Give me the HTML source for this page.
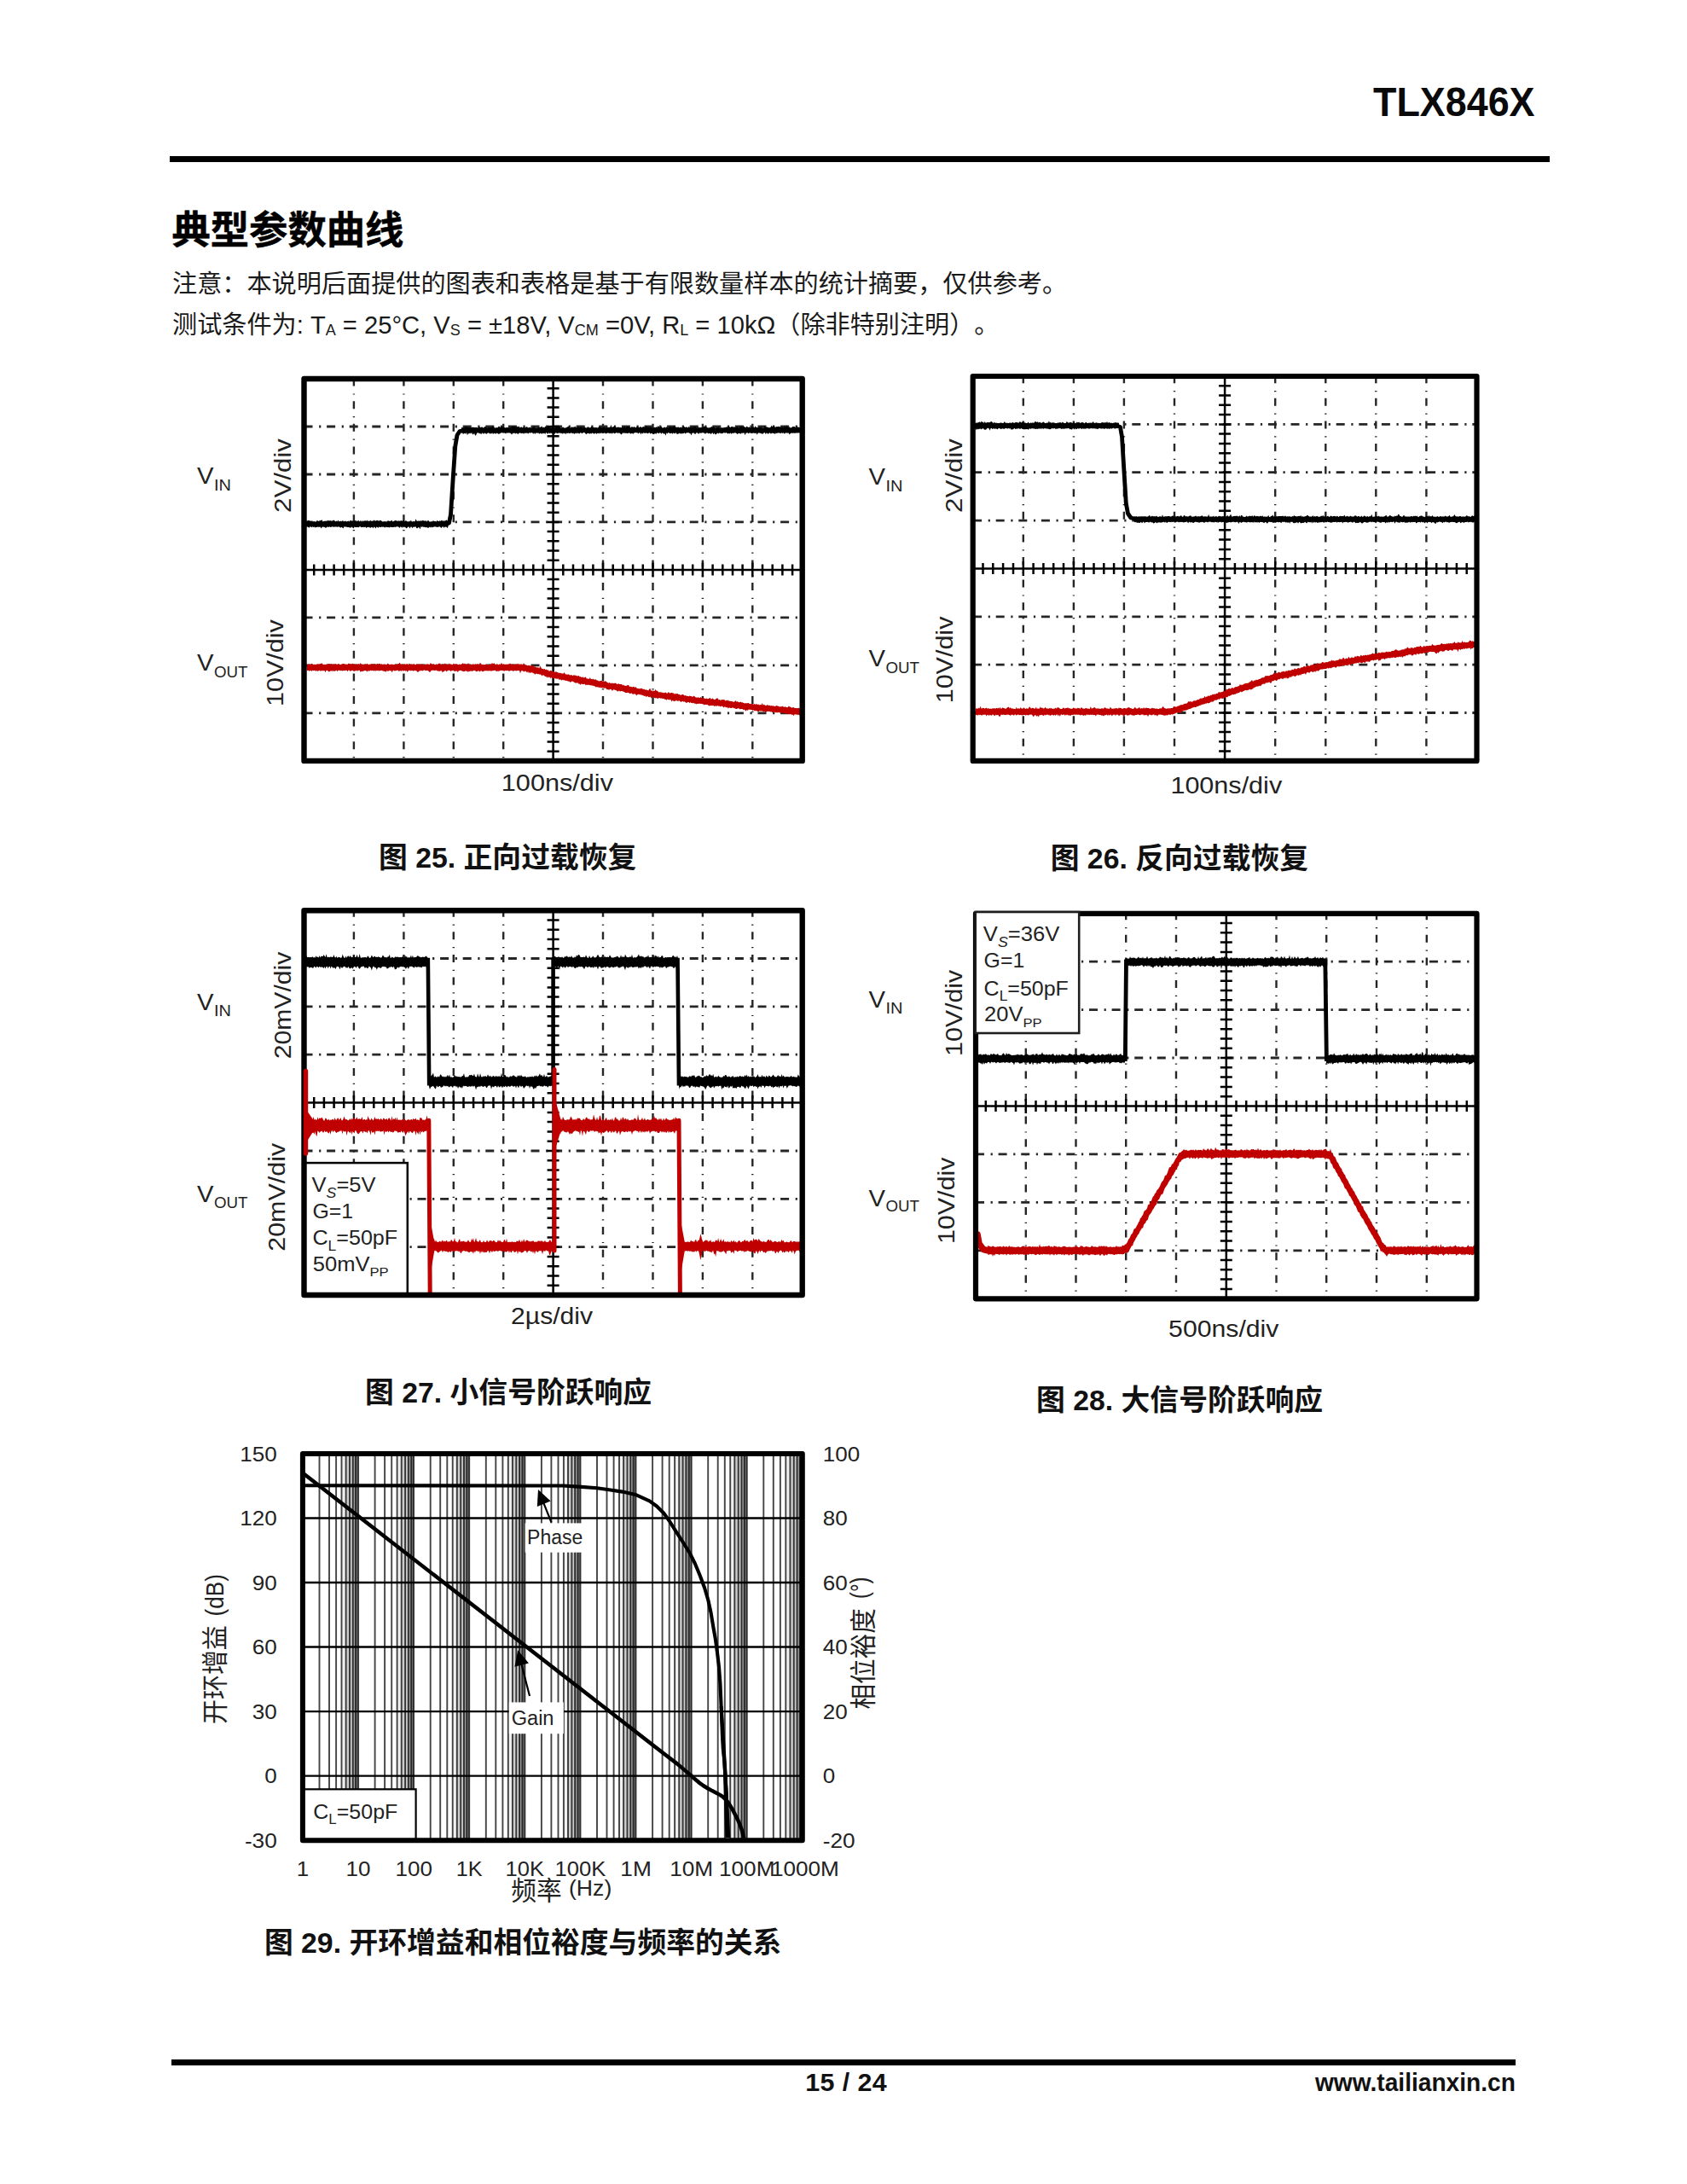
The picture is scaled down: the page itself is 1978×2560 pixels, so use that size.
<!DOCTYPE html>
<html lang="zh-CN">
<head>
<meta charset="utf-8">
<title>TLX846X 典型参数曲线</title>
<style>
html,body{margin:0;padding:0;background:#fff;}
body{text-spacing-trim:space-all;width:1978px;height:2560px;position:relative;overflow:hidden;font-family:"Liberation Sans", "Noto Sans CJK SC", sans-serif;color:#111;}
.abs{position:absolute;white-space:nowrap;line-height:1;}
.hdr{left:1609.5px;top:95.1px;font-size:48.5px;font-weight:bold;color:#0a0a0a;transform-origin:0 0;transform:scaleX(0.925);}
.rule{position:absolute;background:#000;}
h1{margin:0;font-size:45.3px;font-weight:700;left:201.5px;top:248.3px;color:#000;-webkit-text-stroke:0.5px #000;}
p{margin:0;}
.note{left:202px;font-size:29.15px;color:#1a1a1a;}
.cap{font-size:33.8px;font-weight:bold;color:#111;}
.ftr{font-size:30.4px;font-weight:bold;color:#111;transform-origin:0 0;}
svg{position:absolute;left:0;top:0;}
svg text{font-family:"Liberation Sans", "Noto Sans CJK SC", sans-serif;fill:#222;}
sub{font-size:62%;vertical-align:baseline;position:relative;top:0.12em;}
</style>
</head>
<body>
<header><div class="abs hdr" id="hdr">TLX846X</div></header>
<div class="rule" style="left:198.5px;top:183px;width:1618.5px;height:7.4px"></div>
<main>
<h1 class="abs" id="h1">典型参数曲线</h1>
<p class="abs note" id="n1" style="top:319px">注意：本说明后面提供的图表和表格是基于有限数量样本的统计摘要，仅供参考。</p>
<p class="abs note" id="n2" style="top:367px">测试条件为: T<sub>A</sub> = 25°C, V<sub>S</sub> = ±18V, V<sub>CM</sub> =0V, R<sub>L</sub> = 10kΩ（除非特别注明）。</p>
<svg width="1978" height="2560" viewBox="0 0 1978 2560">
<g id="fig25">
<path d="M414.9,443.6V891.9M473.4,443.6V891.9M531.8,443.6V891.9M590.2,443.6V891.9M707,443.6V891.9M765.5,443.6V891.9M823.9,443.6V891.9M882.3,443.6V891.9" stroke="#262626" stroke-width="2.4" stroke-dasharray="9 8.8 1.2 7.6" fill="none"/>
<path d="M356.5,500H940.8M356.5,556H940.8M356.5,611.9H940.8M356.5,723.9H940.8M356.5,779.9H940.8M356.5,835.9H940.8" stroke="#262626" stroke-width="2.8" stroke-dasharray="10 7.6 2.2 6.8" fill="none"/>
<path d="M356.5,667.9H940.8M648.6,444V891.9M368.2,661.4V674.4M379.9,661.4V674.4M391.6,661.4V674.4M403.2,661.4V674.4M414.9,659.4V676.4M426.6,661.4V674.4M438.3,661.4V674.4M450,661.4V674.4M461.7,661.4V674.4M473.4,659.4V676.4M485,661.4V674.4M496.7,661.4V674.4M508.4,661.4V674.4M520.1,661.4V674.4M531.8,659.4V676.4M543.5,661.4V674.4M555.1,661.4V674.4M566.8,661.4V674.4M578.5,661.4V674.4M590.2,659.4V676.4M601.9,661.4V674.4M613.6,661.4V674.4M625.3,661.4V674.4M636.9,661.4V674.4M648.6,659.4V676.4M660.3,661.4V674.4M672,661.4V674.4M683.7,661.4V674.4M695.4,661.4V674.4M707,659.4V676.4M718.7,661.4V674.4M730.4,661.4V674.4M742.1,661.4V674.4M753.8,661.4V674.4M765.5,659.4V676.4M777.2,661.4V674.4M788.8,661.4V674.4M800.5,661.4V674.4M812.2,661.4V674.4M823.9,659.4V676.4M835.6,661.4V674.4M847.3,661.4V674.4M859,661.4V674.4M870.6,661.4V674.4M882.3,659.4V676.4M894,661.4V674.4M905.7,661.4V674.4M917.4,661.4V674.4M929.1,661.4V674.4M641.6,455.2H655.6M641.6,466.4H655.6M641.6,477.6H655.6M641.6,488.8H655.6M641.6,500H655.6M641.6,511.2H655.6M641.6,522.4H655.6M641.6,533.6H655.6M641.6,544.8H655.6M641.6,556H655.6M641.6,567.2H655.6M641.6,578.4H655.6M641.6,589.6H655.6M641.6,600.7H655.6M641.6,611.9H655.6M641.6,623.1H655.6M641.6,634.3H655.6M641.6,645.5H655.6M641.6,656.7H655.6M641.6,667.9H655.6M641.6,679.1H655.6M641.6,690.3H655.6M641.6,701.5H655.6M641.6,712.7H655.6M641.6,723.9H655.6M641.6,735.1H655.6M641.6,746.3H655.6M641.6,757.5H655.6M641.6,768.7H655.6M641.6,779.9H655.6M641.6,791.1H655.6M641.6,802.3H655.6M641.6,813.5H655.6M641.6,824.7H655.6M641.6,835.9H655.6M641.6,847.1H655.6M641.6,858.3H655.6M641.6,869.5H655.6M641.6,880.7H655.6" stroke="#000" stroke-width="2.5" fill="none"/>
<path d="M358.5,611.4 359.5,610.8 360.5,610.7 361.5,610.1 362.5,610.1 363.5,611.3 364.5,611.3 365.5,611.1 366.5,611.3 367.5,611.2 368.5,610.9 369.5,611.6 370.5,611.5 371.5,610.3 372.5,610.3 373.5,611 374.5,610.7 375.5,610.3 376.5,609.9 377.5,609.2 378.5,611.4 379.5,611.1 380.5,610.7 381.5,610.8 382.5,610.4 383.5,611.3 384.5,609.7 385.5,610.8 386.5,610.4 387.5,610.3 388.5,610.9 389.5,611.3 390.5,610.1 391.5,609.6 392.5,611.2 393.5,611.3 394.5,610.6 395.5,611.2 396.5,609.4 397.5,611.4 398.5,610.7 399.5,610.8 400.5,611.3 401.5,610.6 402.5,611.4 403.5,610.9 404.5,610.7 405.5,610.8 406.5,611.4 407.5,611 408.5,610.5 409.5,611.6 410.5,610.8 411.5,609.8 412.5,611.2 413.5,610.6 414.5,610.9 415.5,610.3 416.5,609.9 417.5,611.6 418.5,611.5 419.5,611 420.5,609.8 421.5,611.4 422.5,610 423.5,611.4 424.5,610.1 425.5,611.6 426.5,610.2 427.5,610.8 428.5,610.5 429.5,611 430.5,609.6 431.5,610.9 432.5,610.4 433.5,610.8 434.5,609.9 435.5,610.8 436.5,611.1 437.5,611.3 438.5,609.3 439.5,610.8 440.5,611 441.5,610.1 442.5,609.9 443.5,610.4 444.5,611.3 445.5,609.7 446.5,610.1 447.5,610.8 448.5,611.5 449.5,611.2 450.5,611.3 451.5,611 452.5,611.6 453.5,611.2 454.5,611.2 455.5,610.8 456.5,610.7 457.5,610.9 458.5,610.3 459.5,610.1 460.5,611.5 461.5,611.1 462.5,610.5 463.5,609.9 464.5,610.5 465.5,610.9 466.5,611.4 467.5,610.7 468.5,611.2 469.5,611.1 470.5,610 471.5,611.4 472.5,609.9 473.5,610 474.5,611.6 475.5,610.2 476.5,610.6 477.5,611.2 478.5,611.4 479.5,611 480.5,611.4 481.5,610.2 482.5,611.4 483.5,611.6 484.5,610.9 485.5,611.3 486.5,611.2 487.5,608.2 488.5,610.6 489.5,611.1 490.5,610.9 491.5,611.1 492.5,611.4 493.5,610.6 494.5,611.1 495.5,610.1 496.5,610.3 497.5,611 498.5,611 499.5,610.2 500.5,611.6 501.5,610 502.5,610.2 503.5,611.5 504.5,611.6 505.5,611.2 506.5,611.2 507.5,611.2 508.5,611.3 509.5,611 510.5,611.1 511.5,611.4 512.5,609.9 513.5,610.7 514.5,610.9 515.5,610.3 516.5,611.5 517.5,609.9 518.5,610.2 519.5,611.6 520.5,610.8 521.5,611.2 522.5,610.3 523.5,609.2 524.5,611.4 525.5,611.6 525.5,617.2 524.5,619.2 523.5,617.5 522.5,617.7 521.5,617.5 520.5,618.8 519.5,617.2 518.5,617.5 517.5,619 516.5,617.9 515.5,617.2 514.5,617.5 513.5,617.8 512.5,618 511.5,617.5 510.5,617.4 509.5,617.2 508.5,617.7 507.5,617.8 506.5,618.6 505.5,617.4 504.5,618.5 503.5,617.5 502.5,618.7 501.5,618.8 500.5,617.9 499.5,618.2 498.5,617.9 497.5,617.8 496.5,617.8 495.5,617.2 494.5,617.8 493.5,617.2 492.5,620.5 491.5,618.2 490.5,618.1 489.5,619.3 488.5,619.3 487.5,617.5 486.5,617.3 485.5,617.9 484.5,617.5 483.5,619.3 482.5,617.5 481.5,617.4 480.5,619.6 479.5,617.5 478.5,617.5 477.5,618.6 476.5,619.5 475.5,618.2 474.5,617.4 473.5,618.2 472.5,617.2 471.5,618.8 470.5,617.7 469.5,617.2 468.5,619 467.5,617.8 466.5,617.2 465.5,617.2 464.5,617.4 463.5,618 462.5,617.4 461.5,618 460.5,617.9 459.5,618.1 458.5,617.8 457.5,617.7 456.5,618.6 455.5,617.9 454.5,618.1 453.5,618.1 452.5,617.4 451.5,618.6 450.5,617.9 449.5,617.5 448.5,617.7 447.5,617.4 446.5,618.1 445.5,618.1 444.5,617.4 443.5,618.8 442.5,618.1 441.5,617.6 440.5,619.5 439.5,618 438.5,617.5 437.5,619.3 436.5,618 435.5,617.8 434.5,618.8 433.5,618.4 432.5,617.8 431.5,617.9 430.5,618 429.5,618.9 428.5,617.5 427.5,617.9 426.5,617.8 425.5,617.9 424.5,617.7 423.5,618.3 422.5,617.2 421.5,617.2 420.5,618.2 419.5,618 418.5,618.1 417.5,617.9 416.5,617.9 415.5,617.4 414.5,619.5 413.5,618.5 412.5,617.6 411.5,618.5 410.5,618.6 409.5,618.2 408.5,617.9 407.5,618.1 406.5,617.8 405.5,617.4 404.5,617.5 403.5,617.3 402.5,619.6 401.5,618.5 400.5,617.8 399.5,618.5 398.5,618.3 397.5,617.3 396.5,617.5 395.5,617.8 394.5,617.4 393.5,617.5 392.5,617.5 391.5,617.7 390.5,617.4 389.5,617.3 388.5,617.8 387.5,618.1 386.5,617.3 385.5,618.1 384.5,617.6 383.5,617.8 382.5,618.6 381.5,618.8 380.5,617.7 379.5,617.7 378.5,617.6 377.5,618.1 376.5,619.5 375.5,617.4 374.5,617.7 373.5,617.8 372.5,617.5 371.5,617.9 370.5,617.9 369.5,618.4 368.5,617.4 367.5,618.1 366.5,617.3 365.5,618.3 364.5,617.6 363.5,617.2 362.5,618.8 361.5,618 360.5,617.4 359.5,617.4 358.5,617.7 Z" fill="#000"/>
<path d="M523,614.4 526.5,613 528.5,603 531.5,556 533.8,523 536,510 539,505.5 544,504.4" stroke="#000" stroke-width="4.8" fill="none" stroke-linejoin="round" stroke-linecap="round"/>
<path d="M541,501 542,501.2 543,501 544,501.2 545,500.7 546,500.1 547,500.2 548,500.5 549,501 550,501.1 551,500.7 552,501.2 553,500.9 554,500.4 555,500.9 556,500.7 557,501.2 558,500.7 559,501.1 560,501.5 561,501.1 562,500.5 563,500.5 564,501.2 565,500.1 566,501.2 567,501.5 568.1,500.3 569.1,499.9 570.1,500.4 571.1,501.4 572.1,501 573.1,501 574.1,500.8 575.1,501.1 576.1,501 577.1,500.4 578.1,499.5 579.1,500.6 580.1,501.4 581.1,501.5 582.1,501.1 583.1,501.5 584.1,500.4 585.1,499.3 586.1,501 587.1,499.9 588.1,500.8 589.1,500.3 590.1,500.8 591.1,501.1 592.1,501.3 593.1,501.5 594.1,500.7 595.1,501.3 596.1,501.1 597.1,501.2 598.1,500.9 599.1,501.1 600.1,499.5 601.1,500.1 602.1,500 603.1,499.6 604.1,500.2 605.1,500.8 606.1,499.5 607.1,500.7 608.1,499.2 609.1,500.7 610.1,501.3 611.1,500.1 612.1,501.3 613.1,501 614.1,500.4 615.1,501.3 616.1,501 617.1,500.3 618.1,500.3 619.1,501.4 620.1,501.1 621.2,500.7 622.2,501.3 623.2,501.2 624.2,501 625.2,501.3 626.2,499.2 627.2,501 628.2,501.5 629.2,501.3 630.2,501.3 631.2,500.9 632.2,500.7 633.2,500.7 634.2,500.7 635.2,499.3 636.2,501.3 637.2,500.5 638.2,501.5 639.2,499.8 640.2,500.1 641.2,500.8 642.2,501.1 643.2,500.7 644.2,501.3 645.2,500.8 646.2,501.5 647.2,500.4 648.2,500.2 649.2,500.9 650.2,501.5 651.2,500.9 652.2,500.4 653.2,501.1 654.2,501.3 655.2,499.7 656.2,499.8 657.2,501.4 658.2,501.5 659.2,500.9 660.2,500.6 661.2,501.4 662.2,501.4 663.2,501.4 664.2,500.9 665.2,500.6 666.2,499.8 667.2,500.2 668.2,501.2 669.2,501.4 670.2,499.9 671.2,501 672.2,500.4 673.2,500.7 674.3,499.6 675.3,501.3 676.3,500.4 677.3,501.2 678.3,499.8 679.3,501.2 680.3,500.5 681.3,500.6 682.3,500.7 683.3,501.2 684.3,500.9 685.3,500.5 686.3,501.1 687.3,501.4 688.3,501.2 689.3,500.1 690.3,500.9 691.3,501.2 692.3,501.3 693.3,500.1 694.3,500 695.3,501 696.3,500.7 697.3,501.3 698.3,501 699.3,501 700.3,501.5 701.3,501.2 702.3,499.7 703.3,499.9 704.3,501.1 705.3,501.3 706.3,501.1 707.3,500.7 708.3,500.7 709.3,500.9 710.3,501.3 711.3,500.9 712.3,500.7 713.3,501 714.3,500.8 715.3,501 716.3,497.7 717.3,500.7 718.3,500.6 719.3,500.2 720.3,499.6 721.3,500.3 722.3,501.3 723.3,500.6 724.3,501.1 725.3,500.5 726.3,501 727.4,501 728.4,501.2 729.4,500.8 730.4,501.1 731.4,501.1 732.4,499.6 733.4,501.4 734.4,500.3 735.4,499.9 736.4,500.2 737.4,500 738.4,501.1 739.4,501.3 740.4,500.2 741.4,500.3 742.4,501.1 743.4,500 744.4,500.8 745.4,501.2 746.4,500.4 747.4,499.8 748.4,500.6 749.4,501.2 750.4,500.3 751.4,500.3 752.4,501.3 753.4,500.6 754.4,500 755.4,500.5 756.4,501.1 757.4,499.1 758.4,501.1 759.4,500.5 760.4,500.6 761.4,500.9 762.4,500.6 763.4,500.6 764.4,501.2 765.4,501.5 766.4,501.2 767.4,500.8 768.4,501.2 769.4,500.2 770.4,501.1 771.4,499.3 772.4,499.7 773.4,501.1 774.4,500.1 775.4,499.8 776.4,501.4 777.4,501.4 778.4,501.1 779.4,500.5 780.5,501.4 781.5,500.2 782.5,501 783.5,501.2 784.5,500.2 785.5,500.7 786.5,500.3 787.5,500.8 788.5,501 789.5,499.8 790.5,499.8 791.5,500 792.5,500.8 793.5,500.7 794.5,500.8 795.5,500.5 796.5,501.3 797.5,501 798.5,500.4 799.5,501.5 800.5,500.1 801.5,499.8 802.5,500.3 803.5,500.9 804.5,500.6 805.5,500.6 806.5,501.4 807.5,500 808.5,500.8 809.5,501.3 810.5,500.5 811.5,501.3 812.5,499.8 813.5,501.2 814.5,499.8 815.5,500.1 816.5,501 817.5,501.5 818.5,499.9 819.5,501.2 820.5,501 821.5,501.2 822.5,500.9 823.5,501 824.5,501.4 825.5,499.5 826.5,500.2 827.5,499.8 828.5,500.7 829.5,501.2 830.5,501.2 831.5,501.4 832.5,501.1 833.6,500.7 834.6,499.7 835.6,500.8 836.6,499.7 837.6,500.9 838.6,501.4 839.6,501.2 840.6,501 841.6,501 842.6,500.8 843.6,501.2 844.6,501.4 845.6,501.1 846.6,501.4 847.6,501.2 848.6,501.3 849.6,501 850.6,501.1 851.6,500.4 852.6,500.5 853.6,500.9 854.6,499.8 855.6,500.4 856.6,500.9 857.6,500.1 858.6,500 859.6,500.5 860.6,500.5 861.6,500.4 862.6,501.1 863.6,500.8 864.6,500.5 865.6,500.9 866.6,501.4 867.6,499.2 868.6,500.8 869.6,499.5 870.6,500.9 871.6,499.2 872.6,500 873.6,500.8 874.6,501.1 875.6,499.5 876.6,500.5 877.6,501.1 878.6,500.5 879.6,501 880.6,501.3 881.6,500.5 882.6,500.3 883.6,500.4 884.6,501.3 885.6,499.3 886.7,501.1 887.7,500.9 888.7,501.3 889.7,500.7 890.7,501 891.7,501 892.7,500.2 893.7,501.4 894.7,501.2 895.7,501.4 896.7,499.2 897.7,501.1 898.7,500.5 899.7,500.6 900.7,501.1 901.7,501.2 902.7,501.2 903.7,500.5 904.7,498.4 905.7,500.5 906.7,498.4 907.7,501.1 908.7,500.2 909.7,500.8 910.7,499.8 911.7,500.3 912.7,499.9 913.7,499.8 914.7,500.4 915.7,500.8 916.7,500.4 917.7,500.7 918.7,501.3 919.7,499.7 920.7,500.8 921.7,500.4 922.7,498.5 923.7,501.1 924.7,501.1 925.7,500.3 926.7,501.4 927.7,501.2 928.7,500.8 929.7,499.7 930.7,500.3 931.7,499.9 932.7,501.2 933.7,499.3 934.7,501.4 935.7,499.9 936.7,501.1 937.7,501.1 938.8,501.5 938.8,507.1 937.7,507.3 936.7,507.5 935.7,507.3 934.7,507.7 933.7,507.2 932.7,507.8 931.7,507.8 930.7,507.6 929.7,507.7 928.7,507.5 927.7,507.7 926.7,507.9 925.7,509.5 924.7,507.4 923.7,507.5 922.7,507.7 921.7,507.1 920.7,508.1 919.7,508.4 918.7,507.3 917.7,508 916.7,507.2 915.7,507.7 914.7,507.9 913.7,507.3 912.7,507.4 911.7,507.6 910.7,507.9 909.7,507.6 908.7,508.9 907.7,507.9 906.7,507.9 905.7,507.5 904.7,508 903.7,508.5 902.7,507.3 901.7,507.8 900.7,508.8 899.7,507.8 898.7,507.4 897.7,508.9 896.7,507.1 895.7,507.2 894.7,508.5 893.7,508.6 892.7,508.3 891.7,507.8 890.7,507.5 889.7,507.4 888.7,507.4 887.7,509.7 886.7,507.6 885.6,507.9 884.6,507.7 883.6,507.4 882.6,507.7 881.6,507.7 880.6,508 879.6,507.2 878.6,507.4 877.6,508.3 876.6,507.2 875.6,507.6 874.6,507.6 873.6,510.2 872.6,507.4 871.6,507.5 870.6,507.7 869.6,507.6 868.6,508.7 867.6,508.1 866.6,507.9 865.6,508 864.6,509 863.6,508 862.6,507.4 861.6,507.1 860.6,508.1 859.6,507.6 858.6,507.7 857.6,508.8 856.6,507.2 855.6,508.5 854.6,507.8 853.6,508.4 852.6,508.1 851.6,507.1 850.6,507.5 849.6,507.6 848.6,507.1 847.6,507.9 846.6,508 845.6,508.2 844.6,507.7 843.6,507.3 842.6,508.5 841.6,507.4 840.6,508.1 839.6,509.2 838.6,509.2 837.6,507.5 836.6,509.2 835.6,507.2 834.6,507.8 833.6,508.9 832.5,507.8 831.5,508 830.5,508.2 829.5,507.5 828.5,507.3 827.5,508.3 826.5,508.5 825.5,507.6 824.5,507.2 823.5,507.2 822.5,507.6 821.5,507.8 820.5,507.3 819.5,508.5 818.5,508.2 817.5,507.3 816.5,507.3 815.5,508.8 814.5,508.7 813.5,507.3 812.5,507.7 811.5,507.6 810.5,510.6 809.5,508 808.5,507.9 807.5,507.1 806.5,507.6 805.5,507.1 804.5,507.7 803.5,508.4 802.5,507.3 801.5,508 800.5,508 799.5,508.6 798.5,507.9 797.5,508.5 796.5,507.4 795.5,508.4 794.5,508.8 793.5,508.8 792.5,507.1 791.5,508.2 790.5,507.9 789.5,507.3 788.5,508.7 787.5,507.4 786.5,508.1 785.5,508.1 784.5,507.6 783.5,507.1 782.5,508.4 781.5,507.2 780.5,510.8 779.4,508.1 778.4,508.8 777.4,507.7 776.4,507.2 775.4,508.7 774.4,507.2 773.4,507.3 772.4,508.3 771.4,507.6 770.4,507.2 769.4,508.7 768.4,508 767.4,508.5 766.4,509.1 765.4,508.9 764.4,507.7 763.4,507.9 762.4,508.4 761.4,507.1 760.4,507.8 759.4,508.3 758.4,507.8 757.4,507.2 756.4,507.9 755.4,507.6 754.4,507.3 753.4,508.6 752.4,507.2 751.4,509.3 750.4,507.3 749.4,507.2 748.4,508.6 747.4,507.2 746.4,507.2 745.4,507.1 744.4,507.3 743.4,507.4 742.4,508.8 741.4,508.1 740.4,508 739.4,508.6 738.4,507.7 737.4,507.2 736.4,508 735.4,507.9 734.4,507.7 733.4,507.8 732.4,507.4 731.4,507.7 730.4,507.2 729.4,508.6 728.4,509.4 727.4,508.3 726.3,507.5 725.3,507.5 724.3,507.7 723.3,507.2 722.3,507.3 721.3,508.1 720.3,508.3 719.3,507.2 718.3,507.8 717.3,508.4 716.3,507.3 715.3,508.3 714.3,507.7 713.3,507.6 712.3,507.6 711.3,507.9 710.3,508.5 709.3,507.4 708.3,507.6 707.3,508.1 706.3,508.1 705.3,507.3 704.3,508.3 703.3,507.3 702.3,508.5 701.3,507.6 700.3,507.9 699.3,508.8 698.3,507.5 697.3,508.3 696.3,508.4 695.3,507.8 694.3,507.4 693.3,508.4 692.3,507.8 691.3,508.7 690.3,507.7 689.3,507.9 688.3,508.1 687.3,509.3 686.3,508.1 685.3,507.1 684.3,507.1 683.3,507.4 682.3,508.3 681.3,507.3 680.3,507.3 679.3,508.5 678.3,508 677.3,507.3 676.3,508.4 675.3,507.3 674.3,508.2 673.2,508.8 672.2,507.6 671.2,508.3 670.2,507.5 669.2,507.3 668.2,508.3 667.2,507.7 666.2,507.4 665.2,508.1 664.2,507.6 663.2,509.3 662.2,507.2 661.2,508.4 660.2,507.4 659.2,508.7 658.2,507.4 657.2,508.1 656.2,507.2 655.2,507.7 654.2,507.6 653.2,508.3 652.2,507.2 651.2,507.5 650.2,509 649.2,507.9 648.2,507.2 647.2,508.2 646.2,507.6 645.2,507.8 644.2,508.3 643.2,507.1 642.2,508.9 641.2,507.7 640.2,507.1 639.2,509.1 638.2,507.4 637.2,508.3 636.2,507.8 635.2,508.8 634.2,507.9 633.2,507.8 632.2,508.8 631.2,507.2 630.2,507.8 629.2,507.6 628.2,507.6 627.2,509.1 626.2,507.2 625.2,508.7 624.2,507.2 623.2,507.1 622.2,507.4 621.2,507.6 620.1,507.2 619.1,508.7 618.1,507.3 617.1,507.7 616.1,507.7 615.1,507.5 614.1,508.7 613.1,507.6 612.1,508 611.1,508.1 610.1,507.6 609.1,507.5 608.1,508 607.1,509.3 606.1,507.4 605.1,507.9 604.1,508.6 603.1,507.2 602.1,507.9 601.1,507.7 600.1,509.4 599.1,508.2 598.1,507.5 597.1,507.4 596.1,507.3 595.1,507.7 594.1,507.2 593.1,508.3 592.1,507.9 591.1,507.2 590.1,507.8 589.1,507.3 588.1,507.3 587.1,507.4 586.1,508.3 585.1,508.8 584.1,508.6 583.1,507.7 582.1,507.7 581.1,508.8 580.1,508 579.1,507.7 578.1,508.9 577.1,507.3 576.1,508.5 575.1,507.9 574.1,508.5 573.1,507.3 572.1,507.5 571.1,508.1 570.1,509.1 569.1,507.8 568.1,507.4 567,509 566,507.2 565,508 564,509.3 563,507.4 562,508.4 561,507.2 560,507.2 559,507.9 558,510.4 557,510.2 556,507.4 555,509.5 554,509 553,507.1 552,508.6 551,507.2 550,508.5 549,507.9 548,510.2 547,507.1 546,508.8 545,507.8 544,508 543,508.9 542,507.3 541,507.6 Z" fill="#000"/>
<path d="M359.5,778.8 360.5,778.7 361.5,779.1 362.5,778.3 363.5,778.9 364.5,778.9 365.5,777.5 366.5,778.5 367.5,778.9 368.5,778.7 369.5,778.8 370.5,778.9 371.5,778.4 372.5,778.3 373.5,778.2 374.5,779 375.5,778.1 376.5,777.8 377.5,777.3 378.5,778.7 379.5,778.9 380.5,778.7 381.5,779 382.5,778.8 383.5,778.4 384.5,778.5 385.6,777.9 386.6,778.3 387.6,778.4 388.6,777.9 389.6,779.1 390.6,779.1 391.6,778.2 392.6,779 393.6,777.8 394.6,778.7 395.6,778.7 396.6,777.9 397.6,778.3 398.6,778.9 399.6,779.1 400.6,778.4 401.6,778.4 402.6,777.7 403.6,778.3 404.6,778.6 405.6,778.5 406.6,778.7 407.6,778.8 408.6,777.6 409.6,778 410.6,778.6 411.6,778 412.6,778.7 413.6,777.6 414.6,778.6 415.6,778.4 416.6,778.9 417.6,778.4 418.6,779.1 419.6,778.6 420.6,778.1 421.6,778.8 422.6,776.9 423.6,778.6 424.6,778.2 425.6,778.9 426.6,778.6 427.6,778.7 428.6,778.4 429.6,778.7 430.6,777.5 431.6,779 432.6,778.8 433.6,778.7 434.6,778.6 435.7,778 436.7,778.2 437.7,778.7 438.7,777.8 439.7,778.5 440.7,779 441.7,778.9 442.7,777.5 443.7,779.1 444.7,777.8 445.7,778 446.7,779.1 447.7,778 448.7,778.9 449.7,778.4 450.7,778.4 451.7,778.5 452.7,779 453.7,778.8 454.7,777.6 455.7,778.8 456.7,779 457.7,778.7 458.7,778.8 459.7,778.6 460.7,778.9 461.7,779.1 462.7,778.8 463.7,778.7 464.7,778.5 465.7,779 466.7,778 467.7,778 468.7,776.6 469.7,778.8 470.7,779.1 471.7,779 472.7,778.1 473.7,778.7 474.7,777.9 475.7,779.1 476.7,778.3 477.7,778 478.7,779.2 479.7,777.4 480.7,778.5 481.7,779 482.7,778.4 483.7,778.7 484.7,778.2 485.8,778.3 486.8,779.2 487.8,779 488.8,777.8 489.8,779 490.8,778.5 491.8,778.8 492.8,778.7 493.8,778.7 494.8,778.3 495.8,778.7 496.8,779.1 497.8,778.9 498.8,779 499.8,779.2 500.8,778 501.8,778.6 502.8,778.8 503.8,778.9 504.8,777.1 505.8,777.9 506.8,778.6 507.8,778.7 508.8,778.7 509.8,778.9 510.8,779.1 511.8,778.2 512.8,778.9 513.8,778.1 514.8,777.8 515.8,777.5 516.8,779.1 517.8,779.2 518.8,778.4 519.8,778.2 520.8,779.2 521.8,777.3 522.8,778.4 523.8,778.8 524.8,778.9 525.8,779.2 526.8,777.3 527.8,778.8 528.8,778.2 529.8,779 530.8,779.1 531.8,777.5 532.8,778.5 533.8,778.6 534.8,778.4 535.8,778.6 536.9,778.7 537.9,779.2 538.9,778.2 539.9,779.2 540.9,778.2 541.9,778.2 542.9,777.1 543.9,778.8 544.9,777.6 545.9,778.8 546.9,778.4 547.9,779 548.9,776.9 549.9,778.6 550.9,779.1 551.9,779 552.9,778.9 553.9,779 554.9,777.8 555.9,779.2 556.9,778.2 557.9,778.5 558.9,778.4 559.9,778 560.9,778.9 561.9,778.9 562.9,776.8 563.9,777.7 564.9,778.9 565.9,778.7 566.9,778.9 567.9,779.1 568.9,779.1 569.9,779 570.9,779.1 571.9,779.1 572.9,779 573.9,778.7 574.9,778.3 575.9,779.2 576.9,776.7 577.9,778.3 578.9,777.4 579.9,777.6 580.9,779.1 581.9,779.1 582.9,777.8 583.9,779.3 584.9,779 585.9,778.2 587,778.9 588,776.6 589,779 590,778.3 591,778.2 592,779.2 593,778.3 594,779.1 595,778.5 596,778.6 597,778.9 598,777.3 599,778.4 600,779.1 601,778.3 602,778.7 603,779 604,779 605,778.2 606,779.1 607,777.6 608,778.6 609,778.6 610,778.5 611,778.4 612,778.4 613,779.2 614,776.9 615,779.6 616,779.6 617,779.2 618,780 619,780.3 620,779.4 621,780.3 622,780.2 623,780.8 624.1,779.3 625.1,780.7 626.1,781.5 627.2,781.2 628.2,781.8 629.2,782.4 630.2,782.3 631.3,782.4 632.3,783.4 633.3,780.6 634.4,782.5 635.4,784.1 636.4,783.7 637.5,784.6 638.5,783.8 639.5,785.3 640.6,784.6 641.6,785.5 642.6,785.3 643.6,786.4 644.7,786.4 645.7,785.7 646.7,786.2 647.8,787.5 648.8,786.9 649.8,787.6 650.8,788.1 651.8,787.1 652.8,787.7 653.8,788.2 654.8,788.5 655.8,789.1 656.8,788.7 657.8,789 658.8,789.4 659.8,789.6 660.8,789.5 661.8,787.9 662.8,790.2 663.8,790.4 664.8,790.4 665.8,790.8 666.8,790.3 667.8,791.2 668.8,791.4 669.8,791.1 670.8,791.5 671.8,792.3 672.8,790.9 673.8,791.8 674.8,791.4 675.8,792 676.8,792.5 677.8,792.2 678.8,792.1 679.8,793.4 680.8,793 681.8,794.1 682.8,793.8 683.8,793.5 684.8,794.8 685.8,793.8 686.8,793.6 687.8,795.4 688.8,795.5 689.8,795.5 690.8,796 691.8,794 692.8,795.9 693.8,796.1 694.8,796.2 695.8,795.4 696.8,797.1 697.8,796.2 698.8,796.4 699.8,797.4 700.8,797.5 701.8,798.2 702.8,798.4 703.8,798.1 704.8,797.9 705.8,797.7 706.8,799 707.8,798.4 708.8,799.1 709.8,798.1 710.8,799.1 711.9,799.8 712.9,800.4 713.9,800.5 714.9,799.9 715.9,800.9 716.9,801.1 717.9,800.3 718.9,801.5 719.9,800.5 720.9,801.1 722,800.5 723,801.8 724,802.2 725,801 726,801.9 727,802.1 728,802.1 729,801.9 730,803.4 731,802.6 732.1,803.8 733.1,803.8 734.1,804 735.1,803.4 736.1,802.9 737.1,803.1 738.1,805 739.1,804.8 740.1,805.1 741.2,805.5 742.2,805.1 743.2,804.8 744.2,806.1 745.2,805.1 746.2,806.3 747.2,806.9 748.2,807.1 749.2,807.3 750.2,807.3 751.3,807 752.3,806.7 753.3,807.4 754.3,807.9 755.3,807.6 756.3,808.7 757.3,808.3 758.3,808.7 759.3,809 760.3,809.4 761.4,807.4 762.4,806.9 763.4,809.9 764.4,809.1 765.4,810.4 766.4,809.2 767.4,810.2 768.4,808 769.4,809.5 770.4,809.8 771.4,810.6 772.4,811.4 773.4,811.2 774.4,811.3 775.5,811.6 776.5,811.8 777.5,812.1 778.5,812.3 779.5,812 780.5,811.5 781.5,812.5 782.5,812.8 783.5,811.3 784.5,811.8 785.5,812.8 786.5,812.1 787.5,812.1 788.5,812.3 789.5,812.3 790.5,813.7 791.5,812.8 792.5,813.5 793.5,813.1 794.5,812.9 795.6,814.1 796.6,814.1 797.6,814.5 798.6,815 799.6,813.9 800.6,814.1 801.6,814.4 802.6,815.5 803.6,815 804.6,815.7 805.6,815.8 806.6,816.1 807.6,816.2 808.6,815.5 809.6,816 810.6,816.1 811.6,816.7 812.6,816.4 813.6,815.4 814.7,816.4 815.7,817.5 816.7,817.6 817.7,817.7 818.7,817.2 819.7,817.8 820.7,818.1 821.7,816.9 822.7,817.9 823.7,818.3 824.7,817.6 825.7,818.8 826.7,818.7 827.7,819 828.7,818.6 829.7,819.3 830.7,819.1 831.7,818.5 832.7,817.7 833.7,819.7 834.7,818.9 835.7,818.6 836.7,819.7 837.7,820 838.7,819.9 839.7,818.7 840.7,818.5 841.7,818.6 842.7,820.4 843.7,820 844.7,820.7 845.7,820.4 846.7,820.1 847.7,820.2 848.7,819.9 849.7,820.5 850.7,821.8 851.7,820.4 852.7,821.4 853.7,820.3 854.7,822.1 855.7,821.5 856.7,822 857.7,822 858.7,822.2 859.7,822.4 860.7,823 861.7,821.8 862.7,821.2 863.7,822.8 864.7,822 865.7,823.1 866.7,823.2 867.7,823.1 868.7,822.5 869.7,823.4 870.7,823.2 871.7,823.9 872.7,824.3 873.7,824.4 874.7,824.1 875.7,824.6 876.7,823.9 877.7,824 878.7,825.1 879.7,824.7 880.7,825.3 881.7,825.1 882.7,825.3 883.7,825.4 884.7,824.9 885.7,825.9 886.7,825 887.7,825.8 888.7,825.8 889.7,825.8 890.7,826.4 891.7,826.1 892.7,826.2 893.7,823.9 894.7,826.7 895.7,825.4 896.7,826.6 897.7,826.9 898.7,827 899.7,826.1 900.7,826.8 901.7,826.9 902.7,826.7 903.7,827.6 904.7,827 905.7,827.4 906.7,827.2 907.7,827.7 908.7,828.1 909.7,827.5 910.7,826.9 911.7,827.6 912.7,827.8 913.7,828.3 914.7,828.4 915.7,828 916.7,828.4 917.7,827.4 918.7,828.4 919.7,829.1 920.7,827.9 921.7,829.3 922.7,828.9 923.7,829.2 924.7,827.5 925.7,828.2 926.7,828.8 927.7,829.3 928.7,829.7 929.7,828.9 930.7,829.2 931.7,830 932.7,830.1 933.7,830.1 934.7,830.2 935.7,830 936.7,829.8 937.7,830.4 938.7,830.9 939.8,831 939.8,837.4 938.7,839.1 937.7,839 936.7,837.4 935.7,838.2 934.7,837.3 933.7,837.6 932.7,837.2 931.7,837.3 930.7,839.2 929.7,837.5 928.7,838.3 927.7,836.9 926.7,837.6 925.7,837.3 924.7,836.9 923.7,836.4 922.7,836.5 921.7,836.7 920.7,836.7 919.7,836 918.7,835.9 917.7,836.6 916.7,835.3 915.7,835.5 914.7,835.6 913.7,835.2 912.7,835.1 911.7,835.3 910.7,835.3 909.7,835.3 908.7,834.8 907.7,834.7 906.7,835 905.7,835.2 904.7,834.2 903.7,834.5 902.7,834.1 901.7,834 900.7,833.8 899.7,834.1 898.7,834.3 897.7,835.2 896.7,834 895.7,834.6 894.7,834 893.7,833.4 892.7,833.5 891.7,833.4 890.7,833.2 889.7,834.1 888.7,834.2 887.7,833.4 886.7,833 885.7,833.2 884.7,833.3 883.7,832.3 882.7,832.9 881.7,832.1 880.7,831.9 879.7,831.8 878.7,831.7 877.7,831.6 876.7,832.9 875.7,831.9 874.7,833.4 873.7,832.8 872.7,831.4 871.7,832.4 870.7,831.1 869.7,831.1 868.7,831.1 867.7,831.6 866.7,830.6 865.7,830.2 864.7,830.4 863.7,831.1 862.7,831.1 861.7,830.3 860.7,830.3 859.7,829.6 858.7,829.4 857.7,830.1 856.7,829.9 855.7,829.4 854.7,829.5 853.7,830.6 852.7,828.7 851.7,829.4 850.7,828.8 849.7,828.3 848.7,829.6 847.7,828.5 846.7,827.8 845.7,827.8 844.7,828.4 843.7,827.4 842.7,827.7 841.7,827.3 840.7,827.2 839.7,828 838.7,827 837.7,828.3 836.7,826.9 835.7,827 834.7,827.1 833.7,827.3 832.7,827 831.7,827.4 830.7,827.1 829.7,826.1 828.7,826 827.7,826 826.7,825.7 825.7,826.4 824.7,825.6 823.7,825.2 822.7,825 821.7,825.1 820.7,824.8 819.7,824.7 818.7,824.9 817.7,824.8 816.7,825.6 815.7,824.8 814.7,824.9 813.6,823.8 812.6,824.4 811.6,823.7 810.6,824.2 809.6,823.1 808.6,824.2 807.6,823 806.6,823 805.6,823.4 804.6,823.9 803.6,822.9 802.6,822.2 801.6,822.7 800.6,822.1 799.6,821.9 798.6,823 797.6,822.3 796.6,821.3 795.6,821.4 794.5,822.1 793.5,821.1 792.5,821.5 791.5,821.6 790.5,822.3 789.5,821.6 788.5,821.1 787.5,822.5 786.5,820 785.5,820.4 784.5,820.1 783.5,820.2 782.5,819.5 781.5,820.8 780.5,819.7 779.5,820 778.5,818.8 777.5,819.1 776.5,818.8 775.5,818.6 774.4,818.4 773.4,818.2 772.4,818.1 771.4,819.3 770.4,818.5 769.4,818.1 768.4,818.6 767.4,818.1 766.4,817.3 765.4,817.1 764.4,817.3 763.4,818.6 762.4,816.6 761.4,817.3 760.3,816.9 759.3,816 758.3,816.5 757.3,816.7 756.3,815.5 755.3,816.1 754.3,815.2 753.3,815.1 752.3,814.6 751.3,814.6 750.2,814.1 749.2,813.9 748.2,813.8 747.2,814.3 746.2,815.4 745.2,813.7 744.2,813.2 743.2,813.5 742.2,813.8 741.2,813.2 740.1,812.3 739.1,813 738.1,813 737.1,811.8 736.1,812 735.1,811.7 734.1,812.3 733.1,812.1 732.1,811.1 731,810.8 730,810.2 729,810 728,809.9 727,810.7 726,809.6 725,810.3 724,810.6 723,809.4 722,809.1 720.9,808.8 719.9,808.3 718.9,808.4 717.9,810 716.9,808.3 715.9,807.8 714.9,808.3 713.9,808.8 712.9,808 711.9,808.4 710.8,807.2 709.8,806.3 708.8,806.7 707.8,806.2 706.8,806.5 705.8,806.1 704.8,806.4 703.8,805.6 702.8,806.3 701.8,805.4 700.8,805.6 699.8,804.9 698.8,805.7 697.8,804.4 696.8,804.2 695.8,804.1 694.8,803.5 693.8,803.6 692.8,803.2 691.8,803.2 690.8,802.8 689.8,802.7 688.8,803 687.8,802.5 686.8,803.4 685.8,801.8 684.8,802.1 683.8,802.1 682.8,801.9 681.8,801.2 680.8,802.9 679.8,801.4 678.8,802.1 677.8,800.2 676.8,800.8 675.8,800.2 674.8,800.8 673.8,799.9 672.8,799.5 671.8,798.8 670.8,798.6 669.8,799.1 668.8,800.1 667.8,798.7 666.8,798.8 665.8,798.5 664.8,797.9 663.8,797.8 662.8,797.9 661.8,796.9 660.8,797.6 659.8,796.6 658.8,797.5 657.8,797.3 656.8,796 655.8,797.3 654.8,795.6 653.8,795.8 652.8,795.6 651.8,795.7 650.8,795.1 649.8,794.9 648.8,795.5 647.8,795.3 646.7,793.9 645.7,795.6 644.7,793.6 643.6,794.4 642.6,793 641.6,794.7 640.6,793.1 639.5,793.1 638.5,792.5 637.5,791.6 636.4,791.3 635.4,792.4 634.4,790.7 633.3,790.4 632.3,790.5 631.3,789.9 630.2,790.2 629.2,789.6 628.2,789.8 627.2,790.7 626.1,789.2 625.1,789 624.1,788.6 623,787.9 622,788.9 621,788.1 620,788.9 619,787 618,788.6 617,787.2 616,786.6 615,787 614,787.5 613,786.3 612,786.3 611,786.6 610,789.4 609,786.1 608,786.1 607,786.1 606,786.2 605,786.4 604,785.9 603,786.1 602,786.9 601,786.2 600,786 599,786 598,786.3 597,787.1 596,786 595,785.9 594,786.3 593,785.9 592,786 591,786.9 590,785.7 589,786.3 588,785.8 587,786 585.9,786.3 584.9,786.7 583.9,786.8 582.9,786.5 581.9,787.2 580.9,785.8 579.9,785.8 578.9,786 577.9,785.9 576.9,786.6 575.9,786.5 574.9,786.6 573.9,785.9 572.9,786.4 571.9,786.4 570.9,785.9 569.9,786.6 568.9,786 567.9,786.4 566.9,786.8 565.9,787.6 564.9,786.4 563.9,785.9 562.9,787.5 561.9,786.7 560.9,786.2 559.9,786.8 558.9,787.3 557.9,787.1 556.9,785.8 555.9,786.1 554.9,785.9 553.9,786.9 552.9,786.4 551.9,786.5 550.9,786.9 549.9,786.5 548.9,787.9 547.9,786.4 546.9,787 545.9,786.1 544.9,786.9 543.9,787.3 542.9,786.8 541.9,786.7 540.9,786 539.9,785.7 538.9,785.9 537.9,786.2 536.9,787.9 535.8,786.5 534.8,786.8 533.8,786.4 532.8,787.3 531.8,785.8 530.8,785.9 529.8,785.7 528.8,787.3 527.8,785.9 526.8,785.7 525.8,785.8 524.8,786.1 523.8,787.4 522.8,786.2 521.8,785.8 520.8,787.3 519.8,787.1 518.8,788.4 517.8,786.2 516.8,786.3 515.8,786.7 514.8,786.7 513.8,786.5 512.8,786.6 511.8,785.7 510.8,785.8 509.8,786.1 508.8,785.8 507.8,785.7 506.8,785.7 505.8,785.8 504.8,787.3 503.8,788.1 502.8,787.1 501.8,786.1 500.8,785.9 499.8,786 498.8,786 497.8,785.6 496.8,785.6 495.8,786.5 494.8,785.9 493.8,786.3 492.8,785.9 491.8,786.6 490.8,787.3 489.8,787.9 488.8,786.7 487.8,786.2 486.8,785.8 485.8,786 484.7,786.8 483.7,785.9 482.7,785.9 481.7,786.3 480.7,785.9 479.7,785.7 478.7,786.3 477.7,788 476.7,785.9 475.7,786.7 474.7,786.1 473.7,786.1 472.7,786.7 471.7,785.6 470.7,786.8 469.7,786.2 468.7,786.3 467.7,787 466.7,785.8 465.7,785.7 464.7,786 463.7,786.3 462.7,786.4 461.7,785.8 460.7,786 459.7,788.4 458.7,785.9 457.7,786.6 456.7,785.7 455.7,786.5 454.7,786.9 453.7,785.8 452.7,787.8 451.7,787.1 450.7,786.9 449.7,786.4 448.7,786.5 447.7,785.7 446.7,785.9 445.7,785.9 444.7,786.6 443.7,786 442.7,786.2 441.7,785.8 440.7,786.7 439.7,785.7 438.7,786.7 437.7,785.9 436.7,786.1 435.7,786.2 434.6,785.7 433.6,786.2 432.6,786.7 431.6,785.9 430.6,787.4 429.6,786.5 428.6,785.9 427.6,785.9 426.6,786.4 425.6,786.8 424.6,787 423.6,787.1 422.6,787.7 421.6,785.7 420.6,785.6 419.6,786.8 418.6,785.8 417.6,786.4 416.6,786.1 415.6,786.9 414.6,786.7 413.6,785.8 412.6,786.1 411.6,786.2 410.6,787.1 409.6,785.7 408.6,785.6 407.6,787.3 406.6,785.7 405.6,785.8 404.6,786 403.6,786.1 402.6,786 401.6,786.4 400.6,785.9 399.6,786.2 398.6,786 397.6,785.8 396.6,785.8 395.6,787.1 394.6,785.7 393.6,786 392.6,787.2 391.6,785.8 390.6,787.2 389.6,785.9 388.6,786.5 387.6,786.5 386.6,786.9 385.6,787.4 384.5,786.5 383.5,785.7 382.5,786 381.5,788.3 380.5,785.9 379.5,786.2 378.5,786.2 377.5,786 376.5,786.4 375.5,786.5 374.5,785.8 373.5,786.2 372.5,787.1 371.5,785.8 370.5,787 369.5,785.8 368.5,786 367.5,786.2 366.5,785.5 365.5,787.1 364.5,786 363.5,785.9 362.5,786.7 361.5,785.7 360.5,786 359.5,785.7 Z" fill="#c00000"/>
<circle cx="938.2" cy="834.2" r="3.4" fill="#c00000"/>
<rect x="356.5" y="444" width="584.2" height="447.9" fill="none" stroke="#000" stroke-width="6.4" stroke-linejoin="round"/>
<text x="231" y="566.5" font-size="27" textLength="19.5" lengthAdjust="spacingAndGlyphs">V</text><text x="251" y="575" font-size="18" textLength="20" lengthAdjust="spacingAndGlyphs">IN</text>
<text x="231" y="786" font-size="27" textLength="19.5" lengthAdjust="spacingAndGlyphs">V</text><text x="251" y="793.5" font-size="18" textLength="39.5" lengthAdjust="spacingAndGlyphs">OUT</text>
<text x="341.4" y="601" font-size="27" textLength="87" lengthAdjust="spacingAndGlyphs" transform="rotate(-90 341.4 601)">2V/div</text>
<text x="331.5" y="828" font-size="27" textLength="101.7" lengthAdjust="spacingAndGlyphs" transform="rotate(-90 331.5 828)">10V/div</text>
<text x="587.8" y="926.8" font-size="27" textLength="131.2" lengthAdjust="spacingAndGlyphs">100ns/div</text>
</g>
<g id="fig26">
<path d="M1199.8,440.2V891.9M1258.9,440.2V891.9M1317.9,440.2V891.9M1377,440.2V891.9M1495.2,440.2V891.9M1554.3,440.2V891.9M1613.3,440.2V891.9M1672.4,440.2V891.9" stroke="#262626" stroke-width="2.4" stroke-dasharray="9 8.8 1.2 7.6" fill="none"/>
<path d="M1141.1,497.4H1731.5M1141.1,553.7H1731.5M1141.1,610.1H1731.5M1141.1,722.8H1731.5M1141.1,779.1H1731.5M1141.1,835.5H1731.5" stroke="#262626" stroke-width="2.8" stroke-dasharray="10 7.6 2.2 6.8" fill="none"/>
<path d="M1140.7,666.4H1731.5M1436.1,441V891.9M1152.5,659.9V672.9M1164.3,659.9V672.9M1176.1,659.9V672.9M1188,659.9V672.9M1199.8,657.9V674.9M1211.6,659.9V672.9M1223.4,659.9V672.9M1235.2,659.9V672.9M1247,659.9V672.9M1258.9,657.9V674.9M1270.7,659.9V672.9M1282.5,659.9V672.9M1294.3,659.9V672.9M1306.1,659.9V672.9M1317.9,657.9V674.9M1329.8,659.9V672.9M1341.6,659.9V672.9M1353.4,659.9V672.9M1365.2,659.9V672.9M1377,657.9V674.9M1388.8,659.9V672.9M1400.7,659.9V672.9M1412.5,659.9V672.9M1424.3,659.9V672.9M1436.1,657.9V674.9M1447.9,659.9V672.9M1459.7,659.9V672.9M1471.5,659.9V672.9M1483.4,659.9V672.9M1495.2,657.9V674.9M1507,659.9V672.9M1518.8,659.9V672.9M1530.6,659.9V672.9M1542.4,659.9V672.9M1554.3,657.9V674.9M1566.1,659.9V672.9M1577.9,659.9V672.9M1589.7,659.9V672.9M1601.5,659.9V672.9M1613.3,657.9V674.9M1625.2,659.9V672.9M1637,659.9V672.9M1648.8,659.9V672.9M1660.6,659.9V672.9M1672.4,657.9V674.9M1684.2,659.9V672.9M1696.1,659.9V672.9M1707.9,659.9V672.9M1719.7,659.9V672.9M1429.1,452.3H1443.1M1429.1,463.5H1443.1M1429.1,474.8H1443.1M1429.1,486.1H1443.1M1429.1,497.4H1443.1M1429.1,508.6H1443.1M1429.1,519.9H1443.1M1429.1,531.2H1443.1M1429.1,542.4H1443.1M1429.1,553.7H1443.1M1429.1,565H1443.1M1429.1,576.3H1443.1M1429.1,587.5H1443.1M1429.1,598.8H1443.1M1429.1,610.1H1443.1M1429.1,621.3H1443.1M1429.1,632.6H1443.1M1429.1,643.9H1443.1M1429.1,655.2H1443.1M1429.1,666.4H1443.1M1429.1,677.7H1443.1M1429.1,689H1443.1M1429.1,700.2H1443.1M1429.1,711.5H1443.1M1429.1,722.8H1443.1M1429.1,734.1H1443.1M1429.1,745.3H1443.1M1429.1,756.6H1443.1M1429.1,767.9H1443.1M1429.1,779.1H1443.1M1429.1,790.4H1443.1M1429.1,801.7H1443.1M1429.1,813H1443.1M1429.1,824.2H1443.1M1429.1,835.5H1443.1M1429.1,846.8H1443.1M1429.1,858H1443.1M1429.1,869.3H1443.1M1429.1,880.6H1443.1" stroke="#000" stroke-width="2.5" fill="none"/>
<path d="M1142.7,496 1143.7,496.2 1144.7,495.5 1145.7,495.4 1146.7,495.5 1147.7,494.8 1148.7,494.6 1149.7,495.6 1150.7,493.4 1151.7,494.9 1152.7,494.6 1153.7,495.9 1154.7,494.1 1155.7,495.7 1156.7,495.5 1157.7,494.9 1158.7,495 1159.7,495.2 1160.7,494.9 1161.7,494.3 1162.7,494.1 1163.7,495.1 1164.7,496.2 1165.7,494.5 1166.7,495.9 1167.7,495.6 1168.7,495.8 1169.7,495.9 1170.7,495.9 1171.8,495.9 1172.8,495.6 1173.8,495.4 1174.8,495.7 1175.8,495.9 1176.8,495.8 1177.8,494 1178.8,495.6 1179.8,496 1180.8,495.5 1181.8,495.9 1182.8,496.1 1183.8,495.4 1184.8,495.5 1185.8,496 1186.8,495.3 1187.8,495 1188.8,496 1189.8,495.4 1190.8,495 1191.8,495 1192.8,495.3 1193.8,495.6 1194.8,495.5 1195.8,494.1 1196.8,494.7 1197.8,495.5 1198.8,494.4 1199.8,494.5 1200.8,496.2 1201.8,495.1 1202.8,495.9 1203.8,495.9 1204.8,495.7 1205.8,494.6 1206.8,496.2 1207.8,496 1208.8,495.3 1209.8,496.1 1210.8,495.3 1211.8,495.7 1212.8,495.2 1213.8,493.8 1214.8,494.6 1215.8,495.1 1216.8,494.3 1217.8,495.6 1218.8,494.9 1219.8,494.8 1220.8,496.1 1221.8,495.5 1222.8,494.8 1223.8,494.4 1224.8,495.8 1225.8,496.1 1226.8,496.1 1227.9,495.3 1228.9,495.8 1229.9,493.2 1230.9,495.7 1231.9,494.4 1232.9,496.2 1233.9,495.1 1234.9,495.6 1235.9,495.2 1236.9,496 1237.9,495.9 1238.9,496 1239.9,495.8 1240.9,495.3 1241.9,495.7 1242.9,494.7 1243.9,495.6 1244.9,495.7 1245.9,494.6 1246.9,495.5 1247.9,496 1248.9,496.1 1249.9,495.7 1250.9,493.7 1251.9,495.3 1252.9,495.6 1253.9,495.4 1254.9,494.8 1255.9,495.3 1256.9,495.5 1257.9,496.1 1258.9,495.7 1259.9,495.4 1260.9,496.2 1261.9,495.4 1262.9,494.5 1263.9,495.6 1264.9,494.5 1265.9,495.4 1266.9,496.1 1267.9,495.1 1268.9,495.3 1269.9,494.9 1270.9,496 1271.9,496.2 1272.9,494.8 1273.9,495.2 1274.9,495.9 1275.9,496.2 1276.9,495.3 1277.9,496.1 1278.9,495.2 1279.9,496.1 1280.9,495.1 1281.9,494.1 1282.9,495.9 1284,495.7 1285,495.5 1286,495.2 1287,496.1 1288,495.7 1289,496.1 1290,496.1 1291,495.8 1292,495.1 1293,495.2 1294,495.3 1295,495.7 1296,494.7 1297,495.7 1298,494 1299,496.1 1300,494.9 1301,495.2 1302,496.1 1303,495.4 1304,496.1 1305,495.9 1306,495.4 1307,495.4 1308,495.1 1309,495.4 1310,495.7 1311,495.3 1312,496.2 1312,501.8 1311,501.8 1310,502.1 1309,501.9 1308,502.2 1307,502.7 1306,501.8 1305,501.8 1304,502.2 1303,502.8 1302,501.8 1301,502.9 1300,502.5 1299,502.2 1298,503 1297,501.8 1296,502.5 1295,502.7 1294,502.4 1293,502.3 1292,502.6 1291,502.4 1290,502.2 1289,501.8 1288,502.6 1287,503.2 1286,502.2 1285,502.9 1284,502 1282.9,502.5 1281.9,502 1280.9,502.5 1279.9,502.1 1278.9,502.1 1277.9,502.4 1276.9,502.4 1275.9,502.5 1274.9,501.8 1273.9,502.3 1272.9,502.7 1271.9,502.3 1270.9,502.9 1269.9,501.9 1268.9,502.8 1267.9,502.8 1266.9,502.1 1265.9,501.9 1264.9,503 1263.9,501.8 1262.9,502.8 1261.9,503.3 1260.9,501.9 1259.9,503.7 1258.9,501.8 1257.9,501.8 1256.9,504.1 1255.9,502.8 1254.9,503.5 1253.9,502.6 1252.9,501.9 1251.9,502 1250.9,502.4 1249.9,502.1 1248.9,502.7 1247.9,502.2 1246.9,503 1245.9,502.2 1244.9,503.1 1243.9,502.6 1242.9,502.1 1241.9,502.1 1240.9,502.2 1239.9,502.8 1238.9,502.2 1237.9,503.2 1236.9,501.9 1235.9,502 1234.9,502.5 1233.9,501.9 1232.9,502.3 1231.9,503.1 1230.9,503.2 1229.9,502.9 1228.9,502.4 1227.9,502.4 1226.8,502.5 1225.8,502.2 1224.8,502 1223.8,502.7 1222.8,502.4 1221.8,501.9 1220.8,503 1219.8,501.9 1218.8,502.7 1217.8,502.3 1216.8,503 1215.8,502.5 1214.8,502.9 1213.8,502.7 1212.8,502.4 1211.8,502.6 1210.8,502.3 1209.8,502 1208.8,503 1207.8,502.3 1206.8,502.5 1205.8,503.7 1204.8,502.9 1203.8,503 1202.8,503.2 1201.8,502.9 1200.8,503.6 1199.8,502.9 1198.8,503 1197.8,502 1196.8,502.4 1195.8,503 1194.8,502 1193.8,502.4 1192.8,502.6 1191.8,502.4 1190.8,503.2 1189.8,501.9 1188.8,502.2 1187.8,503.6 1186.8,503.1 1185.8,504 1184.8,502.1 1183.8,502.8 1182.8,501.8 1181.8,502.6 1180.8,502.3 1179.8,502.1 1178.8,501.9 1177.8,502.7 1176.8,502.8 1175.8,502.3 1174.8,502.6 1173.8,503.1 1172.8,502.6 1171.8,502 1170.7,501.9 1169.7,503.2 1168.7,502.9 1167.7,501.9 1166.7,503.3 1165.7,501.9 1164.7,502.5 1163.7,503 1162.7,501.9 1161.7,501.8 1160.7,504.7 1159.7,502.4 1158.7,501.8 1157.7,501.8 1156.7,503.1 1155.7,503.8 1154.7,503.7 1153.7,503.3 1152.7,502 1151.7,502.4 1150.7,503.2 1149.7,502.5 1148.7,502.7 1147.7,502.7 1146.7,503.5 1145.7,502.4 1144.7,503.9 1143.7,502.4 1142.7,502.4 Z" fill="#000"/>
<path d="M1309,499 1313.5,500.5 1315.5,512 1318,553 1320.3,590 1322.5,602 1326,607 1333,608.6" stroke="#000" stroke-width="4.8" fill="none" stroke-linejoin="round" stroke-linecap="round"/>
<path d="M1330,605.2 1331,605.7 1332,605 1333,605.5 1334,605.7 1335,604.9 1336,605.7 1337,605 1338,605.8 1339,604.8 1340,605.7 1341,605 1342,605.4 1343,605 1344,605.7 1345,605.4 1346,605.4 1347,604.5 1348,604 1349,605.8 1350,605.2 1351,604.6 1352,605.4 1353,604.9 1354,605.3 1355,605.5 1356,604.6 1357,605.8 1358,605.7 1359,605.7 1360,605.1 1361,605.6 1362,605.8 1363,603.3 1364,605.9 1365,605.2 1366,605.6 1367,604.9 1368,605.4 1369,605 1370.1,605.1 1371.1,605.1 1372.1,605.4 1373.1,605.5 1374.1,605 1375.1,604.3 1376.1,605.3 1377.1,605.4 1378.1,605.3 1379.1,605.6 1380.1,605.1 1381.1,604.7 1382.1,605.4 1383.1,605.3 1384.1,604.5 1385.1,604.3 1386.1,605.7 1387.1,605.8 1388.1,604 1389.1,604.3 1390.1,605.5 1391.1,605.1 1392.1,605.6 1393.1,605.5 1394.1,604.9 1395.1,604.4 1396.1,604.2 1397.1,605.6 1398.1,605.7 1399.1,605.6 1400.1,605.6 1401.1,605.1 1402.1,604.4 1403.1,605.5 1404.1,605.4 1405.1,605 1406.1,605.4 1407.1,605.3 1408.1,605.1 1409.1,604.3 1410.1,604.7 1411.1,605.8 1412.1,605.2 1413.1,605.3 1414.1,605.4 1415.1,605.5 1416.1,605.5 1417.1,602.8 1418.1,605.8 1419.1,605.3 1420.1,605.8 1421.1,605.2 1422.1,605.7 1423.1,604.5 1424.1,605.9 1425.1,605.2 1426.1,604.8 1427.1,605.9 1428.1,605.4 1429.1,604.4 1430.1,605.3 1431.1,604.9 1432.1,605.4 1433.1,605.2 1434.1,604.8 1435.1,605.7 1436.1,605.8 1437.1,605.3 1438.1,605.6 1439.1,603.8 1440.1,605.3 1441.1,605.5 1442.1,604.3 1443.1,602.6 1444.1,605.5 1445.1,605.5 1446.1,605 1447.1,605.1 1448.1,604.7 1449.1,605 1450.2,604.5 1451.2,605 1452.2,605.8 1453.2,604 1454.2,605.8 1455.2,604.1 1456.2,603.8 1457.2,605.8 1458.2,605.4 1459.2,605.9 1460.2,605.9 1461.2,604.4 1462.2,605.5 1463.2,605.3 1464.2,605.2 1465.2,604.5 1466.2,605.1 1467.2,605.2 1468.2,604 1469.2,605.8 1470.2,604.6 1471.2,604.3 1472.2,605.5 1473.2,604.8 1474.2,605.1 1475.2,605 1476.2,605.4 1477.2,604.9 1478.2,604.4 1479.2,605.5 1480.2,604.3 1481.2,605.7 1482.2,605.4 1483.2,605.6 1484.2,605.7 1485.2,605.6 1486.2,605.7 1487.2,603.7 1488.2,605.9 1489.2,605.9 1490.2,605 1491.2,605 1492.2,603.3 1493.2,605.4 1494.2,605.3 1495.2,605.4 1496.2,605.1 1497.2,605.2 1498.2,605.3 1499.2,605.1 1500.2,605 1501.2,604.9 1502.2,605.1 1503.2,605.1 1504.2,604.4 1505.2,605.4 1506.2,604.9 1507.2,604.4 1508.2,605.8 1509.2,605.2 1510.2,605.3 1511.2,605.6 1512.2,605.1 1513.2,605.8 1514.2,605.7 1515.2,605 1516.2,605.5 1517.2,604.1 1518.2,604.9 1519.2,605 1520.2,605.4 1521.2,605.3 1522.2,604.9 1523.2,604.8 1524.2,605.2 1525.2,603.9 1526.2,605.7 1527.2,604.9 1528.2,605.7 1529.2,605.4 1530.3,605.3 1531.3,605 1532.3,604.2 1533.3,603.8 1534.3,605 1535.3,605.6 1536.3,605.5 1537.3,605.4 1538.3,605.5 1539.3,604.1 1540.3,605.7 1541.3,605.1 1542.3,605.4 1543.3,605.2 1544.3,604.7 1545.3,605.5 1546.3,605.8 1547.3,605.8 1548.3,605.2 1549.3,604.6 1550.3,605.3 1551.3,603.7 1552.3,605.8 1553.3,604.5 1554.3,605.7 1555.3,605.6 1556.3,605 1557.3,604.8 1558.3,605.9 1559.3,605.4 1560.3,604.6 1561.3,605 1562.3,605.5 1563.3,604.9 1564.3,605 1565.3,604.8 1566.3,605.7 1567.3,604.7 1568.3,605 1569.3,605.9 1570.3,605.2 1571.3,604.7 1572.3,604.9 1573.3,605 1574.3,604.9 1575.3,605.3 1576.3,603.5 1577.3,605.4 1578.3,605.4 1579.3,604.8 1580.3,605.2 1581.3,605.6 1582.3,605.5 1583.3,604.5 1584.3,605.3 1585.3,605.5 1586.3,605.5 1587.3,605.4 1588.3,604.6 1589.3,604.3 1590.3,604.8 1591.3,605.7 1592.3,605 1593.3,605 1594.3,605.7 1595.3,605.8 1596.3,604.5 1597.3,605.8 1598.3,605.8 1599.3,604.5 1600.3,604.7 1601.3,605.6 1602.3,605.7 1603.3,604.8 1604.3,605.9 1605.3,605.2 1606.3,605.3 1607.3,605.1 1608.3,602.8 1609.3,605.8 1610.4,605.8 1611.4,605.6 1612.4,605.5 1613.4,604.8 1614.4,605.1 1615.4,605.6 1616.4,604.5 1617.4,605.5 1618.4,605.5 1619.4,605.4 1620.4,605.5 1621.4,605.8 1622.4,605.5 1623.4,605.2 1624.4,604.6 1625.4,603.8 1626.4,605.7 1627.4,605.5 1628.4,605.3 1629.4,603.9 1630.4,604.3 1631.4,604.9 1632.4,605.5 1633.4,605.5 1634.4,605.8 1635.4,604.5 1636.4,605.3 1637.4,604.4 1638.4,604.8 1639.4,602.7 1640.4,603 1641.4,605.1 1642.4,604.9 1643.4,605.7 1644.4,605.8 1645.4,604.2 1646.4,603.9 1647.4,605.7 1648.4,605 1649.4,605.7 1650.4,605.6 1651.4,605.5 1652.4,605.5 1653.4,605.7 1654.4,604.7 1655.4,605.2 1656.4,605.5 1657.4,604.8 1658.4,605.1 1659.4,604.5 1660.4,605.2 1661.4,604.4 1662.4,605.8 1663.4,605.9 1664.4,605 1665.4,604.7 1666.4,604.5 1667.4,604.5 1668.4,605.4 1669.4,605.6 1670.4,605.9 1671.4,605.8 1672.4,604.4 1673.4,604.8 1674.4,605.6 1675.4,604 1676.4,605.4 1677.4,605 1678.4,605.6 1679.4,604.1 1680.4,605.5 1681.4,605.8 1682.4,605.6 1683.4,605.9 1684.4,605.4 1685.4,605 1686.4,605.7 1687.4,605.8 1688.4,605.3 1689.4,605.1 1690.5,605.7 1691.5,605.3 1692.5,605.4 1693.5,605.4 1694.5,604.4 1695.5,605.2 1696.5,605.4 1697.5,605.4 1698.5,605.1 1699.5,603.7 1700.5,605.6 1701.5,605.9 1702.5,605.3 1703.5,605.6 1704.5,604.5 1705.5,602.9 1706.5,605.1 1707.5,605.4 1708.5,605.3 1709.5,605.5 1710.5,605.5 1711.5,605 1712.5,604.9 1713.5,605.8 1714.5,605.4 1715.5,605.5 1716.5,605.5 1717.5,605.7 1718.5,605.3 1719.5,604.3 1720.5,604.4 1721.5,605.6 1722.5,605.1 1723.5,605.7 1724.5,605.7 1725.5,604.8 1726.5,604.2 1727.5,605.3 1728.5,604.3 1729.5,605.9 1729.5,611.5 1728.5,611.6 1727.5,612.6 1726.5,612.6 1725.5,611.9 1724.5,611.6 1723.5,612.2 1722.5,611.8 1721.5,612.4 1720.5,611.6 1719.5,611.9 1718.5,612.1 1717.5,612 1716.5,613 1715.5,612.3 1714.5,612 1713.5,612.6 1712.5,613.3 1711.5,611.8 1710.5,611.8 1709.5,612.2 1708.5,613 1707.5,613.2 1706.5,612.5 1705.5,611.9 1704.5,612 1703.5,612.1 1702.5,611.5 1701.5,612 1700.5,612 1699.5,612.8 1698.5,612.6 1697.5,611.9 1696.5,612.2 1695.5,611.6 1694.5,611.7 1693.5,612.6 1692.5,611.6 1691.5,613.3 1690.5,612.3 1689.4,611.7 1688.4,611.8 1687.4,611.5 1686.4,612 1685.4,612.6 1684.4,612 1683.4,614 1682.4,613.4 1681.4,612.4 1680.4,612 1679.4,612.2 1678.4,613.1 1677.4,612.1 1676.4,611.7 1675.4,612.1 1674.4,611.8 1673.4,613.4 1672.4,612.1 1671.4,612.3 1670.4,613.6 1669.4,611.8 1668.4,612.4 1667.4,612 1666.4,611.6 1665.4,612.8 1664.4,611.7 1663.4,612.2 1662.4,611.8 1661.4,613 1660.4,613.3 1659.4,611.7 1658.4,611.9 1657.4,612 1656.4,611.7 1655.4,612.5 1654.4,611.6 1653.4,613 1652.4,611.6 1651.4,612.2 1650.4,612.6 1649.4,613 1648.4,612 1647.4,613.3 1646.4,611.5 1645.4,612.3 1644.4,612.2 1643.4,612 1642.4,611.5 1641.4,612.7 1640.4,612.6 1639.4,612.6 1638.4,612.3 1637.4,611.5 1636.4,611.8 1635.4,613.8 1634.4,611.6 1633.4,611.6 1632.4,612.3 1631.4,611.7 1630.4,611.8 1629.4,612.1 1628.4,612.7 1627.4,611.6 1626.4,613 1625.4,612.1 1624.4,613.4 1623.4,611.8 1622.4,612 1621.4,611.9 1620.4,611.8 1619.4,612.8 1618.4,612.7 1617.4,612.2 1616.4,611.8 1615.4,611.8 1614.4,611.6 1613.4,613.2 1612.4,612.5 1611.4,612.1 1610.4,611.9 1609.3,611.6 1608.3,612.3 1607.3,611.6 1606.3,611.8 1605.3,611.8 1604.3,612.6 1603.3,612.5 1602.3,612.7 1601.3,612.3 1600.3,611.8 1599.3,612 1598.3,612.8 1597.3,613.5 1596.3,613.3 1595.3,612.3 1594.3,611.7 1593.3,612.9 1592.3,612.7 1591.3,612.9 1590.3,612.7 1589.3,613.2 1588.3,611.8 1587.3,611.7 1586.3,612.6 1585.3,612.4 1584.3,611.7 1583.3,611.8 1582.3,612 1581.3,612.2 1580.3,612.7 1579.3,611.8 1578.3,611.9 1577.3,611.7 1576.3,612.3 1575.3,611.8 1574.3,613.4 1573.3,611.6 1572.3,612 1571.3,611.9 1570.3,612.2 1569.3,611.9 1568.3,611.7 1567.3,612.7 1566.3,611.5 1565.3,612.1 1564.3,612 1563.3,611.8 1562.3,612.2 1561.3,612.4 1560.3,612.7 1559.3,612.3 1558.3,611.9 1557.3,611.9 1556.3,611.6 1555.3,612.2 1554.3,612.2 1553.3,611.8 1552.3,613.1 1551.3,612 1550.3,611.8 1549.3,612.2 1548.3,612 1547.3,612.5 1546.3,612.3 1545.3,612.8 1544.3,612.8 1543.3,611.8 1542.3,612.8 1541.3,611.6 1540.3,613 1539.3,611.5 1538.3,613.6 1537.3,611.5 1536.3,612.6 1535.3,612 1534.3,612.2 1533.3,611.6 1532.3,613.6 1531.3,612.8 1530.3,611.7 1529.2,612.6 1528.2,612.9 1527.2,612.8 1526.2,613.1 1525.2,613.6 1524.2,612.2 1523.2,611.8 1522.2,613.5 1521.2,612.5 1520.2,612 1519.2,613.2 1518.2,612.4 1517.2,613.4 1516.2,612.7 1515.2,611.5 1514.2,611.7 1513.2,611.6 1512.2,613.7 1511.2,611.7 1510.2,612.9 1509.2,612.3 1508.2,612.3 1507.2,612.4 1506.2,611.6 1505.2,611.6 1504.2,612 1503.2,611.5 1502.2,613.2 1501.2,612.3 1500.2,611.8 1499.2,612.6 1498.2,612 1497.2,611.8 1496.2,612.4 1495.2,612.8 1494.2,612.4 1493.2,612.8 1492.2,612.7 1491.2,611.7 1490.2,612 1489.2,611.7 1488.2,611.5 1487.2,611.8 1486.2,613.5 1485.2,613.2 1484.2,611.9 1483.2,612 1482.2,613.2 1481.2,612.5 1480.2,612.1 1479.2,612.1 1478.2,611.8 1477.2,612 1476.2,612.9 1475.2,611.7 1474.2,612.6 1473.2,612.3 1472.2,611.9 1471.2,612.4 1470.2,611.5 1469.2,613.1 1468.2,611.7 1467.2,612.2 1466.2,612.2 1465.2,612.3 1464.2,611.9 1463.2,611.5 1462.2,612.6 1461.2,612.5 1460.2,611.9 1459.2,612.2 1458.2,611.6 1457.2,611.9 1456.2,612.2 1455.2,612.9 1454.2,611.8 1453.2,612.2 1452.2,614 1451.2,611.6 1450.2,612.1 1449.1,611.8 1448.1,612.4 1447.1,611.7 1446.1,611.7 1445.1,611.7 1444.1,611.9 1443.1,612.4 1442.1,612 1441.1,612.1 1440.1,612.6 1439.1,612.6 1438.1,612.9 1437.1,612.3 1436.1,611.5 1435.1,611.8 1434.1,611.8 1433.1,612.1 1432.1,612.4 1431.1,611.6 1430.1,612 1429.1,611.8 1428.1,613 1427.1,611.6 1426.1,612.6 1425.1,611.5 1424.1,611.9 1423.1,612.5 1422.1,612 1421.1,612.2 1420.1,612.1 1419.1,611.6 1418.1,611.7 1417.1,611.5 1416.1,612.4 1415.1,611.8 1414.1,611.5 1413.1,611.7 1412.1,613 1411.1,612.2 1410.1,611.9 1409.1,611.5 1408.1,612.3 1407.1,611.9 1406.1,612.9 1405.1,612 1404.1,612.3 1403.1,612 1402.1,611.8 1401.1,611.7 1400.1,612.4 1399.1,613 1398.1,612.5 1397.1,611.9 1396.1,612.6 1395.1,612.2 1394.1,611.6 1393.1,613.5 1392.1,611.8 1391.1,611.6 1390.1,612 1389.1,612.1 1388.1,612.5 1387.1,612.2 1386.1,611.7 1385.1,611.8 1384.1,612.1 1383.1,611.8 1382.1,612.5 1381.1,611.6 1380.1,611.5 1379.1,611.9 1378.1,612.6 1377.1,612.4 1376.1,611.6 1375.1,612 1374.1,611.8 1373.1,611.8 1372.1,612.3 1371.1,611.7 1370.1,611.7 1369,612.3 1368,613.3 1367,611.6 1366,612.5 1365,612.2 1364,611.6 1363,612.5 1362,611.9 1361,613.2 1360,611.8 1359,613 1358,611.7 1357,613.3 1356,613 1355,611.9 1354,612.7 1353,613.5 1352,613.2 1351,611.7 1350,612.7 1349,611.6 1348,611.9 1347,612.8 1346,611.8 1345,612.1 1344,612 1343,611.9 1342,613.4 1341,611.6 1340,611.9 1339,613.6 1338,611.7 1337,612.5 1336,613.1 1335,612.7 1334,612.5 1333,613.1 1332,611.6 1331,612.6 1330,611.6 Z" fill="#000"/>
<path d="M1143.7,830.9 1144.7,830.4 1145.7,830.2 1146.7,830.7 1147.7,829.4 1148.7,830.6 1149.7,827.4 1150.7,830.8 1151.7,830.3 1152.7,829.7 1153.7,830 1154.7,830.7 1155.7,830.1 1156.7,829.6 1157.7,830.8 1158.7,830.3 1159.7,830.4 1160.7,831 1161.7,830.5 1162.7,830.9 1163.7,830.3 1164.7,830.6 1165.7,830 1166.7,830.8 1167.7,830.2 1168.7,829.7 1169.7,830.6 1170.7,829.6 1171.7,830.7 1172.7,828.7 1173.7,831 1174.7,830.2 1175.7,829.3 1176.7,830.1 1177.7,830.2 1178.7,830.8 1179.7,830.7 1180.7,829.4 1181.8,829 1182.8,828.5 1183.8,830.5 1184.8,829.1 1185.8,830.5 1186.8,830.6 1187.8,830.6 1188.8,830.9 1189.8,831 1190.8,830.9 1191.8,828.8 1192.8,830.9 1193.8,830.2 1194.8,830.5 1195.8,830.8 1196.8,829.1 1197.8,830.6 1198.8,830.9 1199.8,830.3 1200.8,829.2 1201.8,830.7 1202.8,831 1203.8,830.1 1204.8,830.8 1205.8,830.6 1206.8,828.4 1207.8,828.7 1208.8,830.6 1209.8,830.2 1210.8,829.5 1211.8,830.2 1212.8,830.6 1213.8,830.8 1214.8,828.5 1215.8,830.9 1216.8,830.3 1217.8,830.8 1218.8,830.6 1219.8,828.3 1220.8,829.9 1221.8,829.5 1222.8,830.1 1223.8,830.7 1224.8,830.1 1225.8,828.7 1226.8,830.6 1227.8,830.6 1228.8,830.6 1229.8,830.7 1230.8,829.7 1231.8,830.4 1232.8,830 1233.8,830.8 1234.8,830.9 1235.8,830.4 1236.8,830.4 1237.8,829.6 1238.8,830.7 1239.8,829 1240.8,829.6 1241.8,829.4 1242.8,830.8 1243.8,830.9 1244.8,831 1245.8,830.6 1246.8,829.3 1247.8,830.3 1248.8,830.5 1249.8,829.8 1250.8,830 1251.8,829.4 1252.8,829.7 1253.8,830.6 1254.8,830.3 1255.8,830.9 1256.8,830.7 1257.8,830.5 1258.9,829.3 1259.9,830.5 1260.9,830.3 1261.9,830.5 1262.9,830.6 1263.9,829.6 1264.9,830.2 1265.9,830 1266.9,830.9 1267.9,828.7 1268.9,830.1 1269.9,830.7 1270.9,830.6 1271.9,830.8 1272.9,830.1 1273.9,829.9 1274.9,830.7 1275.9,830.4 1276.9,830.9 1277.9,830.8 1278.9,828 1279.9,830.8 1280.9,830.1 1281.9,830.2 1282.9,828.8 1283.9,829.6 1284.9,830.6 1285.9,830.5 1286.9,830.6 1287.9,830.2 1288.9,830.9 1289.9,830.6 1290.9,831 1291.9,830.1 1292.9,830.4 1293.9,830.8 1294.9,829.6 1295.9,829.3 1296.9,830.3 1297.9,830.5 1298.9,830.4 1299.9,830.7 1300.9,830.9 1301.9,828.6 1302.9,830.2 1303.9,830.7 1304.9,830.7 1305.9,830.4 1306.9,830.6 1307.9,830.2 1308.9,829.9 1309.9,830.2 1310.9,830.7 1311.9,829.5 1312.9,829.9 1313.9,829.8 1314.9,830.2 1315.9,830.9 1316.9,830.8 1317.9,830.1 1318.9,830 1319.9,830.5 1320.9,830.5 1321.9,829.6 1322.9,829.4 1323.9,828.7 1324.9,830.3 1325.9,829.9 1326.9,830.6 1327.9,831 1328.9,830.9 1329.9,830 1330.9,828.5 1331.9,830.6 1332.9,830.5 1334,830.6 1335,829.7 1336,829.1 1337,830.8 1338,830.2 1339,830 1340,830.8 1341,829 1342,830.4 1343,830.1 1344,829.4 1345,830.1 1346,829.9 1347,829.9 1348,830.7 1349,830.7 1350,830.3 1351,829.4 1352,830.6 1353,829.9 1354,830.4 1355,830.8 1356,830.4 1357,830.7 1358,830.9 1359,831 1360,829.7 1361,830.8 1362,830 1363,828.8 1364,828.1 1365,830 1366,830.3 1367,830.4 1368,831 1369,830 1370,830.8 1371,830 1372,830.5 1373,829.9 1374,830.1 1375,830 1376,828.1 1377,828.3 1378,828.3 1379,828.8 1380,828.3 1381,827.5 1382.1,827.6 1383.1,826.7 1384.1,826.6 1385.1,826.1 1386.1,826.2 1387.1,826.1 1388.2,825.1 1389.2,825 1390.2,824.5 1391.2,824.7 1392.2,823.9 1393.2,822.2 1394.3,822.6 1395.3,822.2 1396.3,822.3 1397.3,822.7 1398.3,822.5 1399.3,821.5 1400.3,821.2 1401.4,821.4 1402.4,821 1403.4,820.5 1404.4,820.1 1405.4,820.2 1406.4,819.3 1407.5,818.5 1408.5,818.5 1409.5,818.7 1410.5,818 1411.5,818.1 1412.5,815.7 1413.6,817.5 1414.6,816.4 1415.6,816.5 1416.6,815.3 1417.6,815.9 1418.6,815.6 1419.6,814.7 1420.7,815.1 1421.7,813.4 1422.7,814.3 1423.7,813.4 1424.7,813.7 1425.7,813.2 1426.8,812.8 1427.8,812.9 1428.8,811.1 1429.8,811.6 1430.8,811.8 1431.8,811.4 1432.9,811.1 1433.9,810.7 1434.9,809.6 1435.9,809.9 1436.9,809.8 1437.9,807.4 1438.9,808.5 1439.9,807.6 1440.9,807.1 1441.9,806.8 1442.9,807.8 1443.9,806.5 1444.9,806.1 1445.9,806.7 1446.9,806.4 1447.9,805.2 1448.9,805.2 1449.9,805.1 1450.9,805 1451.9,804.1 1452.9,804.2 1453.9,801.8 1454.9,803.2 1455.9,802.4 1456.9,802.9 1457.9,801.9 1458.9,801.6 1459.9,801.3 1460.9,800.7 1461.9,800.9 1462.9,800.8 1463.9,800.6 1464.9,799.6 1466,799.2 1467,798.1 1468,797.1 1469,798.9 1470,798 1471,797.5 1472,797.6 1473,796.6 1474,797.2 1475,796.8 1476,796 1477,795.9 1478,795.4 1479,794.8 1480,794.2 1481,794.2 1482,794.3 1483,793.1 1484,791.8 1485,792.5 1486,792.1 1487,792.2 1488,792.2 1489,791.7 1490,790.8 1491,791.3 1492,790.5 1493,790 1494,787.9 1495,789.5 1496,788.5 1497,789.2 1498,788.8 1499,787.7 1500,787.7 1501,788.5 1502,788.2 1503,787.1 1504,787.4 1505,786.5 1506,787.2 1507,787.4 1508,785.9 1509,786.8 1510,786.2 1511,785.4 1512,786 1513,785.8 1514,785.7 1515,784.4 1516,785.3 1517,784.7 1518,783.3 1519,784.1 1520,784.4 1521,783.7 1522,782.7 1523,783.2 1524,783.4 1525,783 1526,782 1527,782.6 1528,781.8 1529,780.7 1530,781.3 1531,781.8 1532,779.9 1533,780.3 1534,779.9 1535,780.8 1536,780.5 1537,779.1 1538,779.9 1539,778.8 1540,778.9 1541,778.3 1542,779.4 1543,779 1544,778.1 1545,777.1 1546,778.5 1547,778.2 1548,777.8 1549,777.4 1550,776.2 1551,775.8 1552,776.7 1553,776.8 1554,776.2 1555,776.3 1556,776 1557,776.2 1558,775.2 1559.1,774.9 1560.1,775.5 1561.1,773.3 1562.1,774.7 1563.1,774 1564.1,774.8 1565.1,774.4 1566.1,774.6 1567.2,773.7 1568.2,773.9 1569.2,773.7 1570.2,772.4 1571.2,772.4 1572.2,772.6 1573.2,773 1574.2,771.7 1575.2,770.4 1576.3,772.6 1577.3,772.5 1578.3,771.2 1579.3,772.3 1580.3,771.7 1581.3,769.5 1582.3,771.4 1583.3,771.4 1584.4,770.5 1585.4,770.5 1586.4,771 1587.4,770.9 1588.4,769.4 1589.4,769.6 1590.4,769.7 1591.4,768.8 1592.5,769.1 1593.5,769.4 1594.5,769.8 1595.5,767.5 1596.5,768.5 1597.5,769 1598.5,768.1 1599.5,768.4 1600.5,767.8 1601.6,767.7 1602.6,768.3 1603.6,767.4 1604.6,767.8 1605.6,767.2 1606.6,767.2 1607.6,766.7 1608.6,766.2 1609.7,765.6 1610.7,766.6 1611.7,766.3 1612.7,766 1613.7,766.4 1614.7,764.9 1615.7,766.1 1616.7,764.6 1617.8,765.3 1618.8,765.5 1619.8,764.6 1620.8,764.6 1621.8,764.7 1622.8,764.8 1623.8,764.8 1624.9,764.2 1625.9,763.6 1626.9,764.4 1627.9,763.9 1628.9,763.7 1629.9,764 1630.9,763.7 1631.9,762.9 1633,763.1 1634,763 1635,762.6 1636,761.2 1637,761.4 1638,761.7 1639,762.7 1640.1,762.5 1641.1,762.4 1642.1,762.3 1643.1,761.4 1644.1,761.6 1645.1,761.2 1646.1,761.5 1647.2,760.3 1648.2,760.6 1649.2,760 1650.2,758.3 1651.2,759.8 1652.2,759.4 1653.2,760.4 1654.3,758.8 1655.3,759.5 1656.3,759.3 1657.3,760 1658.3,758.8 1659.3,759.1 1660.3,758.8 1661.3,757.7 1662.4,758.3 1663.4,757.7 1664.4,758.1 1665.4,756.6 1666.4,758 1667.4,758.4 1668.4,758.4 1669.5,756.7 1670.5,757.7 1671.5,757.5 1672.5,757.3 1673.5,757 1674.5,757.3 1675.5,757 1676.5,756.7 1677.5,757.1 1678.5,756.6 1679.5,754.7 1680.5,756.2 1681.5,756.6 1682.5,756.8 1683.5,756.6 1684.5,756.3 1685.5,755.7 1686.5,755.9 1687.5,755.8 1688.5,755.7 1689.5,754.6 1690.5,754.1 1691.5,754.8 1692.5,755.1 1693.5,754.7 1694.5,755.2 1695.5,754.4 1696.5,754.4 1697.5,754.5 1698.5,753.9 1699.5,754.5 1700.5,753.9 1701.5,754 1702.5,754.5 1703.5,753.6 1704.5,753.6 1705.5,752.1 1706.5,754 1707.5,753.4 1708.5,753.9 1709.5,752.3 1710.5,753.2 1711.5,753.3 1712.5,753.6 1713.5,753.2 1714.5,751.1 1715.5,753.1 1716.5,752.7 1717.5,752.6 1718.5,753.2 1719.5,752.7 1720.5,753 1721.5,752.8 1722.5,751.7 1723.5,750.4 1724.5,751.1 1725.5,751.9 1726.5,751.3 1727.5,752 1728.5,751.8 1729.5,751.7 1730.5,752.1 1730.5,758.5 1729.5,759.3 1728.5,758.9 1727.5,758.9 1726.5,760.2 1725.5,759.7 1724.5,761.5 1723.5,759.3 1722.5,760 1721.5,759.6 1720.5,760.3 1719.5,760.6 1718.5,759.8 1717.5,760.8 1716.5,760.6 1715.5,760.6 1714.5,761.1 1713.5,760.8 1712.5,762 1711.5,760.9 1710.5,761.1 1709.5,764.3 1708.5,761.5 1707.5,761.4 1706.5,761.2 1705.5,761.6 1704.5,761.1 1703.5,762.6 1702.5,762.7 1701.5,762.1 1700.5,761.7 1699.5,762.1 1698.5,763 1697.5,763.1 1696.5,762 1695.5,762.1 1694.5,762.1 1693.5,763.4 1692.5,763.6 1691.5,763.7 1690.5,763.5 1689.5,762.8 1688.5,763.4 1687.5,764.1 1686.5,765.8 1685.5,764.4 1684.5,766.2 1683.5,766.1 1682.5,764.9 1681.5,763.7 1680.5,764.3 1679.5,764 1678.5,764.3 1677.5,763.8 1676.5,764.1 1675.5,764 1674.5,765.2 1673.5,764.4 1672.5,764.7 1671.5,765.2 1670.5,766.4 1669.5,764.8 1668.4,766.1 1667.4,766.1 1666.4,766.2 1665.4,765.8 1664.4,766.2 1663.4,767 1662.4,766.5 1661.3,766 1660.3,767.8 1659.3,767.2 1658.3,766.7 1657.3,767.4 1656.3,768.5 1655.3,768.6 1654.3,767.3 1653.2,767.3 1652.2,767.2 1651.2,767.5 1650.2,768.6 1649.2,768.1 1648.2,768.6 1647.2,769.5 1646.1,768.9 1645.1,769.7 1644.1,771.1 1643.1,768.9 1642.1,770.4 1641.1,769.6 1640.1,770 1639,770.4 1638,769.9 1637,770.7 1636,771 1635,770.9 1634,770 1633,771.3 1631.9,770.8 1630.9,771 1629.9,771.5 1628.9,771.2 1627.9,771.3 1626.9,771.2 1625.9,771.9 1624.9,771.4 1623.8,773 1622.8,772.5 1621.8,771.8 1620.8,772.5 1619.8,772.1 1618.8,773.9 1617.8,773.8 1616.7,775 1615.7,772.7 1614.7,772.9 1613.7,773.5 1612.7,773.8 1611.7,773.5 1610.7,774.5 1609.7,773.8 1608.6,774 1607.6,774 1606.6,775 1605.6,775.9 1604.6,775.5 1603.6,775.5 1602.6,775.4 1601.6,775.5 1600.5,777.3 1599.5,776.4 1598.5,776.1 1597.5,777 1596.5,777.6 1595.5,776.7 1594.5,776.4 1593.5,776.5 1592.5,777.6 1591.4,776.8 1590.4,777.5 1589.4,777.5 1588.4,777.5 1587.4,777.9 1586.4,778 1585.4,777.9 1584.4,778.9 1583.3,780.6 1582.3,778.4 1581.3,779.1 1580.3,780.7 1579.3,779.4 1578.3,780.3 1577.3,779.5 1576.3,779.5 1575.2,780.4 1574.2,779.9 1573.2,781.3 1572.2,780.7 1571.2,780.9 1570.2,781.5 1569.2,781.3 1568.2,781.1 1567.2,781.7 1566.1,783 1565.1,782.1 1564.1,781.5 1563.1,782.2 1562.1,782.3 1561.1,783.1 1560.1,783.5 1559.1,782.6 1558,783.7 1557,783.3 1556,783 1555,784.2 1554,783.9 1553,784.2 1552,784 1551,784.5 1550,784.4 1549,784.5 1548,784.7 1547,785.3 1546,786.9 1545,786 1544,786.5 1543,786.5 1542,787.9 1541,786.5 1540,787.7 1539,788 1538,787.1 1537,787.1 1536,788.1 1535,788.9 1534,787.9 1533,788.1 1532,788.5 1531,790.9 1530,789.3 1529,789.6 1528,790.1 1527,790 1526,790.3 1525,791.8 1524,790.4 1523,791.9 1522,791.5 1521,791.3 1520,792 1519,792.8 1518,793.3 1517,791.9 1516,792.5 1515,792.4 1514,793.6 1513,793.9 1512,793.1 1511,795.5 1510,794.4 1509,795.7 1508,793.8 1507,795.5 1506,794.3 1505,795.4 1504,795.9 1503,795.5 1502,795.1 1501,795.8 1500,796.6 1499,796.1 1498,796.7 1497,797.9 1496,798.1 1495,796.8 1494,797.7 1493,798.6 1492,797.8 1491,799.4 1490,801.2 1489,800.1 1488,799.4 1487,800 1486,800.5 1485,800.3 1484,800.6 1483,801.8 1482,801.8 1481,801.6 1480,802 1479,803 1478,804.5 1477,803.8 1476,804.1 1475,804.7 1474,804.5 1473,804.7 1472,805.1 1471,806.2 1470,805.9 1469,807.5 1468,807.8 1467,808.4 1466,808.2 1464.9,807.7 1463.9,808.9 1462.9,808.7 1461.9,809.6 1460.9,809 1459.9,808.9 1458.9,809.8 1457.9,809.9 1456.9,810.8 1455.9,811.5 1454.9,810.6 1453.9,810.9 1452.9,811.9 1451.9,812 1450.9,812.8 1449.9,812.6 1448.9,813.8 1447.9,813.4 1446.9,814.3 1445.9,813.9 1444.9,813.9 1443.9,814.8 1442.9,815 1441.9,815.9 1440.9,815.4 1439.9,816.5 1438.9,817.5 1437.9,816.7 1436.9,817.8 1435.9,817.8 1434.9,818.2 1433.9,819 1432.9,818.8 1431.8,818.4 1430.8,818.6 1429.8,819.9 1428.8,819.3 1427.8,819.8 1426.8,820.6 1425.7,820.8 1424.7,820.6 1423.7,821.2 1422.7,822.2 1421.7,822.8 1420.7,822.4 1419.6,822.7 1418.6,823.8 1417.6,824 1416.6,824.5 1415.6,823.8 1414.6,824.8 1413.6,824.4 1412.5,825.2 1411.5,825.3 1410.5,825.8 1409.5,825.8 1408.5,826.3 1407.5,826.7 1406.4,826.9 1405.4,827.4 1404.4,827.9 1403.4,827.9 1402.4,829.1 1401.4,828.9 1400.3,828.7 1399.3,829.2 1398.3,829.4 1397.3,830 1396.3,830.5 1395.3,830.9 1394.3,830.9 1393.2,831.6 1392.2,832 1391.2,832.6 1390.2,832.5 1389.2,832.9 1388.2,832.8 1387.1,833.6 1386.1,833.9 1385.1,835 1384.1,835.9 1383.1,835.4 1382.1,834.7 1381,835.6 1380,835.4 1379,835.6 1378,836.5 1377,836.5 1376,836.9 1375,837.5 1374,837.2 1373,837.3 1372,838.2 1371,837.6 1370,837.6 1369,838.4 1368,838.3 1367,838.4 1366,838.4 1365,838.9 1364,838.1 1363,838.2 1362,837.8 1361,837.8 1360,837.5 1359,837.7 1358,837.8 1357,839.8 1356,838.3 1355,838.3 1354,838.6 1353,837.5 1352,837.4 1351,838.2 1350,838.5 1349,837.8 1348,837.7 1347,837.8 1346,840.2 1345,837.9 1344,838.2 1343,838 1342,838.4 1341,838.3 1340,837.5 1339,837.5 1338,837.4 1337,838.4 1336,838.1 1335,837.7 1334,837.6 1332.9,838.1 1331.9,838.1 1330.9,838 1329.9,839.1 1328.9,838.5 1327.9,838.5 1326.9,838.3 1325.9,837.5 1324.9,837.8 1323.9,838.6 1322.9,838.1 1321.9,839.2 1320.9,837.8 1319.9,837.8 1318.9,838.2 1317.9,839.4 1316.9,839.2 1315.9,837.4 1314.9,838.3 1313.9,837.4 1312.9,838.5 1311.9,839.2 1310.9,837.7 1309.9,837.7 1308.9,837.5 1307.9,838.9 1306.9,837.5 1305.9,837.7 1304.9,837.7 1303.9,839.4 1302.9,838 1301.9,837.5 1300.9,838.9 1299.9,837.4 1298.9,839 1297.9,837.5 1296.9,838.2 1295.9,838 1294.9,838.5 1293.9,839.4 1292.9,838.2 1291.9,839 1290.9,837.9 1289.9,838.3 1288.9,837.8 1287.9,837.8 1286.9,837.5 1285.9,837.8 1284.9,839.4 1283.9,838 1282.9,837.9 1281.9,838.3 1280.9,837.6 1279.9,838.2 1278.9,837.5 1277.9,838.2 1276.9,837.5 1275.9,838.3 1274.9,837.4 1273.9,837.6 1272.9,839.1 1271.9,838.1 1270.9,838.8 1269.9,838.8 1268.9,837.8 1267.9,838 1266.9,838.5 1265.9,837.9 1264.9,837.6 1263.9,838.1 1262.9,837.5 1261.9,837.7 1260.9,837.8 1259.9,837.5 1258.9,837.7 1257.8,837.9 1256.8,837.7 1255.8,838.6 1254.8,838.9 1253.8,838.1 1252.8,838.9 1251.8,837.6 1250.8,838.3 1249.8,837.4 1248.8,839 1247.8,837.4 1246.8,837.6 1245.8,838.2 1244.8,837.5 1243.8,837.4 1242.8,840 1241.8,837.6 1240.8,839.6 1239.8,837.6 1238.8,837.4 1237.8,838.9 1236.8,837.8 1235.8,838.5 1234.8,838.6 1233.8,837.8 1232.8,838 1231.8,839 1230.8,838.2 1229.8,838.4 1228.8,837.6 1227.8,838.1 1226.8,837.5 1225.8,838.7 1224.8,837.5 1223.8,839.1 1222.8,838.8 1221.8,837.8 1220.8,838.3 1219.8,838.3 1218.8,838.1 1217.8,840.8 1216.8,838.6 1215.8,840.1 1214.8,838.4 1213.8,838.3 1212.8,838.6 1211.8,840.4 1210.8,839 1209.8,837.6 1208.8,837.8 1207.8,837.6 1206.8,838 1205.8,838.4 1204.8,838.2 1203.8,837.8 1202.8,838.8 1201.8,838 1200.8,838 1199.8,838 1198.8,838.4 1197.8,838.2 1196.8,838 1195.8,838 1194.8,838.2 1193.8,837.5 1192.8,837.8 1191.8,838.7 1190.8,837.5 1189.8,837.5 1188.8,839 1187.8,837.4 1186.8,838.3 1185.8,837.6 1184.8,839.1 1183.8,838.2 1182.8,837.7 1181.8,837.8 1180.7,837.4 1179.7,838.2 1178.7,837.7 1177.7,838.3 1176.7,837.5 1175.7,838 1174.7,837.7 1173.7,837.6 1172.7,839.8 1171.7,840 1170.7,838.3 1169.7,838.1 1168.7,838.5 1167.7,837.4 1166.7,838.9 1165.7,838.7 1164.7,837.8 1163.7,837.6 1162.7,838.8 1161.7,838.4 1160.7,837.7 1159.7,838.9 1158.7,838.1 1157.7,837.7 1156.7,839.4 1155.7,837.8 1154.7,837.5 1153.7,837.9 1152.7,837.4 1151.7,838.6 1150.7,838.4 1149.7,837.8 1148.7,838.3 1147.7,837.5 1146.7,838.7 1145.7,838 1144.7,838.3 1143.7,837.9 Z" fill="#c00000"/>
<circle cx="1729" cy="755.3" r="3.4" fill="#c00000"/>
<rect x="1140.7" y="441" width="590.8" height="450.9" fill="none" stroke="#000" stroke-width="6.2" stroke-linejoin="round"/>
<text x="1018.4" y="568" font-size="27" textLength="19.5" lengthAdjust="spacingAndGlyphs">V</text><text x="1038.4" y="575.5" font-size="18" textLength="20" lengthAdjust="spacingAndGlyphs">IN</text>
<text x="1018.4" y="780.6" font-size="27" textLength="19.5" lengthAdjust="spacingAndGlyphs">V</text><text x="1038.4" y="788.6" font-size="18" textLength="39.5" lengthAdjust="spacingAndGlyphs">OUT</text>
<text x="1128.3" y="601" font-size="27" textLength="87" lengthAdjust="spacingAndGlyphs" transform="rotate(-90 1128.3 601)">2V/div</text>
<text x="1117.3" y="824.3" font-size="27" textLength="101.7" lengthAdjust="spacingAndGlyphs" transform="rotate(-90 1117.3 824.3)">10V/div</text>
<text x="1372.4" y="929.8" font-size="27" textLength="130.8" lengthAdjust="spacingAndGlyphs">100ns/div</text>
</g>
<g id="fig27">
<path d="M414.9,1065.7V1518M473.4,1065.7V1518M531.8,1065.7V1518M590.2,1065.7V1518M707,1065.7V1518M765.5,1065.7V1518M823.9,1065.7V1518M882.3,1065.7V1518" stroke="#262626" stroke-width="2.4" stroke-dasharray="9 8.8 1.2 7.6" fill="none"/>
<path d="M356.5,1123.5H940.8M356.5,1179.9H940.8M356.5,1236.2H940.8M356.5,1349H940.8M356.5,1405.3H940.8M356.5,1461.7H940.8" stroke="#262626" stroke-width="2.8" stroke-dasharray="10 7.6 2.2 6.8" fill="none"/>
<path d="M356.5,1292.6H940.8M648.6,1067.2V1518M368.2,1286.1V1299.1M379.9,1286.1V1299.1M391.6,1286.1V1299.1M403.2,1286.1V1299.1M414.9,1284.1V1301.1M426.6,1286.1V1299.1M438.3,1286.1V1299.1M450,1286.1V1299.1M461.7,1286.1V1299.1M473.4,1284.1V1301.1M485,1286.1V1299.1M496.7,1286.1V1299.1M508.4,1286.1V1299.1M520.1,1286.1V1299.1M531.8,1284.1V1301.1M543.5,1286.1V1299.1M555.1,1286.1V1299.1M566.8,1286.1V1299.1M578.5,1286.1V1299.1M590.2,1284.1V1301.1M601.9,1286.1V1299.1M613.6,1286.1V1299.1M625.3,1286.1V1299.1M636.9,1286.1V1299.1M648.6,1284.1V1301.1M660.3,1286.1V1299.1M672,1286.1V1299.1M683.7,1286.1V1299.1M695.4,1286.1V1299.1M707,1284.1V1301.1M718.7,1286.1V1299.1M730.4,1286.1V1299.1M742.1,1286.1V1299.1M753.8,1286.1V1299.1M765.5,1284.1V1301.1M777.2,1286.1V1299.1M788.8,1286.1V1299.1M800.5,1286.1V1299.1M812.2,1286.1V1299.1M823.9,1284.1V1301.1M835.6,1286.1V1299.1M847.3,1286.1V1299.1M859,1286.1V1299.1M870.6,1286.1V1299.1M882.3,1284.1V1301.1M894,1286.1V1299.1M905.7,1286.1V1299.1M917.4,1286.1V1299.1M929.1,1286.1V1299.1M641.6,1078.5H655.6M641.6,1089.7H655.6M641.6,1101H655.6M641.6,1112.3H655.6M641.6,1123.5H655.6M641.6,1134.8H655.6M641.6,1146.1H655.6M641.6,1157.4H655.6M641.6,1168.6H655.6M641.6,1179.9H655.6M641.6,1191.2H655.6M641.6,1202.4H655.6M641.6,1213.7H655.6M641.6,1225H655.6M641.6,1236.2H655.6M641.6,1247.5H655.6M641.6,1258.8H655.6M641.6,1270.1H655.6M641.6,1281.3H655.6M641.6,1292.6H655.6M641.6,1303.9H655.6M641.6,1315.1H655.6M641.6,1326.4H655.6M641.6,1337.7H655.6M641.6,1349H655.6M641.6,1360.2H655.6M641.6,1371.5H655.6M641.6,1382.8H655.6M641.6,1394H655.6M641.6,1405.3H655.6M641.6,1416.6H655.6M641.6,1427.8H655.6M641.6,1439.1H655.6M641.6,1450.4H655.6M641.6,1461.7H655.6M641.6,1472.9H655.6M641.6,1484.2H655.6M641.6,1495.5H655.6M641.6,1506.7H655.6" stroke="#000" stroke-width="2.5" fill="none"/>
<path d="M358.5,1120.8 359.5,1120.6 360.5,1122.6 361.5,1121.7 362.5,1123 363.5,1121.9 364.5,1122.5 365.5,1122 366.5,1121.2 367.5,1122.5 368.5,1121.9 369.5,1122.8 370.5,1120.3 371.5,1121.9 372.5,1121.6 373.6,1122.4 374.6,1120 375.6,1122.9 376.6,1120.5 377.6,1121.1 378.6,1120.9 379.6,1118.9 380.6,1120.8 381.6,1122.1 382.6,1118.3 383.6,1122.1 384.6,1122.8 385.6,1121.6 386.6,1122.9 387.6,1121.2 388.6,1121.7 389.6,1122 390.6,1121.6 391.6,1119 392.6,1122.9 393.6,1122.3 394.6,1121.1 395.6,1123 396.6,1121.7 397.6,1122.3 398.6,1121.9 399.6,1122.9 400.6,1122.5 401.7,1118.6 402.7,1121.5 403.7,1122.8 404.7,1122.7 405.7,1120.4 406.7,1122.8 407.7,1120.4 408.7,1120.5 409.7,1122 410.7,1120.1 411.7,1121.8 412.7,1122.6 413.7,1121.8 414.7,1119.7 415.7,1121.8 416.7,1122 417.7,1121.5 418.7,1119.1 419.7,1122.6 420.7,1122.1 421.7,1117.9 422.7,1122.4 423.7,1122.8 424.7,1122.3 425.7,1122.2 426.7,1122.3 427.7,1122.2 428.7,1122.2 429.7,1122.9 430.8,1121 431.8,1120.4 432.8,1122.5 433.8,1122.9 434.8,1122.1 435.8,1119.5 436.8,1121.3 437.8,1122.5 438.8,1120.8 439.8,1121.1 440.8,1122.2 441.8,1121.6 442.8,1122.3 443.8,1121.1 444.8,1122.6 445.8,1122.3 446.8,1122.9 447.8,1121.8 448.8,1119.5 449.8,1120.8 450.8,1122 451.8,1122.3 452.8,1121.8 453.8,1122.7 454.8,1121.2 455.8,1121.2 456.8,1118.7 457.8,1122.9 458.8,1122.6 459.9,1121.6 460.9,1122.6 461.9,1122.7 462.9,1122.3 463.9,1120.9 464.9,1122.2 465.9,1121.6 466.9,1121.8 467.9,1123 468.9,1121.9 469.9,1122.3 470.9,1122.4 471.9,1121 472.9,1121.9 473.9,1123 474.9,1119.6 475.9,1121.7 476.9,1121.1 477.9,1122.7 478.9,1122.1 479.9,1122.5 480.9,1122.6 481.9,1119.6 482.9,1122.9 483.9,1119.8 484.9,1122.8 485.9,1121.8 486.9,1122.2 488,1121.7 489,1120.9 490,1119.7 491,1121.5 492,1121.1 493,1122.7 494,1122.8 495,1121.8 496,1121.5 497,1121.9 498,1121.7 499,1120.9 500,1120.6 501,1122.3 502,1123 502,1132.4 501,1133 500,1133.5 499,1133 498,1132.8 497,1133.6 496,1132.4 495,1133.4 494,1134.5 493,1133.2 492,1133.9 491,1133.1 490,1133.6 489,1133.5 488,1133.9 486.9,1132.5 485.9,1134.6 484.9,1134.1 483.9,1133.5 482.9,1132.4 481.9,1133.3 480.9,1132.5 479.9,1133.6 478.9,1136.1 477.9,1133.4 476.9,1133.9 475.9,1135.9 474.9,1134 473.9,1134.1 472.9,1132.8 471.9,1133.7 470.9,1132.8 469.9,1133.2 468.9,1132.9 467.9,1134.4 466.9,1134 465.9,1133.4 464.9,1135.8 463.9,1135.9 462.9,1136.5 461.9,1132.6 460.9,1134.2 459.9,1133.4 458.8,1133 457.8,1133.8 456.8,1133.4 455.8,1134.2 454.8,1135.2 453.8,1135.6 452.8,1133.6 451.8,1133.6 450.8,1133.1 449.8,1133 448.8,1133 447.8,1133.2 446.8,1135 445.8,1134.5 444.8,1134.1 443.8,1133.7 442.8,1134.2 441.8,1136.9 440.8,1134.1 439.8,1134.4 438.8,1133.2 437.8,1132.6 436.8,1134.3 435.8,1137.4 434.8,1134.3 433.8,1133.5 432.8,1132.6 431.8,1134.4 430.8,1135.2 429.7,1133.9 428.7,1134.2 427.7,1134.7 426.7,1132.7 425.7,1132.5 424.7,1133.2 423.7,1133.1 422.7,1134.2 421.7,1135.7 420.7,1135.1 419.7,1132.7 418.7,1132.8 417.7,1134.8 416.7,1133.6 415.7,1132.7 414.7,1133.6 413.7,1135.8 412.7,1134.3 411.7,1134.5 410.7,1135.3 409.7,1135.3 408.7,1132.8 407.7,1134.5 406.7,1134.2 405.7,1134.4 404.7,1133.1 403.7,1132.7 402.7,1133.1 401.7,1134.5 400.6,1134.6 399.6,1132.9 398.6,1136.4 397.6,1134.1 396.6,1133 395.6,1132.8 394.6,1133.2 393.6,1136 392.6,1134.4 391.6,1134.3 390.6,1134.8 389.6,1133.8 388.6,1132.6 387.6,1135.4 386.6,1132.8 385.6,1132.9 384.6,1135.2 383.6,1132.7 382.6,1133 381.6,1135.4 380.6,1132.9 379.6,1134.9 378.6,1133.9 377.6,1133.4 376.6,1133.4 375.6,1133.7 374.6,1132.7 373.6,1134.3 372.5,1133.3 371.5,1132.7 370.5,1134.6 369.5,1133.6 368.5,1132.5 367.5,1134.6 366.5,1134.8 365.5,1133.9 364.5,1134 363.5,1134.1 362.5,1134.8 361.5,1133.2 360.5,1133.3 359.5,1133.2 358.5,1133 Z" fill="#000"/>
<path d="M503,1262 504,1260.6 505,1261.5 506,1260.8 507,1259.5 508,1257.4 509,1262.9 510,1261.5 511,1261.9 512,1262.9 513,1262.1 514,1261.4 515,1262.7 516,1259.9 517,1259.2 518,1261.5 519,1262 520,1261.8 521,1262.8 522,1261.5 523,1262.7 524,1261.2 525,1260.1 526,1262.6 527,1259.4 528,1262.7 529,1262.2 530,1262.8 531,1262.7 532,1262.3 533,1260 534,1261.5 535,1261.7 536,1261.5 537,1262.6 538,1261.8 539,1262.6 540,1262.2 541,1262.6 542,1261.1 543,1261.1 544,1258 545,1262.4 546,1262.5 547,1262.4 548,1262.2 549,1262.4 550,1260.5 551,1260.1 552,1260.5 553,1259.4 554,1261 555,1261 556,1258.5 557,1261.9 558,1261.9 559,1262.8 560,1258.3 561,1261.1 562,1262.7 563,1257.9 564,1261.6 565,1262.8 566,1261.8 567,1261.4 568,1262.1 569,1260.8 570,1262.3 571,1261.9 572,1259.3 573,1261.3 574,1262 575,1260.6 576,1262.8 577,1261.8 578,1261.4 579,1260.7 580,1262.8 581,1261.3 582,1261.5 583,1261.7 584,1261.8 585,1261.4 586,1261.4 587,1262.2 588,1257.6 589,1262 590,1261.8 591,1260.3 592,1260.1 593,1260.8 594,1262.8 595,1261.7 596,1262.7 597,1262.7 598,1261.6 599,1261.6 600,1262.1 601,1260.7 602,1260.6 603,1260.8 604,1262 605,1261.9 606,1262.7 607,1260.2 608,1261.7 609,1260 610,1262 611,1259.8 612,1261.4 613,1261.9 614,1262.1 615,1262 616,1261.2 617,1262.9 618,1262.4 619,1262.2 620,1262.4 621,1262.2 622,1261.8 623,1262.5 624,1261.3 625,1262.4 626,1262.2 627,1260.5 628,1262.1 629,1260.3 630,1262.1 631,1261.6 632,1260.3 633,1258.2 634,1261.3 635,1259.8 636,1261.5 637,1262.3 638,1258.8 639,1262.4 640,1262.1 641,1260.7 642,1262.6 643,1262.6 644,1261.9 645,1261.7 646,1261.3 647,1260.9 648,1262.9 648,1272.3 647,1272.6 646,1272.8 645,1273.6 644,1272.6 643,1273.8 642,1274.8 641,1272.7 640,1273.6 639,1272.8 638,1272.4 637,1273.4 636,1273.9 635,1272.8 634,1273.7 633,1272.7 632,1272.4 631,1272.9 630,1273 629,1274 628,1276.2 627,1274.5 626,1276.9 625,1275.7 624,1273.2 623,1274 622,1273.1 621,1276 620,1272.6 619,1273.6 618,1272.8 617,1272.4 616,1273.8 615,1274.8 614,1276 613,1273.2 612,1272.7 611,1274.6 610,1272.6 609,1272.7 608,1275.4 607,1273.5 606,1272.5 605,1275.8 604,1272.7 603,1273.3 602,1274.1 601,1273 600,1272.5 599,1273 598,1274.1 597,1273.6 596,1273.1 595,1273.6 594,1274.7 593,1272.6 592,1273.8 591,1274.2 590,1273 589,1275.4 588,1273.4 587,1273 586,1274.8 585,1273.9 584,1272.6 583,1275.1 582,1273.4 581,1272.8 580,1272.9 579,1274.5 578,1273.8 577,1273.5 576,1276.8 575,1272.6 574,1272.4 573,1272.4 572,1273.1 571,1275 570,1275 569,1272.7 568,1273.3 567,1274 566,1273.6 565,1273.4 564,1272.5 563,1274 562,1273.6 561,1273.6 560,1274.3 559,1274.3 558,1277.4 557,1273.8 556,1272.5 555,1274.2 554,1272.6 553,1273.4 552,1273.5 551,1273.8 550,1272.9 549,1274.1 548,1273.9 547,1273 546,1273.3 545,1272.7 544,1273.5 543,1272.6 542,1275.9 541,1274 540,1275.4 539,1273.6 538,1273.9 537,1275.9 536,1273.1 535,1274.4 534,1272.4 533,1273.6 532,1272.6 531,1274.9 530,1274.1 529,1272.9 528,1273.3 527,1274.5 526,1273.9 525,1272.8 524,1273.5 523,1272.6 522,1273.8 521,1272.5 520,1272.5 519,1274.2 518,1274.2 517,1275.1 516,1272.9 515,1273.1 514,1274.2 513,1274 512,1272.3 511,1276.5 510,1275.9 509,1274.6 508,1273 507,1273.3 506,1273.7 505,1274.5 504,1277.1 503,1273.5 Z" fill="#000"/>
<path d="M649,1122.8 650,1121.1 651,1120.7 652,1122.6 653,1123 654,1122.1 655,1121.3 656,1122.1 657,1123 658,1122.4 659,1121.5 660,1122.5 661,1123 662,1120.9 663,1121.7 664,1120.8 665,1120.5 666,1122.3 667,1121.6 668,1121.4 669,1122.3 670,1120 671,1122.2 672,1122.5 673,1122.5 674,1121.2 675,1122.5 676,1119.2 677,1121 678,1118.9 679,1119.1 680,1120.5 681,1122.7 682,1122 683,1122.3 684,1121.5 685,1121.7 686,1122.3 687,1119.3 688,1121.5 689,1122.7 690,1123 691,1119.9 692,1122.3 693,1122.9 694,1122.9 695,1120.3 696,1121.4 697,1122.8 698,1122.1 699,1122.6 700,1120.3 701,1118.9 702,1120.2 703,1122.4 704,1122 705,1122.2 706,1120.7 707,1122.4 708,1122.7 709,1120.5 710,1122.3 711,1122 712,1121.5 713,1121.9 714,1121.8 715,1119.2 716,1121 717,1122.4 718,1122.6 719,1122.3 720,1122.7 721,1121.7 722,1121.7 723,1121.3 724,1120.6 725,1121.9 726,1122.6 727,1122.4 728,1119.3 729,1122.3 730,1121.2 731,1121.6 732,1122.4 733,1118.8 734,1120.6 735,1122.3 736,1122.6 737,1122.8 738,1121.9 739,1121 740,1122.3 741,1118.7 742,1122.5 743,1122.8 744,1121.8 745,1122.6 746,1122.2 747,1121.4 748,1120.2 749,1118.4 750,1121.3 751,1121 752,1120.2 753,1121.7 754,1120.7 755,1122.4 756,1122.7 757,1122.3 758,1120.8 759,1121.9 760,1119.2 761,1122.3 762,1122.4 763,1121.5 764,1122.4 765,1121.9 766,1119.8 767,1122.4 768,1119.2 769,1120.9 770,1120.2 771,1122.6 772,1120.2 773,1122.9 774,1122.7 775,1121.5 776,1120 777,1120.6 778,1122.9 779,1122.8 780,1122 781,1122.2 782,1122.3 783,1122.7 784,1122.1 785,1121.9 786,1122.8 787,1122.8 788,1121.4 789,1119.7 790,1120.5 791,1122.2 792,1120.9 793,1122.8 794,1120 795,1123 795,1132.4 794,1133.1 793,1134.7 792,1132.7 791,1134.2 790,1135.1 789,1134 788,1132.7 787,1133.3 786,1132.4 785,1133.1 784,1133.3 783,1133.6 782,1134 781,1135.3 780,1132.6 779,1133 778,1133.4 777,1133.7 776,1134.8 775,1133 774,1134.7 773,1133.4 772,1133.1 771,1133.2 770,1132.5 769,1133.3 768,1133.3 767,1132.8 766,1134.1 765,1133.2 764,1132.5 763,1132.9 762,1135.6 761,1134.1 760,1132.4 759,1134.3 758,1133.6 757,1132.6 756,1132.8 755,1132.5 754,1134.4 753,1132.9 752,1134.5 751,1134.7 750,1133.4 749,1135.5 748,1133.4 747,1132.7 746,1133.7 745,1133.3 744,1133.6 743,1133.8 742,1134 741,1133.8 740,1132.6 739,1134 738,1133.2 737,1134.5 736,1134.6 735,1133.5 734,1133.5 733,1137.2 732,1134.4 731,1132.7 730,1132.6 729,1133.7 728,1133 727,1134.7 726,1134.1 725,1134.4 724,1132.8 723,1132.8 722,1133.5 721,1133.4 720,1133.5 719,1134.6 718,1133.5 717,1133.3 716,1133.7 715,1134.6 714,1134.3 713,1133.2 712,1133.1 711,1133.3 710,1134.8 709,1133 708,1133.8 707,1134.2 706,1134.2 705,1135.1 704,1133.4 703,1132.8 702,1133.3 701,1136.5 700,1133.6 699,1133 698,1134 697,1132.5 696,1135.1 695,1133.6 694,1133.7 693,1134 692,1134.1 691,1132.4 690,1133.5 689,1134 688,1133.4 687,1132.5 686,1133.8 685,1136.3 684,1134.3 683,1133.6 682,1133 681,1132.9 680,1133.5 679,1132.7 678,1133.6 677,1134.1 676,1133.5 675,1135 674,1134.7 673,1134.2 672,1132.6 671,1134 670,1133.6 669,1132.8 668,1133.2 667,1132.9 666,1134.3 665,1132.5 664,1132.8 663,1134.4 662,1134.2 661,1132.5 660,1134.7 659,1133.3 658,1132.9 657,1132.6 656,1136.9 655,1132.9 654,1132.5 653,1136.6 652,1133.2 651,1133.1 650,1133.5 649,1133.1 Z" fill="#000"/>
<path d="M796,1261.5 797,1262.7 798,1260.8 799,1262.4 800,1261.3 801,1262.5 802,1262 803,1261.7 804,1262.2 805,1262.1 806.1,1262.8 807.1,1262.7 808.1,1261.5 809.1,1261.3 810.1,1262.6 811.1,1260.4 812.1,1261.1 813.1,1260.8 814.1,1260.2 815.1,1262.7 816.1,1262.7 817.1,1261.4 818.1,1261.5 819.1,1260.8 820.1,1260.7 821.1,1262.5 822.1,1262 823.1,1262.9 824.1,1262.9 825.2,1262.3 826.2,1261.2 827.2,1262 828.2,1260.3 829.2,1261 830.2,1261.8 831.2,1259.8 832.2,1258.9 833.2,1260.8 834.2,1260.2 835.2,1261.5 836.2,1258.8 837.2,1262.7 838.2,1262.4 839.2,1261.7 840.2,1262.3 841.2,1262.7 842.2,1260.5 843.2,1262.1 844.3,1262.5 845.3,1262.9 846.3,1262.4 847.3,1262.7 848.3,1261.1 849.3,1261.8 850.3,1260 851.3,1260.1 852.3,1261.8 853.3,1262.6 854.3,1261.5 855.3,1261.7 856.3,1262.7 857.3,1262.5 858.3,1261.8 859.3,1260.9 860.3,1262.8 861.3,1262.4 862.3,1262.2 863.4,1262.5 864.4,1261.5 865.4,1262.5 866.4,1262 867.4,1261.1 868.4,1261.4 869.4,1261.9 870.4,1261.6 871.4,1262.3 872.4,1262.1 873.4,1260.1 874.4,1261.7 875.4,1259.6 876.4,1262.3 877.4,1260.9 878.4,1262.6 879.4,1261.6 880.4,1262.6 881.4,1261.5 882.5,1261.5 883.5,1261.6 884.5,1261.7 885.5,1262.9 886.5,1262.3 887.5,1261.5 888.5,1258.9 889.5,1262.1 890.5,1262.4 891.5,1261.9 892.5,1262.5 893.5,1259.7 894.5,1262.2 895.5,1261.6 896.5,1261.8 897.5,1262.9 898.5,1260.7 899.5,1261.8 900.5,1262.8 901.6,1260.5 902.6,1261.2 903.6,1262.5 904.6,1262 905.6,1261.1 906.6,1259.5 907.6,1261.3 908.6,1262.3 909.6,1262.3 910.6,1262.5 911.6,1261.1 912.6,1260.2 913.6,1261.9 914.6,1261.3 915.6,1262.4 916.6,1258.9 917.6,1262.3 918.6,1260.6 919.6,1262.3 920.7,1262.5 921.7,1262 922.7,1262 923.7,1262.1 924.7,1262.3 925.7,1262.4 926.7,1262 927.7,1260.8 928.7,1262.5 929.7,1262.2 930.7,1261.7 931.7,1262.6 932.7,1262.5 933.7,1262.6 934.7,1262.8 935.7,1259.6 936.7,1261 937.7,1262.3 938.8,1262.9 938.8,1272.3 937.7,1273.9 936.7,1272.9 935.7,1272.5 934.7,1273.6 933.7,1274 932.7,1273.5 931.7,1273.3 930.7,1272.8 929.7,1273.5 928.7,1272.7 927.7,1272.6 926.7,1272.3 925.7,1272.4 924.7,1272.5 923.7,1273.9 922.7,1275.9 921.7,1272.5 920.7,1273.1 919.6,1272.4 918.6,1275.7 917.6,1272.3 916.6,1273.6 915.6,1273.2 914.6,1273 913.6,1275.7 912.6,1273.1 911.6,1274.4 910.6,1273.9 909.6,1273.1 908.6,1273.9 907.6,1273.9 906.6,1275.6 905.6,1273.4 904.6,1274.5 903.6,1273 902.6,1272.5 901.6,1273.5 900.5,1273.2 899.5,1273 898.5,1272.8 897.5,1273.2 896.5,1275.5 895.5,1272.4 894.5,1273.1 893.5,1272.3 892.5,1274.9 891.5,1273.3 890.5,1273.5 889.5,1273.9 888.5,1276.6 887.5,1273.4 886.5,1274.1 885.5,1273.1 884.5,1273.3 883.5,1274.3 882.5,1272.3 881.4,1273 880.4,1273.2 879.4,1272.3 878.4,1274.3 877.4,1276.6 876.4,1274.3 875.4,1272.8 874.4,1275.5 873.4,1276 872.4,1274.4 871.4,1273.5 870.4,1273.4 869.4,1272.5 868.4,1274.8 867.4,1274.9 866.4,1273.8 865.4,1274.1 864.4,1274.1 863.4,1276 862.3,1275.1 861.3,1275.4 860.3,1275 859.3,1275.8 858.3,1272.5 857.3,1274.1 856.3,1272.9 855.3,1275.1 854.3,1275.6 853.3,1272.6 852.3,1275 851.3,1273.7 850.3,1274.3 849.3,1273 848.3,1275.7 847.3,1274.7 846.3,1277.2 845.3,1272.8 844.3,1272.8 843.2,1273.1 842.2,1273.7 841.2,1272.7 840.2,1273.5 839.2,1273 838.2,1273.8 837.2,1275.6 836.2,1272.9 835.2,1273.9 834.2,1274.6 833.2,1275.5 832.2,1274.4 831.2,1273.5 830.2,1272.5 829.2,1273.1 828.2,1275 827.2,1277.3 826.2,1275.1 825.2,1273.9 824.1,1273.6 823.1,1273.2 822.1,1273.1 821.1,1272.4 820.1,1275.1 819.1,1273.9 818.1,1274.3 817.1,1273.6 816.1,1273.8 815.1,1275 814.1,1273.1 813.1,1274.3 812.1,1272.9 811.1,1272.5 810.1,1273.2 809.1,1275 808.1,1275 807.1,1273.1 806.1,1272.5 805,1272.8 804,1272.3 803,1273.9 802,1272.7 801,1274.6 800,1272.3 799,1273.2 798,1274.8 797,1274.1 796,1276.9 Z" fill="#000"/>
<path d="M501.8,1122.7L503.2,1272.6M648.6,1272.6V1122.7M794.5,1122.7L796,1272.6" stroke="#000" stroke-width="4.6" fill="none"/>
<path d="M359.5,1312.3 360.5,1313 361.5,1310.3 362.5,1313.1 363.5,1312.8 364.5,1311.6 365.5,1312.6 366.5,1313.3 367.5,1308.8 368.5,1313.1 369.5,1311.2 370.5,1313.1 371.5,1312.5 372.5,1309.6 373.5,1312.5 374.5,1310.3 375.5,1311.1 376.5,1310.5 377.5,1309.7 378.5,1311.4 379.5,1313.4 380.5,1313.4 381.5,1310.5 382.5,1311 383.5,1312.6 384.5,1312.9 385.5,1311.5 386.5,1313.4 387.5,1312.6 388.5,1312.7 389.5,1312.2 390.5,1311.6 391.5,1313.5 392.5,1309.9 393.5,1312.6 394.5,1312.8 395.5,1311 396.5,1310.2 397.5,1312.8 398.5,1311.8 399.5,1310 400.5,1313.2 401.5,1313.3 402.5,1311.5 403.5,1308.5 404.5,1311.6 405.5,1312.2 406.5,1312 407.5,1313.1 408.5,1313.3 409.5,1312.4 410.5,1310.9 411.5,1313 412.5,1310.8 413.5,1312.4 414.5,1310.1 415.5,1311.2 416.5,1312.1 417.5,1311.3 418.5,1309.2 419.5,1312.2 420.5,1311.4 421.5,1311.3 422.5,1312.1 423.5,1311.4 424.5,1309.1 425.5,1312.9 426.5,1312.3 427.5,1311.7 428.5,1312.9 429.5,1312.2 430.5,1312.4 431.5,1308.1 432.5,1311.1 433.5,1312.6 434.5,1313 435.5,1310.5 436.5,1311.9 437.5,1313.4 438.5,1311.8 439.5,1309.1 440.5,1312.1 441.5,1311.2 442.5,1312 443.5,1311 444.5,1312.2 445.5,1312.6 446.5,1310.8 447.5,1312 448.5,1313 449.5,1310.4 450.5,1310.9 451.5,1312.5 452.5,1311.8 453.5,1310.9 454.5,1313.2 455.5,1310.8 456.5,1310.3 457.5,1312.1 458.5,1313.4 459.5,1308 460.5,1313 461.5,1311 462.5,1312.3 463.5,1309.8 464.5,1313.3 465.5,1309.5 466.5,1312.9 467.5,1312.4 468.5,1312.7 469.5,1312.4 470.5,1313.2 471.5,1311.7 472.5,1313.2 473.5,1310.7 474.5,1311.6 475.5,1313.1 476.5,1313.4 477.5,1312.8 478.5,1311.9 479.5,1312.6 480.5,1312.8 481.5,1312.4 482.5,1311.8 483.5,1313 484.5,1310.9 485.5,1312.1 486.5,1312 487.5,1310.6 488.5,1313.1 489.5,1312.2 490.5,1312.8 491.5,1313.5 492.5,1310 493.5,1310.3 494.5,1310.7 495.5,1313 496.5,1312.5 497.5,1312.9 498.5,1312.4 499.5,1311.8 500.5,1307.2 501.5,1312 502.5,1313.5 502.5,1325.1 501.5,1326.3 500.5,1325.7 499.5,1325.5 498.5,1326.1 497.5,1326.2 496.5,1327.5 495.5,1325.8 494.5,1327.4 493.5,1325.5 492.5,1330.5 491.5,1325.6 490.5,1329.7 489.5,1328 488.5,1326.1 487.5,1331.1 486.5,1326.3 485.5,1325.6 484.5,1327 483.5,1328.2 482.5,1327.6 481.5,1326.3 480.5,1325.9 479.5,1328.6 478.5,1326 477.5,1327.3 476.5,1328.9 475.5,1331.2 474.5,1327.9 473.5,1325.6 472.5,1328.1 471.5,1326.7 470.5,1325.6 469.5,1327.4 468.5,1327 467.5,1327.2 466.5,1327.7 465.5,1326.2 464.5,1325.8 463.5,1325.4 462.5,1325.6 461.5,1327.3 460.5,1327.4 459.5,1326.4 458.5,1327 457.5,1326.5 456.5,1325.6 455.5,1327.4 454.5,1325.6 453.5,1326.4 452.5,1327.1 451.5,1325.4 450.5,1330.6 449.5,1325.2 448.5,1326.2 447.5,1326.2 446.5,1326.4 445.5,1326.4 444.5,1325.3 443.5,1326.3 442.5,1325.5 441.5,1326.1 440.5,1325.5 439.5,1330.4 438.5,1326.2 437.5,1327.5 436.5,1327.7 435.5,1325.1 434.5,1330.8 433.5,1326.8 432.5,1325.1 431.5,1325.7 430.5,1328.6 429.5,1326.2 428.5,1327.2 427.5,1326.2 426.5,1325.8 425.5,1328.8 424.5,1326.2 423.5,1325.9 422.5,1326.5 421.5,1328.1 420.5,1329.3 419.5,1329 418.5,1327.8 417.5,1325.5 416.5,1325.1 415.5,1328.5 414.5,1327.2 413.5,1326 412.5,1329.9 411.5,1325.7 410.5,1328.5 409.5,1327.1 408.5,1325.9 407.5,1326.4 406.5,1331.2 405.5,1325.7 404.5,1326.4 403.5,1326.6 402.5,1325.3 401.5,1329.3 400.5,1325.2 399.5,1325.5 398.5,1325.7 397.5,1326.4 396.5,1326.7 395.5,1327 394.5,1328.2 393.5,1327.1 392.5,1325.6 391.5,1325.5 390.5,1327.2 389.5,1325.1 388.5,1325.9 387.5,1329.7 386.5,1326.1 385.5,1328.8 384.5,1327.7 383.5,1326.4 382.5,1326.6 381.5,1327.1 380.5,1325.3 379.5,1327.5 378.5,1327.4 377.5,1325.6 376.5,1326.2 375.5,1326.5 374.5,1327.9 373.5,1326.3 372.5,1325.5 371.5,1331.9 370.5,1330.6 369.5,1326.3 368.5,1329.7 367.5,1327.5 366.5,1327.9 365.5,1326.4 364.5,1329.1 363.5,1327 362.5,1327.3 361.5,1325.3 360.5,1326 359.5,1325.5 Z" fill="#c00000"/>
<path d="M505,1452.2 506,1455.9 507,1453.8 508,1452.6 509,1452.1 510,1456.1 511,1453.6 512,1455.4 513,1455.7 514,1455.9 515,1455.2 516,1454.4 517,1456 518,1454.5 519,1453.4 520,1455.8 521,1454.3 522,1455.5 523,1454.5 524,1453.7 525,1456.2 526,1454.9 527,1455.3 528,1455.5 529,1452.8 530,1453.9 531,1455.4 532,1454.8 533,1450.7 534,1455.3 535,1454.9 536,1456.4 537,1455.9 538,1453.4 539,1451.9 540,1456.1 541,1454.8 542,1454.9 543,1455.2 544,1454.3 545,1456 546,1455.3 547,1456.1 548,1455.1 549,1453.3 550,1455.2 551,1455.9 552,1455.7 553,1451.5 554,1454.4 555,1451 556,1456.2 557,1454.5 558,1450.7 559,1455.1 560,1454.9 561,1456.1 562,1454.2 563,1453.2 564,1456.2 565,1456.1 566,1456.2 567,1453.7 568,1456.1 569,1455.7 570,1456.1 571,1453.2 572,1455.2 573,1455.9 574,1454 575,1454.6 576,1454 577,1455.6 578,1454.6 579,1453.8 580,1454.7 581,1456.1 582,1456.3 583,1455.8 584,1453 585,1455.4 586,1453.6 587,1455.1 588,1455.8 589,1455.8 590,1455.9 591,1453 592,1453.4 593,1456 594,1451.4 595,1456.2 596,1455.8 597,1456.1 598,1455.4 599,1456.2 600,1455.3 601,1455.4 602,1456.3 603,1455.5 604,1456.1 605,1456.1 606,1454.3 607,1454.9 608,1455.3 609,1452.4 610,1455.7 611,1455.8 612,1453.3 613,1456.3 614,1452 615,1454.6 616,1455.9 617,1453.2 618,1454.1 619,1453.8 620,1455.4 621,1454.5 622,1455.7 623,1454.4 624,1455.2 625,1453.9 626,1455.3 627,1456.1 628,1455.5 629,1455.5 630,1455.7 631,1453.9 632,1455 633,1454.2 634,1455.6 635,1453.8 636,1455.3 637,1455.4 638,1455.6 639,1453.7 640,1456 641,1455.4 642,1455.9 643,1455.7 644,1454.6 645,1452.8 646,1455.1 647,1456.1 648,1453.7 649,1456.4 649,1465.6 648,1467.1 647,1466.2 646,1468 645,1471.3 644,1470.7 643,1466.3 642,1466.7 641,1465.7 640,1465.6 639,1466.9 638,1466.2 637,1466.5 636,1470.2 635,1466.8 634,1465.7 633,1466.4 632,1466.1 631,1467.4 630,1467.9 629,1466.2 628,1466.4 627,1470.3 626,1466.3 625,1469.2 624,1466.3 623,1467.8 622,1466.8 621,1465.8 620,1466.6 619,1466.5 618,1469.1 617,1466.4 616,1466.1 615,1466 614,1467.2 613,1467.9 612,1468.3 611,1468.4 610,1466.8 609,1467.9 608,1466.1 607,1470.4 606,1465.9 605,1467.2 604,1467.6 603,1467.9 602,1466.4 601,1465.8 600,1467.7 599,1468.5 598,1466 597,1468.7 596,1466 595,1466.7 594,1467.6 593,1467.6 592,1467 591,1467.9 590,1465.9 589,1466.5 588,1467 587,1465.8 586,1465.9 585,1466.1 584,1467 583,1466.6 582,1465.9 581,1466.4 580,1466.9 579,1466.7 578,1466 577,1468.2 576,1466.6 575,1466.3 574,1469.3 573,1466.4 572,1465.7 571,1467.4 570,1467.9 569,1467.8 568,1467.8 567,1468.5 566,1466.2 565,1468.5 564,1466.3 563,1469.9 562,1466 561,1467.7 560,1465.9 559,1466.8 558,1465.8 557,1468.5 556,1466.3 555,1469.7 554,1467.3 553,1467.5 552,1466.8 551,1467.5 550,1468.3 549,1467.5 548,1466.9 547,1466.5 546,1466.7 545,1466.8 544,1465.7 543,1466.5 542,1466.4 541,1468.4 540,1469.3 539,1466.3 538,1467.6 537,1466.3 536,1466.6 535,1465.9 534,1466.3 533,1467.2 532,1467 531,1467 530,1465.9 529,1467.2 528,1468.1 527,1466.6 526,1467.7 525,1468 524,1466.4 523,1467.2 522,1466.4 521,1466.7 520,1465.7 519,1468.3 518,1465.7 517,1465.7 516,1466.8 515,1467.2 514,1468.7 513,1467.7 512,1467 511,1465.7 510,1466.3 509,1466 508,1466.2 507,1465.7 506,1466.1 505,1468.5 Z" fill="#c00000"/>
<path d="M651,1311.8 652,1312.4 653,1312.5 654,1313.2 655,1313 656,1309.9 657,1313.3 658,1311.1 659,1313 660,1308.8 661,1311.2 662,1312.7 663,1312.9 664,1312.9 665,1312.1 666,1312.5 667,1312.3 668,1312.2 669,1308.7 670,1309.4 671,1311.7 672,1312.9 673,1311.4 674,1313 675,1311.2 676,1313.1 677,1310.2 678,1311.1 679,1310.8 680,1310.7 681,1312.9 682,1313.1 683,1313.3 684,1310.8 685,1312.4 686,1312.2 687,1310 688,1309.6 689,1311.2 690,1312.1 691,1311.1 692,1312.9 693,1312.1 694,1312.4 695,1311.9 696,1306.3 697,1309.9 698,1312.5 699,1312.9 700,1309.3 701,1312.6 702,1312.8 703,1307.9 704,1307.8 705,1312.8 706,1313.2 707,1311.1 708,1313.4 709,1312.9 710,1311.1 711,1310.1 712,1313.4 713,1312.2 714,1312.7 715,1312.9 716,1311.3 717,1313.5 718,1310.6 719,1313.2 720,1313.4 721,1310 722,1309.3 723,1312.3 724,1311.1 725,1313.4 726,1313.2 727,1313.4 728,1310 729,1313.2 730,1309.4 731,1310 732,1312.8 733,1311.1 734,1311.2 735,1312.9 736,1311.1 737,1313.1 738,1313.3 739,1312.9 740,1313 741,1312 742,1313 743,1312.1 744,1310.5 745,1311.1 746,1312.2 747,1313.4 748,1306.1 749,1311.8 750,1313.3 751,1312.5 752,1312.5 753,1309.8 754,1312.8 755,1312.4 756,1310.2 757,1313.3 758,1312.9 759,1312 760,1312.1 761,1313 762,1312.4 763,1312.9 764,1311.4 765,1311.1 766,1311.9 767,1307.6 768,1311.3 769,1310.1 770,1311.5 771,1312.5 772,1312.7 773,1310.5 774,1312.8 775,1310.5 776,1313 777,1313.4 778,1310.6 779,1313.1 780,1312.4 781,1310.3 782,1311.6 783,1312.6 784,1312.3 785,1313.3 786,1312.8 787,1312.8 788,1312.3 789,1312.3 790,1310 791,1312.7 792,1308.9 793,1311 794,1311.1 795,1313.5 795,1325.1 794,1326.1 793,1325.3 792,1325.7 791,1329 790,1327.1 789,1326 788,1326.4 787,1327.2 786,1327.3 785,1326 784,1328.2 783,1325.2 782,1327.3 781,1327.9 780,1325.9 779,1327.4 778,1326.7 777,1326 776,1327.7 775,1325.7 774,1326.1 773,1327.9 772,1327.8 771,1328.3 770,1325.7 769,1326.7 768,1326.4 767,1325.6 766,1325.9 765,1325.5 764,1326.5 763,1326.8 762,1328.9 761,1325.2 760,1325.8 759,1326.8 758,1326.6 757,1325.8 756,1327.8 755,1325.9 754,1327.5 753,1325.4 752,1328 751,1326.1 750,1325.2 749,1328.2 748,1325.8 747,1326.3 746,1325.3 745,1325.2 744,1325.5 743,1326.1 742,1326.7 741,1330 740,1326.4 739,1325.7 738,1327.1 737,1325.3 736,1327.2 735,1326.8 734,1325.8 733,1327.3 732,1326.9 731,1326.4 730,1326.2 729,1326 728,1327.7 727,1330.8 726,1325.7 725,1326.3 724,1328.4 723,1328.6 722,1325.3 721,1326 720,1327.6 719,1326.9 718,1325.2 717,1328.5 716,1326.5 715,1325.4 714,1326.8 713,1327.9 712,1325.6 711,1325.3 710,1326.5 709,1326.9 708,1327.9 707,1327.7 706,1326.7 705,1330.9 704,1327.2 703,1327.4 702,1328.7 701,1326.1 700,1326.6 699,1325.6 698,1325.9 697,1326.9 696,1325.3 695,1325.5 694,1325.5 693,1325.4 692,1325.2 691,1326.8 690,1327 689,1325.4 688,1325.4 687,1330 686,1327.9 685,1326.1 684,1326.1 683,1332 682,1326.1 681,1325.1 680,1331.1 679,1326.4 678,1327 677,1325.7 676,1326.2 675,1325.3 674,1325.4 673,1326.3 672,1327 671,1328.8 670,1329.1 669,1328.1 668,1330 667,1327.8 666,1326.2 665,1326.8 664,1327.7 663,1326.8 662,1327 661,1326 660,1325.1 659,1326.4 658,1326.4 657,1329.4 656,1327.7 655,1326.4 654,1327.9 653,1325.7 652,1328.6 651,1326.3 Z" fill="#c00000"/>
<path d="M798,1455.5 799,1452.9 800,1456 801,1451.9 802,1455.5 803,1455.8 804,1455.9 805,1455.8 806,1455.5 807,1455.4 808.1,1456.1 809.1,1455.8 810.1,1453.6 811.1,1454.9 812.1,1455.1 813.1,1455.5 814.1,1455.8 815.1,1453.4 816.1,1453.1 817.1,1456 818.1,1454.5 819.1,1453.6 820.1,1454 821.1,1455.1 822.1,1454.7 823.1,1453.1 824.1,1456 825.1,1455.3 826.1,1454.6 827.2,1453.4 828.2,1454 829.2,1453.2 830.2,1456 831.2,1454.2 832.2,1455.2 833.2,1453 834.2,1456.1 835.2,1455.8 836.2,1455 837.2,1456.1 838.2,1455.6 839.2,1453.6 840.2,1454.1 841.2,1454.8 842.2,1451.1 843.2,1456.3 844.2,1454.4 845.2,1452 846.3,1455.5 847.3,1454.7 848.3,1452.2 849.3,1455.7 850.3,1455.3 851.3,1455.6 852.3,1456.1 853.3,1454.5 854.3,1456.2 855.3,1455.2 856.3,1456.4 857.3,1453.7 858.3,1455.4 859.3,1455.4 860.3,1453.5 861.3,1456 862.3,1454.9 863.3,1456.2 864.4,1456.4 865.4,1455 866.4,1454.1 867.4,1454.5 868.4,1456.2 869.4,1456.1 870.4,1454.8 871.4,1455.2 872.4,1454.1 873.4,1452.8 874.4,1454.9 875.4,1454.6 876.4,1453.9 877.4,1455.4 878.4,1456.1 879.4,1454.6 880.4,1453.8 881.4,1453.9 882.4,1455.5 883.5,1451 884.5,1453.4 885.5,1453.2 886.5,1452.4 887.5,1453.2 888.5,1454.8 889.5,1451.9 890.5,1453.3 891.5,1454.5 892.5,1455.2 893.5,1455.3 894.5,1456.1 895.5,1454.6 896.5,1455.8 897.5,1455.7 898.5,1456 899.5,1454.4 900.5,1453.1 901.5,1453.1 902.6,1455 903.6,1452.9 904.6,1454.6 905.6,1455.8 906.6,1455.9 907.6,1455.2 908.6,1454.8 909.6,1454.9 910.6,1455.7 911.6,1456.1 912.6,1455.6 913.6,1454.7 914.6,1456.3 915.6,1455.1 916.6,1452.7 917.6,1455 918.6,1453.7 919.6,1456.2 920.6,1456.2 921.7,1455.7 922.7,1455.4 923.7,1456.1 924.7,1456.2 925.7,1456 926.7,1454.7 927.7,1453.9 928.7,1456.3 929.7,1455.5 930.7,1454.7 931.7,1454.9 932.7,1455.3 933.7,1456.2 934.7,1454.7 935.7,1456.3 936.7,1455.1 937.7,1455.7 938.7,1453.5 939.8,1456.4 939.8,1465.6 938.7,1465.8 937.7,1467.4 936.7,1465.8 935.7,1465.7 934.7,1465.8 933.7,1465.9 932.7,1467.2 931.7,1470.4 930.7,1466.7 929.7,1465.6 928.7,1468.9 927.7,1466.5 926.7,1466.6 925.7,1466.3 924.7,1468.5 923.7,1466.5 922.7,1467.5 921.7,1466 920.6,1467.7 919.6,1468.4 918.6,1466.7 917.6,1468.5 916.6,1466.5 915.6,1465.6 914.6,1465.9 913.6,1466.7 912.6,1469.1 911.6,1467.2 910.6,1466.7 909.6,1469.4 908.6,1468.3 907.6,1465.9 906.6,1466.8 905.6,1466.8 904.6,1465.8 903.6,1466.1 902.6,1466.5 901.5,1465.9 900.5,1467 899.5,1466.2 898.5,1468.1 897.5,1468.9 896.5,1467.3 895.5,1468.2 894.5,1466.9 893.5,1466 892.5,1466 891.5,1468 890.5,1465.7 889.5,1467.3 888.5,1469.9 887.5,1467.2 886.5,1465.9 885.5,1469.3 884.5,1469.1 883.5,1467.5 882.4,1465.7 881.4,1468 880.4,1466.9 879.4,1466.9 878.4,1466.7 877.4,1466.2 876.4,1466.1 875.4,1466.6 874.4,1467.6 873.4,1466.5 872.4,1468 871.4,1465.9 870.4,1466.5 869.4,1466.6 868.4,1465.8 867.4,1465.9 866.4,1465.9 865.4,1467 864.4,1467.3 863.3,1465.7 862.3,1466 861.3,1465.6 860.3,1469.9 859.3,1466.9 858.3,1467.6 857.3,1468.8 856.3,1465.8 855.3,1465.9 854.3,1465.8 853.3,1466.7 852.3,1465.7 851.3,1470.2 850.3,1468.4 849.3,1466.9 848.3,1465.9 847.3,1467.2 846.3,1466.8 845.2,1468.2 844.2,1466.9 843.2,1467.6 842.2,1466.3 841.2,1466.5 840.2,1465.7 839.2,1473.3 838.2,1469.4 837.2,1470 836.2,1466 835.2,1466.8 834.2,1468.4 833.2,1467.2 832.2,1467.6 831.2,1466.4 830.2,1466.7 829.2,1466.5 828.2,1465.8 827.2,1466.6 826.1,1467.3 825.1,1465.7 824.1,1466.4 823.1,1465.8 822.1,1466.2 821.1,1465.6 820.1,1467.3 819.1,1466.4 818.1,1466.2 817.1,1466.2 816.1,1467.7 815.1,1465.7 814.1,1467.8 813.1,1467.2 812.1,1467.1 811.1,1467.6 810.1,1466.2 809.1,1466.7 808.1,1466.7 807,1465.9 806,1466.9 805,1465.9 804,1465.9 803,1467.1 802,1465.9 801,1466.2 800,1465.8 799,1467.1 798,1466.3 Z" fill="#c00000"/>
<path d="M502.8,1313.3L504.2,1516M650,1253.5V1466M796,1313.3L797.4,1516" stroke="#c00000" stroke-width="5" fill="none" stroke-linecap="round"/>
<path d="M358.5,1300L368.5,1314.3L368.5,1324.3L358.5,1340ZM504,1428L509.5,1457L509.5,1465L504,1497ZM650,1285L658,1314.3L658,1324.3L650,1350ZM797.5,1428L803,1457L803,1465L797.5,1497ZM821.5,1446L825,1461L821.5,1477L818,1461Z" fill="#c00000"/>
<rect x="356.5" y="1363.1" width="121.3" height="154.9" fill="#fff" stroke="#000" stroke-width="2.5"/>
<rect x="356.5" y="1067.2" width="584.2" height="450.8" fill="none" stroke="#000" stroke-width="6.4" stroke-linejoin="round"/>
<path d="M358.5,1255.5V1352" stroke="#c00000" stroke-width="5.4" fill="none" stroke-linecap="round"/>
<text x="365.6" y="1397.4" font-size="23.8" textLength="75" lengthAdjust="spacingAndGlyphs">V<tspan dy="6.6" font-size="16.5" font-style="italic">S</tspan><tspan dy="-6.6" font-size="0.1"> </tspan>=5V</text>
<text x="366.4" y="1428.3" font-size="23.8" textLength="47.6" lengthAdjust="spacingAndGlyphs">G=1</text>
<text x="366.4" y="1459.1" font-size="23.8" textLength="99.8" lengthAdjust="spacingAndGlyphs">C<tspan dy="6.6" font-size="16.5">L</tspan><tspan dy="-6.6" font-size="0.1"> </tspan>=50pF</text>
<text x="366.8" y="1490" font-size="23.8" textLength="88.9" lengthAdjust="spacingAndGlyphs">50mV<tspan dy="6.2" font-size="15.5">PP</tspan></text>
<text x="231" y="1184.2" font-size="27" textLength="19.5" lengthAdjust="spacingAndGlyphs">V</text><text x="251" y="1191.2" font-size="18" textLength="20" lengthAdjust="spacingAndGlyphs">IN</text>
<text x="231" y="1408.6" font-size="27" textLength="19.5" lengthAdjust="spacingAndGlyphs">V</text><text x="251" y="1415.6" font-size="18" textLength="39.5" lengthAdjust="spacingAndGlyphs">OUT</text>
<text x="341.4" y="1241.2" font-size="27" textLength="125.5" lengthAdjust="spacingAndGlyphs" transform="rotate(-90 341.4 1241.2)">20mV/div</text>
<text x="333.7" y="1466.8" font-size="27" textLength="127" lengthAdjust="spacingAndGlyphs" transform="rotate(-90 333.7 1466.8)">20mV/div</text>
<text x="599.1" y="1551.6" font-size="27" textLength="96" lengthAdjust="spacingAndGlyphs">2µs/div</text>
</g>
<g id="fig28">
<path d="M1202.8,1069.2V1522.2M1261.5,1069.2V1522.2M1320.2,1069.2V1522.2M1379,1069.2V1522.2M1496.5,1069.2V1522.2M1555.2,1069.2V1522.2M1614,1069.2V1522.2M1672.8,1069.2V1522.2" stroke="#262626" stroke-width="2.4" stroke-dasharray="9 8.8 1.2 7.6" fill="none"/>
<path d="M1144,1127.2H1731.5M1144,1183.6H1731.5M1144,1240H1731.5M1144,1352.9H1731.5M1144,1409.3H1731.5M1144,1465.8H1731.5" stroke="#262626" stroke-width="2.8" stroke-dasharray="10 7.6 2.2 6.8" fill="none"/>
<path d="M1144,1296.5H1731.5M1437.8,1070.8V1522.2M1155.8,1290V1303M1167.5,1290V1303M1179.2,1290V1303M1191,1290V1303M1202.8,1288V1305M1214.5,1290V1303M1226.2,1290V1303M1238,1290V1303M1249.8,1290V1303M1261.5,1288V1305M1273.2,1290V1303M1285,1290V1303M1296.8,1290V1303M1308.5,1290V1303M1320.2,1288V1305M1332,1290V1303M1343.8,1290V1303M1355.5,1290V1303M1367.2,1290V1303M1379,1288V1305M1390.8,1290V1303M1402.5,1290V1303M1414.2,1290V1303M1426,1290V1303M1437.8,1288V1305M1449.5,1290V1303M1461.2,1290V1303M1473,1290V1303M1484.8,1290V1303M1496.5,1288V1305M1508.2,1290V1303M1520,1290V1303M1531.8,1290V1303M1543.5,1290V1303M1555.2,1288V1305M1567,1290V1303M1578.8,1290V1303M1590.5,1290V1303M1602.2,1290V1303M1614,1288V1305M1625.8,1290V1303M1637.5,1290V1303M1649.2,1290V1303M1661,1290V1303M1672.8,1288V1305M1684.5,1290V1303M1696.2,1290V1303M1708,1290V1303M1719.8,1290V1303M1430.8,1082H1444.8M1430.8,1093.3H1444.8M1430.8,1104.6H1444.8M1430.8,1115.9H1444.8M1430.8,1127.2H1444.8M1430.8,1138.5H1444.8M1430.8,1149.8H1444.8M1430.8,1161H1444.8M1430.8,1172.3H1444.8M1430.8,1183.6H1444.8M1430.8,1194.9H1444.8M1430.8,1206.2H1444.8M1430.8,1217.5H1444.8M1430.8,1228.8H1444.8M1430.8,1240H1444.8M1430.8,1251.3H1444.8M1430.8,1262.6H1444.8M1430.8,1273.9H1444.8M1430.8,1285.2H1444.8M1430.8,1296.5H1444.8M1430.8,1307.8H1444.8M1430.8,1319H1444.8M1430.8,1330.3H1444.8M1430.8,1341.6H1444.8M1430.8,1352.9H1444.8M1430.8,1364.2H1444.8M1430.8,1375.5H1444.8M1430.8,1386.8H1444.8M1430.8,1398.1H1444.8M1430.8,1409.3H1444.8M1430.8,1420.6H1444.8M1430.8,1431.9H1444.8M1430.8,1443.2H1444.8M1430.8,1454.5H1444.8M1430.8,1465.8H1444.8M1430.8,1477.1H1444.8M1430.8,1488.3H1444.8M1430.8,1499.6H1444.8M1430.8,1510.9H1444.8" stroke="#000" stroke-width="2.5" fill="none"/>
<path d="M1146,1236.8 1147,1236.8 1148,1235.6 1149,1236.3 1150,1235 1151,1236.8 1152,1236.6 1153,1235.5 1154,1236.3 1155,1235.8 1156,1235.3 1157,1236.4 1158,1236.8 1159,1236.3 1160,1237.1 1161,1236.6 1162,1234.8 1163,1236.2 1164,1236.1 1165,1234.7 1166,1235.8 1167,1236 1168,1236.5 1169,1235.8 1170,1235 1171,1237 1172,1236.7 1173,1237.1 1174,1237.2 1175,1235.9 1176,1234.8 1177,1234.5 1178,1236.4 1179,1236.8 1180,1234.1 1181,1236.1 1182,1235.4 1183,1235.1 1184,1236.1 1185,1236.3 1186,1237.1 1187,1237.1 1188,1237 1189,1236.5 1190,1236.9 1191,1236.2 1192,1236.8 1193,1235.4 1194,1236.3 1195,1236.5 1196,1236.4 1197,1236.2 1198,1235.9 1199,1236.5 1200,1237.3 1201,1236.9 1202,1236 1203,1236.4 1204,1234.8 1205,1236.4 1206,1236.2 1207,1236.9 1208,1236.5 1209,1236.7 1210,1236 1211,1235.8 1212,1235.5 1213,1237.2 1214,1235.8 1215,1235.5 1216,1234.7 1217,1237.1 1218,1236.2 1219,1235.9 1220,1236.3 1221,1235.5 1222,1233.3 1223,1235.9 1224,1235.7 1225,1236.6 1226,1236.6 1227,1235.6 1228,1236.6 1229,1236.4 1230,1236.1 1231,1235.9 1232,1236.7 1233,1236 1234,1235.6 1235,1235 1236,1237 1237,1237.2 1238,1237.3 1239,1235.2 1240,1237.2 1241,1237 1242,1235.5 1243,1237.2 1244,1237.2 1245,1235 1246,1236.3 1247,1235.6 1248,1236.9 1249,1236.3 1250,1237.2 1251,1237 1252,1237.2 1253,1235.8 1254,1235.1 1255,1235.3 1256,1236.3 1257,1235.8 1258,1237.1 1259,1235.7 1260,1235.7 1261,1236.8 1262,1235.2 1263,1236.2 1264,1237.1 1265,1236.4 1266,1237.1 1267,1235.1 1268,1235.5 1269,1235.3 1270,1235.8 1271,1234.3 1272,1236.1 1273,1236.9 1274,1236.3 1275,1236.4 1276,1237.3 1277,1237.2 1278,1236.9 1279,1236.7 1280,1235.3 1281,1236.2 1282,1234.6 1283,1236 1284,1237.1 1285,1237.3 1286,1236.9 1287,1236.6 1288,1235.2 1289,1236.6 1290,1237.2 1291,1236.5 1292,1235.7 1293,1235.4 1294,1236.3 1295,1236.6 1296,1236.8 1297,1235.8 1298,1236.3 1299,1235.7 1300,1234.7 1301,1236.9 1302,1234.3 1303,1236.3 1304,1237.3 1305,1237.3 1306,1235.6 1307,1237 1308,1236.2 1309,1235.3 1310,1236.6 1311,1236.9 1312,1236.5 1313,1236 1314,1234.8 1315,1236.6 1316,1237.2 1317,1236.6 1318,1235 1319,1237.3 1319,1244.7 1318,1246.5 1317,1245 1316,1245.5 1315,1246.6 1314,1245.6 1313,1246.4 1312,1244.9 1311,1244.9 1310,1245 1309,1245.5 1308,1245.2 1307,1245.6 1306,1244.8 1305,1245 1304,1245 1303,1245.7 1302,1246.2 1301,1247.7 1300,1245 1299,1245.5 1298,1245.7 1297,1244.9 1296,1245.7 1295,1247.6 1294,1245 1293,1244.9 1292,1247.6 1291,1245 1290,1244.8 1289,1246.3 1288,1245.3 1287,1246.6 1286,1245 1285,1247.5 1284,1246.1 1283,1247.2 1282,1245.6 1281,1245.1 1280,1244.8 1279,1245.1 1278,1245.8 1277,1245.2 1276,1246.5 1275,1247.5 1274,1247.1 1273,1246.8 1272,1246 1271,1244.9 1270,1245 1269,1244.9 1268,1245.1 1267,1244.7 1266,1246.9 1265,1244.8 1264,1245 1263,1245.8 1262,1246.3 1261,1244.9 1260,1248.5 1259,1246.5 1258,1245.8 1257,1245.2 1256,1245.6 1255,1245.4 1254,1244.9 1253,1246.4 1252,1245.1 1251,1246 1250,1245 1249,1246.1 1248,1245.6 1247,1245.2 1246,1245.4 1245,1245.5 1244,1244.9 1243,1246.5 1242,1245 1241,1246.7 1240,1245.9 1239,1245.4 1238,1247.5 1237,1246.1 1236,1244.8 1235,1247.1 1234,1247 1233,1244.7 1232,1245 1231,1245.5 1230,1247.5 1229,1245.6 1228,1245.7 1227,1245.3 1226,1244.9 1225,1244.9 1224,1246.1 1223,1245.1 1222,1245.1 1221,1244.9 1220,1246.9 1219,1246.5 1218,1246.5 1217,1245.7 1216,1248.3 1215,1245.2 1214,1246.4 1213,1245.4 1212,1246 1211,1248.7 1210,1244.8 1209,1246.2 1208,1247.3 1207,1247.2 1206,1245.5 1205,1245 1204,1246.6 1203,1245.3 1202,1247.3 1201,1244.9 1200,1245.5 1199,1245.3 1198,1246.8 1197,1245.7 1196,1247.3 1195,1246.1 1194,1245.6 1193,1244.9 1192,1245.8 1191,1245.2 1190,1245.2 1189,1248.6 1188,1246 1187,1245.7 1186,1244.8 1185,1245 1184,1246.3 1183,1245.6 1182,1245.5 1181,1245.3 1180,1244.9 1179,1245.6 1178,1246.1 1177,1244.9 1176,1245.2 1175,1245.6 1174,1245.5 1173,1245.7 1172,1246.1 1171,1245.3 1170,1245 1169,1245.3 1168,1246.4 1167,1245.5 1166,1244.8 1165,1245.3 1164,1245.6 1163,1244.8 1162,1244.7 1161,1246.9 1160,1245.1 1159,1244.9 1158,1245 1157,1246.7 1156,1245.7 1155,1246.1 1154,1247.7 1153,1244.9 1152,1248 1151,1246.4 1150,1246.6 1149,1246.2 1148,1245.1 1147,1246 1146,1246 Z" fill="#000"/>
<path d="M1320,1123 1321,1122.9 1322,1123.8 1323,1123.5 1324,1123.7 1325,1121.2 1326,1123.3 1327,1122.5 1328,1122.9 1329,1122.6 1330,1122.4 1331,1123.2 1332,1123.5 1333,1123.5 1334,1122.4 1335,1121.2 1336,1123.2 1337,1123 1338,1122.4 1339,1123.6 1340,1121.5 1341,1123.7 1342,1122.8 1343,1123.5 1344,1123.1 1345,1120.7 1346,1123.2 1347,1123.7 1348,1123 1349,1122.7 1350,1122.3 1351,1122.5 1352,1123.7 1353,1122.9 1354,1123.6 1355,1123.1 1356,1122.4 1357,1123.7 1358,1122.9 1359,1123.3 1360,1121.2 1361,1122.2 1362,1122.5 1363,1122.5 1364,1122.7 1365,1123.1 1366,1120.1 1367,1123.6 1368,1121.7 1369,1123.2 1370,1123.5 1371,1121.3 1372,1120.7 1373,1122.6 1374,1123.5 1375,1123.6 1376,1122.6 1377,1123.4 1378,1122 1379,1122.7 1380,1122.4 1381,1121.7 1382,1122.7 1383,1122.1 1384,1123.6 1385,1122.8 1386,1123.1 1387,1123.1 1388,1122 1389,1123.2 1390,1122.6 1391,1123.7 1392,1123.2 1393,1122.6 1394,1121.8 1395,1123.6 1396,1123.2 1397,1123.4 1398,1122.9 1399,1122.2 1400,1121.8 1401,1122.1 1402,1123.5 1403,1123.6 1404,1123.7 1405,1121.1 1406,1123.8 1407,1122.9 1408,1122.1 1409,1120.6 1410,1123.4 1411,1123.6 1412,1123.1 1413,1123.3 1414,1121.6 1415,1123.7 1416,1122.3 1417,1122.8 1418,1122.6 1419,1121.7 1420,1123 1421,1122 1422,1121 1423,1120.6 1424,1121.4 1425,1123.3 1426,1123.5 1427,1122.8 1428,1123.6 1429,1123 1430,1122.6 1431,1123.2 1432,1122.3 1433,1121.4 1434,1123.1 1435,1121.9 1436,1120.8 1437,1122.8 1438,1123.4 1439,1121.5 1440,1123.5 1441,1123.6 1442,1123.4 1443,1122.2 1444,1122.6 1445,1123.3 1446,1123.5 1447,1122.4 1448,1123.7 1449,1122.6 1450,1123.3 1451,1122.5 1452,1123.8 1453,1123 1454,1122.9 1455,1123.7 1456,1122.5 1457,1123.2 1458,1123.5 1459,1122.4 1460,1123.8 1461,1123.5 1462,1123.4 1463,1123.1 1464,1122.8 1465,1121.8 1466,1123.7 1467,1123.6 1468,1123.6 1469,1122.3 1470,1123.3 1471,1123.6 1472,1123.5 1473,1123.5 1474,1122.9 1475,1122.7 1476,1123.5 1477,1123.2 1478,1122.9 1479,1123.7 1480,1123.1 1481,1123.7 1482,1123.8 1483,1122.1 1484,1122.2 1485,1123.3 1486,1123.3 1487,1122.4 1488,1123.4 1489,1122.8 1490,1121.3 1491,1121.7 1492,1121.6 1493,1121.9 1494,1123.2 1495,1123.4 1496,1122.8 1497,1122.4 1498,1121.3 1499,1123.7 1500,1122.4 1501,1123.7 1502,1121.3 1503,1121.5 1504,1123.2 1505,1123.2 1506,1120.8 1507,1123.3 1508,1123.5 1509,1123.6 1510,1123.1 1511,1123.1 1512,1119.3 1513,1123.8 1514,1123.7 1515,1120.9 1516,1123.7 1517,1123.3 1518,1121 1519,1122.7 1520,1123.7 1521,1122.7 1522,1121 1523,1123.5 1524,1123.7 1525,1123.1 1526,1123.2 1527,1122.6 1528,1123.6 1529,1123.5 1530,1123 1531,1122.6 1532,1122.6 1533,1121.6 1534,1122 1535,1123.7 1536,1122.7 1537,1123.6 1538,1123.3 1539,1123.4 1540,1122.5 1541,1123.1 1542,1120.9 1543,1123 1544,1123.3 1545,1121.8 1546,1123.6 1547,1123.4 1548,1121.9 1549,1123 1550,1123.1 1551,1121.6 1552,1123.7 1553,1123 1554,1123.8 1554,1131.2 1553,1131.5 1552,1133.7 1551,1132.3 1550,1131.5 1549,1132.2 1548,1133.7 1547,1132 1546,1133.5 1545,1133.6 1544,1132.6 1543,1131.4 1542,1133 1541,1132.2 1540,1131.5 1539,1133.2 1538,1132.3 1537,1131.7 1536,1133.4 1535,1131.5 1534,1131.4 1533,1131.6 1532,1131.3 1531,1131.7 1530,1132.4 1529,1131.7 1528,1131.7 1527,1131.8 1526,1131.2 1525,1132.9 1524,1131.3 1523,1131.2 1522,1131.5 1521,1133.3 1520,1132.4 1519,1132.4 1518,1132.4 1517,1131.5 1516,1132.3 1515,1132 1514,1132.5 1513,1132.6 1512,1131.2 1511,1131.2 1510,1132.3 1509,1131.6 1508,1133.7 1507,1132.4 1506,1131.7 1505,1132 1504,1132.2 1503,1131.4 1502,1134.5 1501,1131.9 1500,1132.9 1499,1132.3 1498,1131.4 1497,1132.2 1496,1131.7 1495,1132.6 1494,1131.5 1493,1131.4 1492,1132.7 1491,1132.1 1490,1133.4 1489,1132.5 1488,1131.3 1487,1133.1 1486,1133.1 1485,1133.1 1484,1133.7 1483,1132.5 1482,1133.5 1481,1133.4 1480,1131.4 1479,1132.6 1478,1131.6 1477,1131.4 1476,1131.4 1475,1131.6 1474,1131.4 1473,1132.7 1472,1131.3 1471,1132.9 1470,1131.8 1469,1132 1468,1133.1 1467,1131.8 1466,1132.6 1465,1133.1 1464,1131.8 1463,1131.6 1462,1132.9 1461,1132.5 1460,1131.3 1459,1134.1 1458,1133.9 1457,1132.2 1456,1131.7 1455,1132.3 1454,1132.4 1453,1132 1452,1134 1451,1133.3 1450,1132.1 1449,1132.3 1448,1133.7 1447,1131.7 1446,1133.2 1445,1132.3 1444,1132.4 1443,1132.9 1442,1131.6 1441,1132.2 1440,1132.2 1439,1132.6 1438,1132.4 1437,1132.6 1436,1132.8 1435,1131.6 1434,1132.2 1433,1131.7 1432,1136.1 1431,1131.3 1430,1132.7 1429,1131.9 1428,1133 1427,1133.5 1426,1131.9 1425,1131.3 1424,1133 1423,1133.4 1422,1133.5 1421,1132.6 1420,1131.9 1419,1132.7 1418,1131.9 1417,1132.4 1416,1131.4 1415,1131.5 1414,1132.5 1413,1133.3 1412,1132.7 1411,1131.7 1410,1132.8 1409,1131.4 1408,1133.2 1407,1133 1406,1131.8 1405,1131.3 1404,1131.4 1403,1131.8 1402,1132.7 1401,1131.6 1400,1131.8 1399,1131.5 1398,1131.9 1397,1132.1 1396,1133.7 1395,1133.5 1394,1132.7 1393,1131.4 1392,1132.6 1391,1132.4 1390,1131.6 1389,1132.4 1388,1131.8 1387,1133.6 1386,1131.4 1385,1131.3 1384,1133.3 1383,1132.2 1382,1134.1 1381,1132.3 1380,1131.6 1379,1131.3 1378,1131.8 1377,1132.3 1376,1132.3 1375,1133.4 1374,1132 1373,1131.9 1372,1131.7 1371,1131.6 1370,1133.5 1369,1132.4 1368,1131.4 1367,1132 1366,1132 1365,1131.5 1364,1132.4 1363,1133.8 1362,1134 1361,1133.2 1360,1131.2 1359,1133.1 1358,1133.4 1357,1132.4 1356,1131.3 1355,1132.8 1354,1132.4 1353,1133 1352,1135 1351,1133.6 1350,1133 1349,1133.3 1348,1131.3 1347,1133 1346,1131.2 1345,1132.9 1344,1132.2 1343,1131.8 1342,1131.9 1341,1133.8 1340,1132 1339,1131.3 1338,1131.2 1337,1131.9 1336,1131.8 1335,1132.6 1334,1132 1333,1132 1332,1132.7 1331,1132.6 1330,1131.7 1329,1133.1 1328,1132.4 1327,1131.6 1326,1133 1325,1131.5 1324,1131.9 1323,1131.7 1322,1131.5 1321,1132.9 1320,1131.8 Z" fill="#000"/>
<path d="M1555,1236.1 1556,1236.6 1557,1236.8 1558,1236.9 1559,1236.8 1560,1235.6 1561,1236.4 1562,1235.8 1563,1237 1564,1234.2 1565,1236.1 1566,1236.9 1567,1237.1 1568,1237.2 1569,1236.5 1570,1237 1571,1236.4 1572,1236.2 1573.1,1237.3 1574.1,1237.1 1575.1,1236.2 1576.1,1235.7 1577.1,1236.8 1578.1,1235.6 1579.1,1236 1580.1,1234.5 1581.1,1237 1582.1,1237 1583.1,1235.4 1584.1,1237.2 1585.1,1236.8 1586.1,1236.9 1587.1,1234.5 1588.1,1236.6 1589.1,1237.1 1590.1,1235 1591.1,1236.4 1592.1,1236.2 1593.1,1236.3 1594.1,1236.9 1595.1,1236.1 1596.1,1236.7 1597.1,1235.9 1598.1,1234.9 1599.1,1236.5 1600.1,1235.9 1601.1,1235.3 1602.1,1235 1603.1,1235.3 1604.1,1236.7 1605.1,1237 1606.1,1235.5 1607.1,1236 1608.2,1237.2 1609.2,1236.2 1610.2,1237 1611.2,1235.6 1612.2,1236.4 1613.2,1235.4 1614.2,1236 1615.2,1235.6 1616.2,1237.2 1617.2,1234.9 1618.2,1236.2 1619.2,1234.2 1620.2,1237.3 1621.2,1234.7 1622.2,1236.9 1623.2,1237 1624.2,1236.7 1625.2,1235.5 1626.2,1237 1627.2,1236.1 1628.2,1236.8 1629.2,1236.7 1630.2,1236.2 1631.2,1236.8 1632.2,1237.2 1633.2,1235.3 1634.2,1235.2 1635.2,1236 1636.2,1235.4 1637.2,1236.5 1638.2,1237.1 1639.2,1234.7 1640.2,1236.4 1641.2,1236.6 1642.2,1236.5 1643.3,1235.2 1644.3,1236.5 1645.3,1236.4 1646.3,1235.9 1647.3,1236.7 1648.3,1235.2 1649.3,1235.8 1650.3,1236.1 1651.3,1236.5 1652.3,1236.2 1653.3,1235.3 1654.3,1235.1 1655.3,1234.6 1656.3,1236.9 1657.3,1236.6 1658.3,1237 1659.3,1235.7 1660.3,1235.3 1661.3,1233.9 1662.3,1236 1663.3,1236.2 1664.3,1235.9 1665.3,1234.8 1666.3,1237.1 1667.3,1233.1 1668.3,1233.7 1669.3,1237.3 1670.3,1236.5 1671.3,1234.7 1672.3,1235.9 1673.3,1236.8 1674.3,1237 1675.3,1235.4 1676.3,1236.9 1677.4,1236.9 1678.4,1234.8 1679.4,1236.2 1680.4,1236.1 1681.4,1236.4 1682.4,1234.1 1683.4,1236.4 1684.4,1236.6 1685.4,1234.7 1686.4,1237.2 1687.4,1236.2 1688.4,1236.6 1689.4,1237.1 1690.4,1235.4 1691.4,1236.3 1692.4,1236.6 1693.4,1235.9 1694.4,1237.1 1695.4,1234.3 1696.4,1236.3 1697.4,1236.4 1698.4,1235.9 1699.4,1236.9 1700.4,1236.4 1701.4,1236.8 1702.4,1236.3 1703.4,1234.2 1704.4,1236.9 1705.4,1237.2 1706.4,1236.8 1707.4,1235.2 1708.4,1234.6 1709.4,1236 1710.4,1235.6 1711.4,1236.2 1712.5,1236.5 1713.5,1236.5 1714.5,1236.5 1715.5,1236.4 1716.5,1235.5 1717.5,1235.5 1718.5,1236.8 1719.5,1236.6 1720.5,1236.7 1721.5,1236.6 1722.5,1236.8 1723.5,1236.8 1724.5,1236.9 1725.5,1236.6 1726.5,1236.2 1727.5,1236.6 1728.5,1237 1729.5,1237.3 1729.5,1244.7 1728.5,1245.8 1727.5,1244.9 1726.5,1246.1 1725.5,1246.4 1724.5,1247.2 1723.5,1246.9 1722.5,1248.6 1721.5,1244.8 1720.5,1246.5 1719.5,1246.2 1718.5,1245.5 1717.5,1245.2 1716.5,1245.1 1715.5,1245.5 1714.5,1245.4 1713.5,1245.7 1712.5,1246 1711.4,1245.9 1710.4,1245.2 1709.4,1246.8 1708.4,1246.7 1707.4,1245.6 1706.4,1244.7 1705.4,1246.3 1704.4,1245.3 1703.4,1246.8 1702.4,1244.9 1701.4,1247.1 1700.4,1245.6 1699.4,1247.2 1698.4,1244.9 1697.4,1246.3 1696.4,1247.9 1695.4,1245.4 1694.4,1246 1693.4,1245.5 1692.4,1245.5 1691.4,1245.3 1690.4,1245.6 1689.4,1246.4 1688.4,1246.9 1687.4,1245.1 1686.4,1246.2 1685.4,1244.8 1684.4,1245.5 1683.4,1244.7 1682.4,1245.1 1681.4,1245.2 1680.4,1244.9 1679.4,1246.1 1678.4,1245.8 1677.4,1249.6 1676.3,1245.3 1675.3,1245.9 1674.3,1246.7 1673.3,1246.6 1672.3,1244.9 1671.3,1246.6 1670.3,1244.8 1669.3,1246.7 1668.3,1244.9 1667.3,1245.8 1666.3,1246.2 1665.3,1245.5 1664.3,1245 1663.3,1244.8 1662.3,1247.4 1661.3,1244.8 1660.3,1245.9 1659.3,1245.4 1658.3,1245.6 1657.3,1247.9 1656.3,1246.3 1655.3,1245.3 1654.3,1247.2 1653.3,1245.7 1652.3,1245.7 1651.3,1247.9 1650.3,1246.7 1649.3,1246.4 1648.3,1245.5 1647.3,1245.2 1646.3,1246.4 1645.3,1246.8 1644.3,1244.9 1643.3,1246.3 1642.2,1245.6 1641.2,1245.4 1640.2,1244.7 1639.2,1247.5 1638.2,1244.8 1637.2,1245.5 1636.2,1247.5 1635.2,1246.1 1634.2,1246.5 1633.2,1244.8 1632.2,1245.6 1631.2,1246.8 1630.2,1245.4 1629.2,1245.3 1628.2,1244.7 1627.2,1245.2 1626.2,1246.3 1625.2,1244.8 1624.2,1245.7 1623.2,1245.4 1622.2,1244.8 1621.2,1247.2 1620.2,1245.3 1619.2,1245.4 1618.2,1246.2 1617.2,1248 1616.2,1245 1615.2,1245.8 1614.2,1245.2 1613.2,1247.6 1612.2,1245.3 1611.2,1245.6 1610.2,1248 1609.2,1245 1608.2,1246 1607.1,1246.1 1606.1,1245.3 1605.1,1246 1604.1,1244.7 1603.1,1245.2 1602.1,1247.7 1601.1,1245.8 1600.1,1245.6 1599.1,1245.8 1598.1,1248.1 1597.1,1246.2 1596.1,1245.1 1595.1,1244.8 1594.1,1245.1 1593.1,1245.7 1592.1,1245.9 1591.1,1246.8 1590.1,1247 1589.1,1246.4 1588.1,1244.8 1587.1,1244.9 1586.1,1245.2 1585.1,1245.3 1584.1,1247.6 1583.1,1245.2 1582.1,1246.2 1581.1,1246 1580.1,1246.2 1579.1,1245.3 1578.1,1246.6 1577.1,1246.7 1576.1,1244.8 1575.1,1244.9 1574.1,1245.1 1573.1,1245.5 1572,1245.3 1571,1245.6 1570,1244.8 1569,1247.1 1568,1245.7 1567,1245.3 1566,1246 1565,1245.8 1564,1245.9 1563,1247.3 1562,1247.2 1561,1245 1560,1247.3 1559,1245.4 1558,1246.9 1557,1246.5 1556,1245.9 1555,1247.1 Z" fill="#000"/>
<path d="M1319.3,1244L1320.5,1124.5M1553.8,1124.5L1555.4,1244" stroke="#000" stroke-width="4.8" fill="none"/>
<path d="M1158,1460.2 1159,1460.3 1160,1460.9 1161,1460.7 1162,1461.7 1163,1460.9 1164,1460.6 1165,1460.8 1166,1461.7 1167,1461.5 1168,1461.7 1169,1461.3 1170,1461.2 1171,1461.3 1172,1461 1173,1461.1 1174,1461.3 1175,1461.9 1176,1460.6 1177,1460.8 1178,1461.7 1179,1461.2 1180,1460.9 1181,1461.5 1182,1461.9 1183,1460 1184,1461.1 1185,1461.8 1186,1461 1187,1461.4 1188,1461.7 1189,1461.6 1190,1461.9 1191,1461.9 1192,1461.4 1193,1461.8 1194,1461.1 1195,1461.7 1196,1461.9 1197,1461.9 1198,1460.9 1199,1461 1200,1460 1201,1461.6 1202,1461.1 1203,1461.3 1204,1461.6 1205,1461.5 1206,1461.1 1207,1461 1208,1460.9 1209,1461.5 1210,1461.7 1211,1460.5 1212,1461.8 1213,1461.2 1214,1460.9 1215,1462 1216,1460.8 1217,1461.7 1218,1461.4 1219,1458.2 1220,1461.8 1221,1460.8 1222,1461.9 1223,1460.4 1224,1461.4 1225,1461 1226,1460.9 1227,1460.6 1228,1461.3 1229,1460.5 1230,1459.7 1231,1460.9 1232,1461.7 1233,1460.4 1234,1461.8 1235,1461.8 1236,1459.8 1237,1461.3 1238,1460.4 1239,1461.5 1240,1461.8 1241,1461.2 1242,1461.2 1243,1461.8 1244,1461.8 1245,1461.9 1246,1461.1 1247,1461 1248,1460.6 1249,1461.3 1250,1461.6 1251,1461.9 1252,1461.8 1253,1461.6 1254,1461.6 1255,1461.8 1256,1461.8 1257,1462 1258,1461.6 1259,1461.4 1260,1461.5 1261,1460.5 1262,1460.8 1263,1460.8 1264,1461.9 1265,1461.9 1266,1461.9 1267,1460 1268,1460.8 1269,1460.6 1270,1461.2 1271,1462 1272,1461.6 1273,1461.3 1274,1460.8 1275,1461.6 1276,1461.4 1277,1461.7 1278,1461.9 1279,1461.7 1280,1459.8 1281,1461.3 1282,1461 1283,1461.9 1284,1460.8 1285,1461.7 1286,1461.8 1287,1461.8 1288,1461.4 1289,1460.1 1290,1461.6 1291,1460.2 1292,1460.8 1293,1461.1 1294,1460.5 1295,1460.4 1296,1461.7 1297,1460 1298,1461.6 1299,1461.6 1300,1461.9 1301,1461.6 1302,1461.2 1303,1461.7 1304,1461.8 1305,1461.7 1306,1461.6 1307,1461.7 1308,1461.5 1309,1460.1 1310,1461.6 1311,1461.2 1312,1461.5 1313,1461.6 1314,1461.1 1315,1461.7 1316,1459.2 1317,1460.3 1318,1460.1 1319,1458.6 1320,1458.6 1321,1457.2 1322,1455.8 1323,1453 1324,1451.7 1325,1450.3 1326,1447.5 1327,1446.4 1328,1445.2 1329,1442.2 1330,1439.9 1331,1440.3 1332,1438.6 1333,1436.6 1334,1434.9 1335,1432.4 1336,1431.2 1337,1427.8 1338,1427.6 1339,1425.3 1340,1424.3 1341,1421 1342,1419.1 1343,1418.7 1344,1417.8 1345,1416.2 1346,1412.3 1347,1412 1348,1410.9 1349,1408.9 1350,1407.5 1351,1404.6 1352,1402.4 1353,1401.7 1354,1399 1355,1398.4 1356,1395.9 1357,1394.6 1358,1393.7 1359,1392.1 1360,1390.4 1361,1387.8 1362,1385.7 1363,1384.4 1364,1383.4 1365,1380.7 1366,1377.8 1367,1378.1 1368,1376.5 1369,1374.3 1370,1371.1 1371,1368.3 1372,1368.3 1373,1367.3 1374,1364.4 1375,1364.5 1376,1362.8 1377,1361 1378,1358.8 1379,1357.4 1380,1355.9 1381,1354.1 1382,1352 1383,1351.1 1384,1351 1385,1350.3 1386,1349 1387,1348.7 1388,1346.7 1389,1348.2 1390,1348.2 1391,1347.4 1392,1348.7 1393,1348.7 1394,1348.7 1395,1348.2 1396,1347.9 1397,1347.6 1398,1348.4 1399,1347.2 1400,1348.6 1401,1348.6 1402,1346.9 1403,1348.5 1404,1348.3 1405,1347.7 1406,1347.9 1407,1348.1 1408,1347.8 1409,1348.3 1410,1348.7 1411,1346.1 1412,1347.7 1413,1347.4 1414,1348.7 1415,1347.7 1416,1346.2 1417,1346.8 1418,1348.7 1419,1347.3 1420,1345.7 1421,1347.5 1422,1347.6 1423,1348.3 1424,1348.3 1425,1344.8 1426,1346.6 1427,1348.1 1428,1347 1429,1348.3 1430,1348.5 1431,1348 1432,1348.7 1433,1346.8 1434,1347.4 1435,1347 1436,1348.6 1437,1347.6 1438,1346.1 1439,1347.5 1440,1347.4 1441,1347.1 1442,1347.9 1443,1348.3 1444,1348.3 1445,1348.2 1446,1348.5 1447,1348.2 1448,1348 1449,1347.5 1450,1348.5 1451,1348.4 1452,1348.6 1453,1348.3 1454,1348.5 1455,1346.9 1456,1347.6 1457,1348.2 1458,1348.6 1459,1347.9 1460,1347.6 1461,1348.7 1462,1346.6 1463,1348.6 1464,1347.6 1465,1348.7 1466,1348.6 1467,1346.8 1468,1347.4 1469,1347.1 1470,1346.9 1471,1348.3 1472,1348.1 1473,1347.3 1474,1348.6 1475,1345.6 1476,1348.2 1477,1348.3 1478,1346.7 1479,1348.3 1480,1348.7 1481,1348.4 1482,1347.7 1483,1348.4 1484,1348.2 1485,1347.9 1486,1347.5 1487,1348.4 1488,1348.6 1489,1348.4 1490,1348.5 1491,1348.1 1492,1348.6 1493,1346.4 1494,1348.2 1495,1347.3 1496,1348.4 1497,1348.1 1498,1348.6 1499,1347.9 1500,1348.8 1501,1347.3 1502,1348.8 1503,1348.8 1504,1348.4 1505,1348 1506,1348.2 1507,1348.1 1508,1346.8 1509,1348.4 1510,1348.5 1511,1347.9 1512,1347.9 1513,1347.6 1514,1347.9 1515,1348.6 1516,1347.9 1517,1346.3 1518,1347.1 1519,1348.7 1520,1347.4 1521,1347.9 1522,1348.3 1523,1347.6 1524,1348.2 1525,1347.6 1526,1348.1 1527,1348.4 1528,1348.2 1529,1348.4 1530,1348.2 1531,1348.7 1532,1347.9 1533,1348 1534,1347.7 1535,1346.4 1536,1347.9 1537,1347.9 1538,1348.4 1539,1347 1540,1348.8 1541,1348.2 1542,1348.2 1543,1347.5 1544,1348.2 1545,1347.9 1546,1348.6 1547,1347 1548,1348.7 1549,1346.9 1550,1348.4 1551,1348.4 1552,1347.2 1553,1347.3 1554,1346.7 1555,1347 1556,1349.3 1557,1349.2 1558,1349 1559,1349.8 1560,1346.2 1561,1350.5 1562,1351.8 1563,1352.9 1564,1355.5 1565,1355.5 1566,1357.4 1567,1360.4 1568,1362.5 1569,1363.1 1570,1365.8 1571,1367.5 1572,1368.9 1573,1370.1 1574,1373.3 1575,1374.3 1576,1376.6 1577,1377.1 1578,1380.2 1579,1381.7 1580,1383 1581,1385.1 1582,1387.4 1583,1388.8 1584,1390.9 1585,1392.5 1586,1393.7 1587,1396.2 1588,1396.6 1589,1399.7 1590,1400.9 1591,1402.7 1592,1405 1593,1406.2 1594,1408.6 1595,1410.1 1596,1411.3 1597,1414.1 1598,1413.7 1599,1417.6 1600,1419.2 1601,1420.6 1602,1422.6 1603,1423.5 1604,1426.1 1605,1427.9 1606,1428.7 1607,1431.5 1608,1432.1 1609,1434.9 1610,1436.4 1611,1438 1612,1439.4 1613,1441.8 1614,1442.8 1615,1445.4 1616,1445.7 1617,1448.4 1618,1449.5 1619,1452.1 1620,1454.5 1621,1456.7 1622,1456.7 1623,1458.8 1624,1459.1 1625,1460.2 1626,1461.9 1627,1461.1 1628,1461.7 1629,1461.3 1630,1461.5 1631,1461 1632,1461.8 1633,1461.8 1634,1460.5 1635,1460.6 1636,1461.4 1637.1,1461.5 1638.1,1461.7 1639.1,1460.4 1640.1,1461.9 1641.1,1460.8 1642.1,1461.7 1643.1,1460.5 1644.1,1461.8 1645.1,1461.4 1646.1,1461.5 1647.1,1460.8 1648.1,1461.5 1649.1,1461.9 1650.1,1460.7 1651.1,1460.2 1652.1,1461.1 1653.1,1461.3 1654.1,1460.7 1655.1,1461 1656.1,1461.7 1657.1,1460.2 1658.2,1461.4 1659.2,1461.1 1660.2,1461.8 1661.2,1461 1662.2,1461.6 1663.2,1461.1 1664.2,1461.4 1665.2,1459.8 1666.2,1461.9 1667.2,1461.6 1668.2,1460.3 1669.2,1461.9 1670.2,1461.2 1671.2,1461.3 1672.2,1461.6 1673.2,1461.2 1674.2,1461.6 1675.2,1461.4 1676.2,1462 1677.2,1461.5 1678.2,1460.9 1679.3,1460.8 1680.3,1459.8 1681.3,1461.8 1682.3,1460.3 1683.3,1461.1 1684.3,1459.4 1685.3,1461.9 1686.3,1459.9 1687.3,1462 1688.3,1462 1689.3,1458 1690.3,1461.6 1691.3,1461.3 1692.3,1460.7 1693.3,1461.9 1694.3,1461.9 1695.3,1461.9 1696.3,1461.2 1697.3,1461.6 1698.3,1461.5 1699.4,1461.2 1700.4,1460.3 1701.4,1461.5 1702.4,1461.2 1703.4,1461.8 1704.4,1460.8 1705.4,1460.7 1706.4,1459.4 1707.4,1460.4 1708.4,1461.8 1709.4,1461.3 1710.4,1461 1711.4,1461.5 1712.4,1461.8 1713.4,1461.8 1714.4,1461.1 1715.4,1461.2 1716.4,1461.7 1717.4,1461.9 1718.4,1461.7 1719.4,1461.9 1720.5,1460.4 1721.5,1459.3 1722.5,1461.4 1723.5,1461 1724.5,1461.3 1725.5,1461.1 1726.5,1461.7 1727.5,1460.4 1728.5,1459 1729.5,1461.4 1730.5,1462 1730.5,1469.6 1729.5,1469.8 1728.5,1470 1727.5,1470.7 1726.5,1471.3 1725.5,1471.3 1724.5,1470.1 1723.5,1471 1722.5,1470.9 1721.5,1469.9 1720.5,1470.4 1719.4,1469.8 1718.4,1470.6 1717.4,1471.4 1716.4,1469.6 1715.4,1471.4 1714.4,1470.1 1713.4,1470.9 1712.4,1469.8 1711.4,1469.6 1710.4,1469.9 1709.4,1470.5 1708.4,1470.7 1707.4,1472.1 1706.4,1470.1 1705.4,1470.1 1704.4,1470.1 1703.4,1470.4 1702.4,1469.8 1701.4,1470.4 1700.4,1469.8 1699.4,1469.8 1698.3,1471.2 1697.3,1470.1 1696.3,1469.7 1695.3,1469.6 1694.3,1470.2 1693.3,1470.8 1692.3,1472.1 1691.3,1470.6 1690.3,1469.7 1689.3,1469.7 1688.3,1470.2 1687.3,1469.7 1686.3,1471.7 1685.3,1470.8 1684.3,1470.5 1683.3,1470.6 1682.3,1470.6 1681.3,1470.2 1680.3,1470.1 1679.3,1470.5 1678.2,1469.7 1677.2,1469.6 1676.2,1470 1675.2,1471 1674.2,1470.9 1673.2,1470.2 1672.2,1470.4 1671.2,1469.9 1670.2,1470.8 1669.2,1470 1668.2,1470 1667.2,1471.7 1666.2,1471.2 1665.2,1470.3 1664.2,1470.1 1663.2,1469.8 1662.2,1469.7 1661.2,1470.8 1660.2,1470.7 1659.2,1469.6 1658.2,1471 1657.1,1471 1656.1,1471.6 1655.1,1469.7 1654.1,1469.8 1653.1,1471.1 1652.1,1471.6 1651.1,1470 1650.1,1470.1 1649.1,1471.5 1648.1,1470.8 1647.1,1471.1 1646.1,1470.1 1645.1,1469.7 1644.1,1470 1643.1,1469.9 1642.1,1469.9 1641.1,1470.6 1640.1,1470.1 1639.1,1471.6 1638.1,1469.9 1637.1,1470.4 1636,1470.3 1635,1470.9 1634,1470.7 1633,1470.5 1632,1469.9 1631,1470.6 1630,1469.7 1629,1469.6 1628,1470.1 1627,1471 1626,1472.9 1625,1471.2 1624,1470.1 1623,1468.9 1622,1467.5 1621,1467.9 1620,1465.9 1619,1467.6 1618,1463.9 1617,1462.3 1616,1460.7 1615,1458.6 1614,1457.4 1613,1454.9 1612,1453.1 1611,1452.2 1610,1449.8 1609,1448.2 1608,1446.7 1607,1444.9 1606,1442.9 1605,1441.7 1604,1440.1 1603,1437.3 1602,1435.9 1601,1434.4 1600,1433 1599,1430.5 1598,1428.4 1597,1428 1596,1426.1 1595,1424.7 1594,1421.5 1593,1421.1 1592,1420.1 1591,1417.3 1590,1414.7 1589,1413.1 1588,1412.6 1587,1409.2 1586,1407.7 1585,1405.7 1584,1404.1 1583,1402 1582,1401.8 1581,1398.7 1580,1397.2 1579,1395.3 1578,1393.5 1577,1393.2 1576,1390.7 1575,1388 1574,1386.6 1573,1385.3 1572,1382.9 1571,1381.1 1570,1379.2 1569,1378.8 1568,1375.7 1567,1374.4 1566,1372.7 1565,1370.3 1564,1369.8 1563,1368.6 1562,1365 1561,1364 1560,1362.4 1559,1359.2 1558,1358.6 1557,1358.2 1556,1358.4 1555,1357.2 1554,1359.7 1553,1357.3 1552,1357.5 1551,1356.7 1550,1356.9 1549,1357.6 1548,1356.9 1547,1357.3 1546,1356.8 1545,1357.2 1544,1356.5 1543,1357.4 1542,1357 1541,1358.1 1540,1358.7 1539,1359 1538,1356.8 1537,1358.8 1536,1358 1535,1357.6 1534,1356.8 1533,1356.5 1532,1356.8 1531,1357 1530,1357.4 1529,1356.6 1528,1356.6 1527,1356.7 1526,1356.5 1525,1356.9 1524,1357.1 1523,1358.1 1522,1357.9 1521,1358.6 1520,1357.3 1519,1357.6 1518,1357.2 1517,1357.1 1516,1356.8 1515,1357.7 1514,1357.5 1513,1357.6 1512,1356.8 1511,1356.5 1510,1356.6 1509,1357 1508,1357 1507,1357.5 1506,1356.5 1505,1358.4 1504,1357.1 1503,1356.5 1502,1356.6 1501,1357.7 1500,1357.4 1499,1357.6 1498,1357.6 1497,1357 1496,1357.4 1495,1357 1494,1357.4 1493,1357 1492,1357.9 1491,1359.1 1490,1357.7 1489,1356.5 1488,1356.8 1487,1357.2 1486,1357.4 1485,1358.6 1484,1357.6 1483,1357.3 1482,1359 1481,1356.4 1480,1356.9 1479,1358.6 1478,1356.8 1477,1357.9 1476,1358.1 1475,1357.6 1474,1357.9 1473,1357.3 1472,1357.1 1471,1358.4 1470,1356.8 1469,1356.4 1468,1357 1467,1356.5 1466,1357.6 1465,1357 1464,1357.9 1463,1357.2 1462,1356.5 1461,1357.4 1460,1357.9 1459,1357.4 1458,1357.7 1457,1356.5 1456,1356.4 1455,1356.6 1454,1356.5 1453,1356.4 1452,1356.7 1451,1357.2 1450,1356.7 1449,1357.3 1448,1357.9 1447,1356.9 1446,1356.8 1445,1357.6 1444,1356.4 1443,1357.2 1442,1356.8 1441,1358.3 1440,1356.9 1439,1356.5 1438,1357.4 1437,1357.2 1436,1356.9 1435,1356.6 1434,1356.9 1433,1356.5 1432,1359 1431,1356.6 1430,1356.8 1429,1357.4 1428,1357.1 1427,1356.6 1426,1357.1 1425,1357.3 1424,1356.7 1423,1358.1 1422,1357.4 1421,1359.3 1420,1358.3 1419,1356.6 1418,1357.8 1417,1356.8 1416,1358.6 1415,1357.1 1414,1357.6 1413,1356.9 1412,1356.8 1411,1356.4 1410,1357.9 1409,1356.9 1408,1357 1407,1356.9 1406,1357.2 1405,1359 1404,1356.5 1403,1356.7 1402,1357.7 1401,1358.6 1400,1356.6 1399,1358.3 1398,1357.5 1397,1357.1 1396,1356.6 1395,1358.7 1394,1356.8 1393,1356.7 1392,1356.9 1391,1357.3 1390,1358 1389,1357.7 1388,1358.3 1387,1359.1 1386,1359.2 1385,1360.4 1384,1362.6 1383,1361.8 1382,1366.5 1381,1366.9 1380,1369.4 1379,1370.5 1378,1373.1 1377,1374.3 1376,1376.8 1375,1377.8 1374,1379.2 1373,1382.2 1372,1382.4 1371,1384.4 1370,1385.8 1369,1388.2 1368,1389.4 1367,1391 1366,1392.6 1365,1394.4 1364,1397.7 1363,1400 1362,1399.8 1361,1401.3 1360,1403.6 1359,1405.8 1358,1406.4 1357,1408.8 1356,1411.4 1355,1413.1 1354,1413.7 1353,1416.2 1352,1417.3 1351,1418.9 1350,1421.2 1349,1422.4 1348,1423.8 1347,1425.3 1346,1429.2 1345,1430.4 1344,1431 1343,1433.8 1342,1434.2 1341,1435.7 1340,1439.8 1339,1439.3 1338,1441.2 1337,1442.5 1336,1444.4 1335,1446.8 1334,1447.6 1333,1449.7 1332,1451.1 1331,1453.2 1330,1455 1329,1456.7 1328,1460.4 1327,1460.1 1326,1462.3 1325,1463.7 1324,1465.9 1323,1467.6 1322,1468.5 1321,1468.5 1320,1468.1 1319,1468.3 1318,1469.9 1317,1470 1316,1470.4 1315,1470 1314,1469.8 1313,1470.3 1312,1470.1 1311,1469.7 1310,1470.3 1309,1470.5 1308,1469.9 1307,1471.1 1306,1471.1 1305,1470.3 1304,1470.5 1303,1469.7 1302,1470.4 1301,1469.8 1300,1469.7 1299,1469.8 1298,1471.4 1297,1470.9 1296,1470.3 1295,1471.9 1294,1471.8 1293,1470.3 1292,1469.9 1291,1470.4 1290,1472.2 1289,1470.7 1288,1469.9 1287,1471.1 1286,1470.3 1285,1471.2 1284,1470.9 1283,1471 1282,1469.9 1281,1471 1280,1469.7 1279,1470.7 1278,1470.4 1277,1471.7 1276,1470.7 1275,1470.6 1274,1470.6 1273,1469.7 1272,1471.2 1271,1470 1270,1472 1269,1471.1 1268,1470.3 1267,1470.2 1266,1471.3 1265,1470 1264,1470.5 1263,1469.9 1262,1470 1261,1469.7 1260,1469.9 1259,1470.1 1258,1470.3 1257,1471.3 1256,1470.6 1255,1470.3 1254,1471 1253,1471.7 1252,1470.1 1251,1470.8 1250,1470.2 1249,1470.1 1248,1471.7 1247,1470.3 1246,1470.3 1245,1471 1244,1470.3 1243,1470 1242,1470.6 1241,1469.7 1240,1469.9 1239,1471.5 1238,1469.9 1237,1469.8 1236,1471.8 1235,1470.3 1234,1470.4 1233,1470.3 1232,1469.9 1231,1471.8 1230,1469.6 1229,1470.8 1228,1469.9 1227,1470.4 1226,1470.1 1225,1470.4 1224,1469.8 1223,1469.8 1222,1470.9 1221,1469.7 1220,1470.5 1219,1471 1218,1470.5 1217,1469.9 1216,1470.1 1215,1471.3 1214,1471.1 1213,1470.6 1212,1469.7 1211,1469.8 1210,1470.3 1209,1470.3 1208,1469.8 1207,1469.8 1206,1471 1205,1470.6 1204,1470.2 1203,1471.2 1202,1470.5 1201,1470.4 1200,1470.8 1199,1470.2 1198,1470 1197,1470.7 1196,1469.7 1195,1470.8 1194,1470.7 1193,1469.8 1192,1469.7 1191,1470.8 1190,1470.2 1189,1470 1188,1470.5 1187,1470.6 1186,1470.5 1185,1470.3 1184,1471.2 1183,1469.7 1182,1470 1181,1470.1 1180,1471.8 1179,1469.8 1178,1469.8 1177,1471 1176,1469.8 1175,1470.8 1174,1469.8 1173,1469.7 1172,1471.2 1171,1470.5 1170,1469.9 1169,1470 1168,1469.8 1167,1469.7 1166,1472.2 1165,1470 1164,1472.9 1163,1470.1 1162,1470.7 1161,1469.8 1160,1470.5 1159,1470.9 1158,1469.7 Z" fill="#c00000"/>
<path d="M1146,1447 1148,1458 1153,1464.5 1158,1465.8 1316,1465.8" stroke="#c00000" stroke-width="7.6" fill="none" stroke-linecap="round" stroke-linejoin="round"/>
<rect x="1144" y="1070.8" width="587.5" height="451.5" fill="none" stroke="#000" stroke-width="6.2" stroke-linejoin="round"/>
<rect x="1143.7" y="1069" width="121.5" height="142" fill="#fff" stroke="#1e1e1e" stroke-width="2.6"/>
<text x="1152.8" y="1103.4" font-size="23.8" textLength="89.6" lengthAdjust="spacingAndGlyphs">V<tspan dy="6.6" font-size="16.5" font-style="italic">S</tspan><tspan dy="-6.6" font-size="0.1"> </tspan>=36V</text>
<text x="1153.6" y="1134.2" font-size="23.8" textLength="47.6" lengthAdjust="spacingAndGlyphs">G=1</text>
<text x="1153.6" y="1166.5" font-size="23.8" textLength="99.3" lengthAdjust="spacingAndGlyphs">C<tspan dy="6.6" font-size="16.5">L</tspan><tspan dy="-6.6" font-size="0.1"> </tspan>=50pF</text>
<text x="1154" y="1197.3" font-size="23.8" textLength="67.6" lengthAdjust="spacingAndGlyphs">20V<tspan dy="6.2" font-size="15.5">PP</tspan></text>
<text x="1018.4" y="1180.7" font-size="27" textLength="19.5" lengthAdjust="spacingAndGlyphs">V</text><text x="1038.4" y="1187.5" font-size="18" textLength="20" lengthAdjust="spacingAndGlyphs">IN</text>
<text x="1018.4" y="1413.8" font-size="27" textLength="19.5" lengthAdjust="spacingAndGlyphs">V</text><text x="1038.4" y="1420.3" font-size="18" textLength="39.5" lengthAdjust="spacingAndGlyphs">OUT</text>
<text x="1128.3" y="1238" font-size="27" textLength="101.3" lengthAdjust="spacingAndGlyphs" transform="rotate(-90 1128.3 1238)">10V/div</text>
<text x="1119.1" y="1458.1" font-size="27" textLength="101.6" lengthAdjust="spacingAndGlyphs" transform="rotate(-90 1119.1 1458.1)">10V/div</text>
<text x="1370.1" y="1566.9" font-size="27" textLength="129.3" lengthAdjust="spacingAndGlyphs">500ns/div</text>
</g>
<g id="fig29">
<path d="M374.5,1703.9V2157.2M386,1703.9V2157.2M394.1,1703.9V2157.2M400.5,1703.9V2157.2M405.6,1703.9V2157.2M410,1703.9V2157.2M413.7,1703.9V2157.2M417.1,1703.9V2157.2M420.1,1703.9V2157.2M439.6,1703.9V2157.2M451.1,1703.9V2157.2M459.2,1703.9V2157.2M465.6,1703.9V2157.2M470.7,1703.9V2157.2M475.1,1703.9V2157.2M478.8,1703.9V2157.2M482.2,1703.9V2157.2M485.1,1703.9V2157.2M504.7,1703.9V2157.2M516.2,1703.9V2157.2M524.3,1703.9V2157.2M530.7,1703.9V2157.2M535.8,1703.9V2157.2M540.2,1703.9V2157.2M543.9,1703.9V2157.2M547.3,1703.9V2157.2M550.2,1703.9V2157.2M569.8,1703.9V2157.2M581.3,1703.9V2157.2M589.4,1703.9V2157.2M595.8,1703.9V2157.2M600.9,1703.9V2157.2M605.3,1703.9V2157.2M609,1703.9V2157.2M612.4,1703.9V2157.2M615.4,1703.9V2157.2M634.9,1703.9V2157.2M646.4,1703.9V2157.2M654.5,1703.9V2157.2M660.9,1703.9V2157.2M666,1703.9V2157.2M670.4,1703.9V2157.2M674.1,1703.9V2157.2M677.5,1703.9V2157.2M680.5,1703.9V2157.2M700,1703.9V2157.2M711.5,1703.9V2157.2M719.6,1703.9V2157.2M726,1703.9V2157.2M731.1,1703.9V2157.2M735.5,1703.9V2157.2M739.2,1703.9V2157.2M742.6,1703.9V2157.2M745.5,1703.9V2157.2M765.1,1703.9V2157.2M776.6,1703.9V2157.2M784.7,1703.9V2157.2M791.1,1703.9V2157.2M796.2,1703.9V2157.2M800.6,1703.9V2157.2M804.3,1703.9V2157.2M807.7,1703.9V2157.2M810.7,1703.9V2157.2M830.2,1703.9V2157.2M841.7,1703.9V2157.2M849.8,1703.9V2157.2M856.2,1703.9V2157.2M861.3,1703.9V2157.2M865.7,1703.9V2157.2M869.4,1703.9V2157.2M872.8,1703.9V2157.2M875.8,1703.9V2157.2M895.3,1703.9V2157.2M906.8,1703.9V2157.2M914.9,1703.9V2157.2M921.3,1703.9V2157.2M926.4,1703.9V2157.2M930.8,1703.9V2157.2M934.5,1703.9V2157.2M937.9,1703.9V2157.2" stroke="#444" stroke-width="1.9" fill="none"/>
<rect x="400.5" y="1703.9" width="5.2" height="453.3" fill="#000" fill-opacity="0.06"/><rect x="405.6" y="1703.9" width="4.4" height="453.3" fill="#000" fill-opacity="0.2"/><rect x="410" y="1703.9" width="3.8" height="453.3" fill="#000" fill-opacity="0.2"/><rect x="413.7" y="1703.9" width="3.3" height="453.3" fill="#000" fill-opacity="0.4"/><rect x="417.1" y="1703.9" width="3" height="453.3" fill="#000" fill-opacity="0.52"/><rect x="465.6" y="1703.9" width="5.2" height="453.3" fill="#000" fill-opacity="0.06"/><rect x="470.7" y="1703.9" width="4.4" height="453.3" fill="#000" fill-opacity="0.2"/><rect x="475.1" y="1703.9" width="3.8" height="453.3" fill="#000" fill-opacity="0.2"/><rect x="478.8" y="1703.9" width="3.3" height="453.3" fill="#000" fill-opacity="0.4"/><rect x="482.2" y="1703.9" width="3" height="453.3" fill="#000" fill-opacity="0.52"/><rect x="530.7" y="1703.9" width="5.2" height="453.3" fill="#000" fill-opacity="0.06"/><rect x="535.8" y="1703.9" width="4.4" height="453.3" fill="#000" fill-opacity="0.2"/><rect x="540.2" y="1703.9" width="3.8" height="453.3" fill="#000" fill-opacity="0.2"/><rect x="543.9" y="1703.9" width="3.3" height="453.3" fill="#000" fill-opacity="0.4"/><rect x="547.3" y="1703.9" width="3" height="453.3" fill="#000" fill-opacity="0.52"/><rect x="595.8" y="1703.9" width="5.2" height="453.3" fill="#000" fill-opacity="0.06"/><rect x="600.9" y="1703.9" width="4.4" height="453.3" fill="#000" fill-opacity="0.2"/><rect x="605.3" y="1703.9" width="3.8" height="453.3" fill="#000" fill-opacity="0.2"/><rect x="609" y="1703.9" width="3.3" height="453.3" fill="#000" fill-opacity="0.4"/><rect x="612.4" y="1703.9" width="3" height="453.3" fill="#000" fill-opacity="0.52"/><rect x="660.9" y="1703.9" width="5.2" height="453.3" fill="#000" fill-opacity="0.06"/><rect x="666" y="1703.9" width="4.4" height="453.3" fill="#000" fill-opacity="0.2"/><rect x="670.4" y="1703.9" width="3.8" height="453.3" fill="#000" fill-opacity="0.2"/><rect x="674.1" y="1703.9" width="3.3" height="453.3" fill="#000" fill-opacity="0.4"/><rect x="677.5" y="1703.9" width="3" height="453.3" fill="#000" fill-opacity="0.52"/><rect x="726" y="1703.9" width="5.2" height="453.3" fill="#000" fill-opacity="0.06"/><rect x="731.1" y="1703.9" width="4.4" height="453.3" fill="#000" fill-opacity="0.2"/><rect x="735.5" y="1703.9" width="3.8" height="453.3" fill="#000" fill-opacity="0.2"/><rect x="739.2" y="1703.9" width="3.3" height="453.3" fill="#000" fill-opacity="0.4"/><rect x="742.6" y="1703.9" width="3" height="453.3" fill="#000" fill-opacity="0.52"/><rect x="791.1" y="1703.9" width="5.2" height="453.3" fill="#000" fill-opacity="0.06"/><rect x="796.2" y="1703.9" width="4.4" height="453.3" fill="#000" fill-opacity="0.2"/><rect x="800.6" y="1703.9" width="3.8" height="453.3" fill="#000" fill-opacity="0.2"/><rect x="804.3" y="1703.9" width="3.3" height="453.3" fill="#000" fill-opacity="0.4"/><rect x="807.7" y="1703.9" width="3" height="453.3" fill="#000" fill-opacity="0.52"/><rect x="856.2" y="1703.9" width="5.2" height="453.3" fill="#000" fill-opacity="0.06"/><rect x="861.3" y="1703.9" width="4.4" height="453.3" fill="#000" fill-opacity="0.2"/><rect x="865.7" y="1703.9" width="3.8" height="453.3" fill="#000" fill-opacity="0.2"/><rect x="869.4" y="1703.9" width="3.3" height="453.3" fill="#000" fill-opacity="0.4"/><rect x="872.8" y="1703.9" width="3" height="453.3" fill="#000" fill-opacity="0.52"/><rect x="921.3" y="1703.9" width="5.2" height="453.3" fill="#000" fill-opacity="0.06"/><rect x="926.4" y="1703.9" width="4.4" height="453.3" fill="#000" fill-opacity="0.2"/><rect x="930.8" y="1703.9" width="3.8" height="453.3" fill="#000" fill-opacity="0.2"/><rect x="934.5" y="1703.9" width="3.3" height="453.3" fill="#000" fill-opacity="0.4"/><rect x="937.9" y="1703.9" width="3" height="453.3" fill="#000" fill-opacity="0.52"/>
<path d="M354.9,1779.5H940.9M354.9,1855H940.9M354.9,1930.5H940.9M354.9,2006.1H940.9M354.9,2081.6H940.9" stroke="#000" stroke-width="2.3" fill="none"/>
<rect x="615.7" y="1785.4" width="66.5" height="34.3" fill="#fff"/>
<rect x="596.8" y="1995.4" width="64" height="36.8" fill="#fff"/>
<path d="M354.9,1726.5 780,2056.8 794.2,2067.6 809.9,2080.9 815,2085.6 819.8,2089.6 824.5,2093 829.8,2096.2 835,2099.1 840.5,2101.9 844.5,2104.1 847.6,2106.2 850.2,2108.5 852.5,2111.2 854.8,2114.3 856.8,2117.6 859.4,2122 861.8,2126.8 864,2131 866.1,2135.3 868,2140 869.6,2144.6 871.7,2152.4 872.3,2154.5" stroke="#000" stroke-width="4.5" fill="none" stroke-linejoin="round"/>
<path d="M354.9,1741.3 660,1741.5 678.6,1742.6 700,1744.3 714.1,1746.2 730,1748.6 745,1751.9 761.5,1759.3 770,1765.5 778.1,1773.5 785,1783 792.4,1794.8 800,1806.5 809,1820.9 815,1833 820.8,1847 826,1861 830.3,1875.5 833.5,1890 836.2,1906.3 838.8,1921 841,1937.1 843,1954 844.4,1972.7 845.6,2000 847,2035.6 847.8,2050 849.3,2064.2 850.4,2080.6 851.5,2099.8 852.2,2114 852.9,2135.3 853.3,2154" stroke="#000" stroke-width="4.1" fill="none" stroke-linejoin="round"/>
<path d="M843.6,2000L847.9,2075L850.3,2154L856.3,2154L852.3,2075L847.6,2000Z" fill="#000"/>
<path d="M646.5,1784.5L636.6,1759.9" stroke="#000" stroke-width="2.2" fill="none"/><path d="M631,1746L645.6,1759.5L629.8,1765.9Z" fill="#000"/>
<path d="M621,1988L610.9,1948.7" stroke="#000" stroke-width="2.2" fill="none"/><path d="M607.2,1934.2L619.9,1949.5L603.4,1953.7Z" fill="#000"/>
<text x="618.1" y="1810.3" font-size="23.5" textLength="65.2" lengthAdjust="spacingAndGlyphs">Phase</text>
<text x="599.7" y="2021.5" font-size="23.5" textLength="49.8" lengthAdjust="spacingAndGlyphs">Gain</text>
<rect x="354.9" y="2097.3" width="132.7" height="59.9" fill="#fff" stroke="#000" stroke-width="2.2"/>
<rect x="354.9" y="1703.9" width="585.9" height="453.3" fill="none" stroke="#000" stroke-width="6" stroke-linejoin="round"/>
<text x="367.3" y="2131.5" font-size="24.4" textLength="99" lengthAdjust="spacingAndGlyphs">C<tspan dy="6.6" font-size="16.5">L</tspan><tspan dy="-6.6" font-size="0.1"> </tspan>=50pF</text>
<text x="281.3" y="1712.5" font-size="24" textLength="43.5" lengthAdjust="spacingAndGlyphs">150</text>
<text x="281.3" y="1788" font-size="24" textLength="43.5" lengthAdjust="spacingAndGlyphs">120</text>
<text x="295.8" y="1863.6" font-size="24" textLength="29" lengthAdjust="spacingAndGlyphs">90</text>
<text x="295.8" y="1939.1" font-size="24" textLength="29" lengthAdjust="spacingAndGlyphs">60</text>
<text x="295.8" y="2014.7" font-size="24" textLength="29" lengthAdjust="spacingAndGlyphs">30</text>
<text x="310.3" y="2090.2" font-size="24" textLength="14.5" lengthAdjust="spacingAndGlyphs">0</text>
<text x="286.9" y="2165.8" font-size="24" textLength="37.9" lengthAdjust="spacingAndGlyphs">-30</text>
<text x="964.7" y="1712.5" font-size="24" textLength="43.5" lengthAdjust="spacingAndGlyphs">100</text>
<text x="964.7" y="1788" font-size="24" textLength="29" lengthAdjust="spacingAndGlyphs">80</text>
<text x="964.7" y="1863.6" font-size="24" textLength="29" lengthAdjust="spacingAndGlyphs">60</text>
<text x="964.7" y="1939.1" font-size="24" textLength="29" lengthAdjust="spacingAndGlyphs">40</text>
<text x="964.7" y="2014.7" font-size="24" textLength="29" lengthAdjust="spacingAndGlyphs">20</text>
<text x="964.7" y="2090.2" font-size="24" textLength="14.5" lengthAdjust="spacingAndGlyphs">0</text>
<text x="964.7" y="2165.8" font-size="24" textLength="37.9" lengthAdjust="spacingAndGlyphs">-20</text>
<text x="347.7" y="2199.2" font-size="24" textLength="14.5" lengthAdjust="spacingAndGlyphs">1</text>
<text x="405.6" y="2199.2" font-size="24" textLength="29" lengthAdjust="spacingAndGlyphs">10</text>
<text x="463.4" y="2199.2" font-size="24" textLength="43.5" lengthAdjust="spacingAndGlyphs">100</text>
<text x="534.8" y="2199.2" font-size="24" textLength="30.9" lengthAdjust="spacingAndGlyphs">1K</text>
<text x="592.6" y="2199.2" font-size="24" textLength="45.4" lengthAdjust="spacingAndGlyphs">10K</text>
<text x="650.5" y="2199.2" font-size="24" textLength="59.9" lengthAdjust="spacingAndGlyphs">100K</text>
<text x="727.3" y="2199.2" font-size="24" textLength="36.5" lengthAdjust="spacingAndGlyphs">1M</text>
<text x="785.2" y="2199.2" font-size="24" textLength="51" lengthAdjust="spacingAndGlyphs">10M</text>
<text x="843" y="2199.2" font-size="24" textLength="65.5" lengthAdjust="spacingAndGlyphs">100M</text>
<text x="903.9" y="2199.2" font-size="24" textLength="80" lengthAdjust="spacingAndGlyphs">1000M</text>
<text x="263.2" y="2021" font-size="30.8" textLength="115.8" lengthAdjust="spacingAndGlyphs" transform="rotate(-90 263.2 2021)">开环增益</text>
<text x="262.1" y="1894.5" font-size="29.5" textLength="49.5" lengthAdjust="spacingAndGlyphs" transform="rotate(-90 262.1 1894.5)">(dB)</text>
<text x="1022.8" y="2003.5" font-size="30.8" textLength="118.5" lengthAdjust="spacingAndGlyphs" transform="rotate(-90 1022.8 2003.5)">相位裕度</text>
<text x="1018.4" y="1874" font-size="28.7" textLength="25.5" lengthAdjust="spacingAndGlyphs" transform="rotate(-90 1018.4 1874)">(°)</text>
<text x="599.2" y="2226.9" font-size="30.8" textLength="59.5" lengthAdjust="spacingAndGlyphs">频率</text>
<text x="667" y="2222.2" font-size="25" textLength="50.3" lengthAdjust="spacingAndGlyphs">(Hz)</text>
</g>
</svg>
<div class="abs cap" id="c25" style="left:444px;top:988.5px">图 25. 正向过载恢复</div>
<div class="abs cap" id="c26" style="left:1231.7px;top:990px">图 26. 反向过载恢复</div>
<div class="abs cap" id="c27" style="left:428px;top:1615.5px">图 27. 小信号阶跃响应</div>
<div class="abs cap" id="c28" style="left:1215px;top:1625.3px">图 28. 大信号阶跃响应</div>
<div class="abs cap" id="c29" style="left:309.9px;top:2260.8px">图 29. 开环增益和相位裕度与频率的关系</div>
</main>
<footer>
<div class="rule" style="left:201px;top:2414px;width:1576px;height:7.2px"></div>
<div class="abs ftr" id="pg" style="left:944.3px;top:2424.5px;letter-spacing:0.4px">15 / 24</div>
<div class="abs ftr" id="url" style="left:1542.3px;top:2424.5px;transform:scaleX(0.925)">www.tailianxin.cn</div>
</footer>
</body>
</html>
